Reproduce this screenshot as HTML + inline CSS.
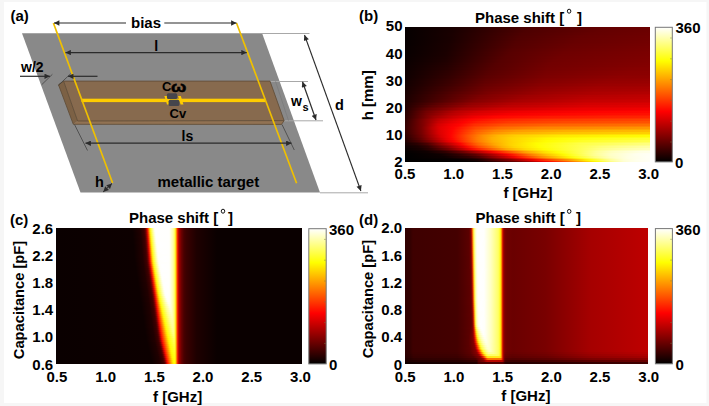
<!DOCTYPE html>
<html><head><meta charset="utf-8"><style>
html,body{margin:0;padding:0;background:#fff;}
body{width:709px;height:406px;overflow:hidden;}
svg{display:block;}
text{font-family:"Liberation Sans",sans-serif;font-weight:bold;fill:#000;}
</style></head><body>
<svg width="709" height="406" viewBox="0 0 709 406">
<defs>
<linearGradient id="gb0"><stop offset="0.0000" stop-color="#060000"/><stop offset="0.1990" stop-color="#1a0000"/><stop offset="0.5133" stop-color="#4d0000"/><stop offset="0.8582" stop-color="#650000"/><stop offset="1.0000" stop-color="#6a0000"/></linearGradient>
<linearGradient id="gb1"><stop offset="0.0000" stop-color="#060000"/><stop offset="0.1969" stop-color="#1a0000"/><stop offset="0.5010" stop-color="#4d0000"/><stop offset="0.8235" stop-color="#640000"/><stop offset="1.0000" stop-color="#6b0000"/></linearGradient>
<linearGradient id="gb2"><stop offset="0.0000" stop-color="#060000"/><stop offset="0.1949" stop-color="#190000"/><stop offset="0.4888" stop-color="#4d0000"/><stop offset="0.7888" stop-color="#640000"/><stop offset="1.0000" stop-color="#6c0000"/></linearGradient>
<linearGradient id="gb3"><stop offset="0.0000" stop-color="#060000"/><stop offset="0.1929" stop-color="#190000"/><stop offset="0.4806" stop-color="#4d0000"/><stop offset="0.7663" stop-color="#640000"/><stop offset="1.0000" stop-color="#6d0000"/></linearGradient>
<linearGradient id="gb4"><stop offset="0.0000" stop-color="#060000"/><stop offset="0.1929" stop-color="#1a0000"/><stop offset="0.4745" stop-color="#4e0000"/><stop offset="0.7480" stop-color="#640000"/><stop offset="1.0000" stop-color="#6e0000"/></linearGradient>
<linearGradient id="gb5"><stop offset="0.0000" stop-color="#060000"/><stop offset="0.1908" stop-color="#1a0000"/><stop offset="0.4684" stop-color="#4e0000"/><stop offset="0.7316" stop-color="#650000"/><stop offset="1.0000" stop-color="#6f0000"/></linearGradient>
<linearGradient id="gb6"><stop offset="0.0000" stop-color="#060000"/><stop offset="0.1867" stop-color="#190000"/><stop offset="0.4643" stop-color="#4f0000"/><stop offset="0.7214" stop-color="#650000"/><stop offset="1.0000" stop-color="#700000"/></linearGradient>
<linearGradient id="gb7"><stop offset="0.0000" stop-color="#060000"/><stop offset="0.1847" stop-color="#190000"/><stop offset="0.4602" stop-color="#500000"/><stop offset="0.7092" stop-color="#660000"/><stop offset="1.0000" stop-color="#710000"/></linearGradient>
<linearGradient id="gb8"><stop offset="0.0000" stop-color="#070000"/><stop offset="0.1827" stop-color="#190000"/><stop offset="0.4561" stop-color="#510000"/><stop offset="0.6990" stop-color="#670000"/><stop offset="1.0000" stop-color="#720000"/></linearGradient>
<linearGradient id="gb9"><stop offset="0.0000" stop-color="#070000"/><stop offset="0.1806" stop-color="#190000"/><stop offset="0.4520" stop-color="#520000"/><stop offset="0.6908" stop-color="#670000"/><stop offset="1.0000" stop-color="#730000"/></linearGradient>
<linearGradient id="gb10"><stop offset="0.0000" stop-color="#070000"/><stop offset="0.1786" stop-color="#1a0000"/><stop offset="0.4500" stop-color="#530000"/><stop offset="0.6867" stop-color="#680000"/><stop offset="1.0000" stop-color="#740000"/></linearGradient>
<linearGradient id="gb11"><stop offset="0.0000" stop-color="#070000"/><stop offset="0.1765" stop-color="#1a0000"/><stop offset="0.4459" stop-color="#530000"/><stop offset="0.6786" stop-color="#690000"/><stop offset="1.0000" stop-color="#750000"/></linearGradient>
<linearGradient id="gb12"><stop offset="0.0000" stop-color="#080000"/><stop offset="0.1745" stop-color="#1a0000"/><stop offset="0.4418" stop-color="#540000"/><stop offset="0.6724" stop-color="#6a0000"/><stop offset="1.0000" stop-color="#770000"/></linearGradient>
<linearGradient id="gb13"><stop offset="0.0000" stop-color="#080000"/><stop offset="0.1724" stop-color="#1a0000"/><stop offset="0.4378" stop-color="#550000"/><stop offset="0.6643" stop-color="#6b0000"/><stop offset="1.0000" stop-color="#780000"/></linearGradient>
<linearGradient id="gb14"><stop offset="0.0000" stop-color="#080000"/><stop offset="0.1704" stop-color="#1a0000"/><stop offset="0.4337" stop-color="#560000"/><stop offset="0.6602" stop-color="#6c0000"/><stop offset="1.0000" stop-color="#790000"/></linearGradient>
<linearGradient id="gb15"><stop offset="0.0000" stop-color="#080000"/><stop offset="0.1684" stop-color="#1a0000"/><stop offset="0.4296" stop-color="#560000"/><stop offset="0.6541" stop-color="#6d0000"/><stop offset="1.0000" stop-color="#7a0000"/></linearGradient>
<linearGradient id="gb16"><stop offset="0.0000" stop-color="#080000"/><stop offset="0.1684" stop-color="#1b0000"/><stop offset="0.4255" stop-color="#570000"/><stop offset="0.6500" stop-color="#6e0000"/><stop offset="1.0000" stop-color="#7b0000"/></linearGradient>
<linearGradient id="gb17"><stop offset="0.0000" stop-color="#090000"/><stop offset="0.1663" stop-color="#1b0000"/><stop offset="0.4194" stop-color="#570000"/><stop offset="0.6418" stop-color="#6f0000"/><stop offset="1.0000" stop-color="#7c0000"/></linearGradient>
<linearGradient id="gb18"><stop offset="0.0000" stop-color="#090000"/><stop offset="0.1663" stop-color="#1c0000"/><stop offset="0.4112" stop-color="#570000"/><stop offset="0.6337" stop-color="#700000"/><stop offset="1.0000" stop-color="#7d0000"/></linearGradient>
<linearGradient id="gb19"><stop offset="0.0000" stop-color="#0a0000"/><stop offset="0.1663" stop-color="#1d0000"/><stop offset="0.4031" stop-color="#560000"/><stop offset="0.6235" stop-color="#700000"/><stop offset="1.0000" stop-color="#7e0000"/></linearGradient>
<linearGradient id="gb20"><stop offset="0.0000" stop-color="#0a0000"/><stop offset="0.1663" stop-color="#1e0000"/><stop offset="0.3969" stop-color="#560000"/><stop offset="0.6173" stop-color="#710000"/><stop offset="1.0000" stop-color="#7f0000"/></linearGradient>
<linearGradient id="gb21"><stop offset="0.0000" stop-color="#0a0000"/><stop offset="0.1663" stop-color="#1f0000"/><stop offset="0.3888" stop-color="#560000"/><stop offset="0.6092" stop-color="#710000"/><stop offset="1.0000" stop-color="#800000"/></linearGradient>
<linearGradient id="gb22"><stop offset="0.0000" stop-color="#0b0000"/><stop offset="0.1684" stop-color="#210000"/><stop offset="0.3806" stop-color="#550000"/><stop offset="0.6010" stop-color="#720000"/><stop offset="1.0000" stop-color="#810000"/></linearGradient>
<linearGradient id="gb23"><stop offset="0.0000" stop-color="#0b0000"/><stop offset="0.1704" stop-color="#230000"/><stop offset="0.3704" stop-color="#550000"/><stop offset="0.5908" stop-color="#720000"/><stop offset="0.9949" stop-color="#820000"/><stop offset="1.0000" stop-color="#820000"/></linearGradient>
<linearGradient id="gb24"><stop offset="0.0000" stop-color="#0c0000"/><stop offset="0.1704" stop-color="#250000"/><stop offset="0.3643" stop-color="#550000"/><stop offset="0.5867" stop-color="#730000"/><stop offset="0.9847" stop-color="#830000"/><stop offset="1.0000" stop-color="#840000"/></linearGradient>
<linearGradient id="gb25"><stop offset="0.0000" stop-color="#0c0000"/><stop offset="0.1724" stop-color="#270000"/><stop offset="0.3582" stop-color="#550000"/><stop offset="0.5827" stop-color="#740000"/><stop offset="0.9704" stop-color="#850000"/><stop offset="1.0000" stop-color="#850000"/></linearGradient>
<linearGradient id="gb26"><stop offset="0.0000" stop-color="#0d0000"/><stop offset="0.1724" stop-color="#280000"/><stop offset="0.3520" stop-color="#550000"/><stop offset="0.5806" stop-color="#750000"/><stop offset="0.9582" stop-color="#860000"/><stop offset="1.0000" stop-color="#860000"/></linearGradient>
<linearGradient id="gb27"><stop offset="0.0000" stop-color="#0d0000"/><stop offset="0.1745" stop-color="#2b0000"/><stop offset="0.3459" stop-color="#560000"/><stop offset="0.5765" stop-color="#760000"/><stop offset="0.9316" stop-color="#870000"/><stop offset="1.0000" stop-color="#880000"/></linearGradient>
<linearGradient id="gb28"><stop offset="0.0000" stop-color="#0e0000"/><stop offset="0.1765" stop-color="#2d0000"/><stop offset="0.3418" stop-color="#570000"/><stop offset="0.5765" stop-color="#780000"/><stop offset="0.9194" stop-color="#890000"/><stop offset="1.0000" stop-color="#8a0000"/></linearGradient>
<linearGradient id="gb29"><stop offset="0.0000" stop-color="#0e0000"/><stop offset="0.1765" stop-color="#2f0000"/><stop offset="0.3378" stop-color="#580000"/><stop offset="0.5765" stop-color="#7a0000"/><stop offset="0.9071" stop-color="#8a0000"/><stop offset="1.0000" stop-color="#8b0000"/></linearGradient>
<linearGradient id="gb30"><stop offset="0.0000" stop-color="#0f0000"/><stop offset="0.1786" stop-color="#310000"/><stop offset="0.3357" stop-color="#5a0000"/><stop offset="0.5765" stop-color="#7c0000"/><stop offset="0.8969" stop-color="#8c0000"/><stop offset="1.0000" stop-color="#8d0000"/></linearGradient>
<linearGradient id="gb31"><stop offset="0.0000" stop-color="#0f0000"/><stop offset="0.1786" stop-color="#330000"/><stop offset="0.3316" stop-color="#5b0000"/><stop offset="0.5724" stop-color="#7d0000"/><stop offset="0.8745" stop-color="#8e0000"/><stop offset="1.0000" stop-color="#8f0000"/></linearGradient>
<linearGradient id="gb32"><stop offset="0.0000" stop-color="#100000"/><stop offset="0.1786" stop-color="#350000"/><stop offset="0.3296" stop-color="#5d0000"/><stop offset="0.5724" stop-color="#800000"/><stop offset="0.8622" stop-color="#900000"/><stop offset="1.0000" stop-color="#920000"/></linearGradient>
<linearGradient id="gb33"><stop offset="0.0000" stop-color="#110000"/><stop offset="0.1806" stop-color="#380000"/><stop offset="0.3276" stop-color="#5f0000"/><stop offset="0.5684" stop-color="#820000"/><stop offset="0.8418" stop-color="#920000"/><stop offset="1.0000" stop-color="#950000"/></linearGradient>
<linearGradient id="gb34"><stop offset="0.0000" stop-color="#120000"/><stop offset="0.1806" stop-color="#3a0000"/><stop offset="0.3276" stop-color="#620000"/><stop offset="0.5663" stop-color="#840000"/><stop offset="0.8296" stop-color="#950000"/><stop offset="1.0000" stop-color="#980000"/></linearGradient>
<linearGradient id="gb35"><stop offset="0.0000" stop-color="#120000"/><stop offset="0.1827" stop-color="#3c0000"/><stop offset="0.3255" stop-color="#640000"/><stop offset="0.5602" stop-color="#870000"/><stop offset="0.8112" stop-color="#970000"/><stop offset="1.0000" stop-color="#9b0000"/></linearGradient>
<linearGradient id="gb36"><stop offset="0.0000" stop-color="#130000"/><stop offset="0.1847" stop-color="#3f0000"/><stop offset="0.3255" stop-color="#670000"/><stop offset="0.5582" stop-color="#890000"/><stop offset="0.8010" stop-color="#9a0000"/><stop offset="1.0000" stop-color="#9e0000"/></linearGradient>
<linearGradient id="gb37"><stop offset="0.0000" stop-color="#140000"/><stop offset="0.1867" stop-color="#430000"/><stop offset="0.3255" stop-color="#6a0000"/><stop offset="0.5541" stop-color="#8c0000"/><stop offset="0.7908" stop-color="#9e0000"/><stop offset="1.0000" stop-color="#a20000"/></linearGradient>
<linearGradient id="gb38"><stop offset="0.0000" stop-color="#150000"/><stop offset="0.1908" stop-color="#470000"/><stop offset="0.3255" stop-color="#6d0000"/><stop offset="0.5480" stop-color="#8f0000"/><stop offset="0.7786" stop-color="#a10000"/><stop offset="1.0000" stop-color="#a60000"/></linearGradient>
<linearGradient id="gb39"><stop offset="0.0000" stop-color="#160000"/><stop offset="0.1949" stop-color="#4b0000"/><stop offset="0.3276" stop-color="#710000"/><stop offset="0.5459" stop-color="#930000"/><stop offset="0.7745" stop-color="#a50000"/><stop offset="1.0000" stop-color="#aa0000"/></linearGradient>
<linearGradient id="gb40"><stop offset="0.0000" stop-color="#170000"/><stop offset="0.1990" stop-color="#500000"/><stop offset="0.3296" stop-color="#750000"/><stop offset="0.5439" stop-color="#960000"/><stop offset="0.7704" stop-color="#a80000"/><stop offset="1.0000" stop-color="#ae0000"/></linearGradient>
<linearGradient id="gb41"><stop offset="0.0000" stop-color="#170000"/><stop offset="0.2071" stop-color="#560000"/><stop offset="0.3378" stop-color="#7a0000"/><stop offset="0.5541" stop-color="#9b0000"/><stop offset="0.7765" stop-color="#ad0000"/><stop offset="1.0000" stop-color="#b20000"/></linearGradient>
<linearGradient id="gb42"><stop offset="0.0000" stop-color="#190000"/><stop offset="0.2214" stop-color="#5f0000"/><stop offset="0.3602" stop-color="#840000"/><stop offset="0.6194" stop-color="#a70000"/><stop offset="0.9520" stop-color="#b70000"/><stop offset="1.0000" stop-color="#b80000"/></linearGradient>
<linearGradient id="gb43"><stop offset="0.0000" stop-color="#1a0000"/><stop offset="0.3092" stop-color="#7d0000"/><stop offset="0.4969" stop-color="#9e0000"/><stop offset="0.7439" stop-color="#b50000"/><stop offset="1.0000" stop-color="#bd0000"/></linearGradient>
<linearGradient id="gb44"><stop offset="0.0000" stop-color="#1b0000"/><stop offset="0.3031" stop-color="#800000"/><stop offset="0.4867" stop-color="#a10000"/><stop offset="0.7398" stop-color="#ba0000"/><stop offset="1.0000" stop-color="#c10000"/></linearGradient>
<linearGradient id="gb45"><stop offset="0.0000" stop-color="#1b0000"/><stop offset="0.2949" stop-color="#830000"/><stop offset="0.4745" stop-color="#a50000"/><stop offset="0.7378" stop-color="#bf0000"/><stop offset="1.0000" stop-color="#c60000"/></linearGradient>
<linearGradient id="gb46"><stop offset="0.0000" stop-color="#1c0000"/><stop offset="0.2867" stop-color="#860000"/><stop offset="0.4622" stop-color="#a80000"/><stop offset="0.7357" stop-color="#c40000"/><stop offset="1.0000" stop-color="#cb0000"/></linearGradient>
<linearGradient id="gb47"><stop offset="0.0000" stop-color="#1e0000"/><stop offset="0.2684" stop-color="#890000"/><stop offset="0.4378" stop-color="#ad0000"/><stop offset="0.7316" stop-color="#ca0000"/><stop offset="1.0000" stop-color="#d20000"/></linearGradient>
<linearGradient id="gb48"><stop offset="0.0000" stop-color="#1f0000"/><stop offset="0.1398" stop-color="#600000"/><stop offset="0.2724" stop-color="#940000"/><stop offset="0.4418" stop-color="#b60000"/><stop offset="0.7418" stop-color="#d20000"/><stop offset="1.0000" stop-color="#da0000"/></linearGradient>
<linearGradient id="gb49"><stop offset="0.0000" stop-color="#200000"/><stop offset="0.1092" stop-color="#5c0000"/><stop offset="0.2582" stop-color="#9a0000"/><stop offset="0.4214" stop-color="#bd0000"/><stop offset="0.7398" stop-color="#da0000"/><stop offset="1.0000" stop-color="#e10000"/></linearGradient>
<linearGradient id="gb50"><stop offset="0.0000" stop-color="#210000"/><stop offset="0.0969" stop-color="#5e0000"/><stop offset="0.2459" stop-color="#a10000"/><stop offset="0.4031" stop-color="#c40000"/><stop offset="0.7378" stop-color="#e20000"/><stop offset="1.0000" stop-color="#e80000"/></linearGradient>
<linearGradient id="gb51"><stop offset="0.0000" stop-color="#220000"/><stop offset="0.0888" stop-color="#630000"/><stop offset="0.2357" stop-color="#a90000"/><stop offset="0.3867" stop-color="#cc0000"/><stop offset="0.6908" stop-color="#e80000"/><stop offset="1.0000" stop-color="#f10000"/></linearGradient>
<linearGradient id="gb52"><stop offset="0.0000" stop-color="#240000"/><stop offset="0.0867" stop-color="#6a0000"/><stop offset="0.2255" stop-color="#b20000"/><stop offset="0.3602" stop-color="#d50000"/><stop offset="0.5724" stop-color="#eb0000"/><stop offset="0.9541" stop-color="#fa0000"/><stop offset="1.0000" stop-color="#fa0100"/></linearGradient>
<linearGradient id="gb53"><stop offset="0.0000" stop-color="#250000"/><stop offset="0.0847" stop-color="#710000"/><stop offset="0.2051" stop-color="#b70000"/><stop offset="0.3051" stop-color="#d70000"/><stop offset="0.4622" stop-color="#ef0000"/><stop offset="0.7827" stop-color="#fe0300"/><stop offset="1.0000" stop-color="#ff0700"/></linearGradient>
<linearGradient id="gb54"><stop offset="0.0000" stop-color="#270000"/><stop offset="0.0888" stop-color="#7a0000"/><stop offset="0.1847" stop-color="#b60000"/><stop offset="0.2745" stop-color="#da0000"/><stop offset="0.4214" stop-color="#f60000"/><stop offset="0.6582" stop-color="#ff0700"/><stop offset="1.0000" stop-color="#ff1000"/></linearGradient>
<linearGradient id="gb55"><stop offset="0.0000" stop-color="#280000"/><stop offset="0.0969" stop-color="#860000"/><stop offset="0.1724" stop-color="#b80000"/><stop offset="0.2704" stop-color="#e30000"/><stop offset="0.3908" stop-color="#fc0200"/><stop offset="0.8520" stop-color="#ff1800"/><stop offset="1.0000" stop-color="#ff1a00"/></linearGradient>
<linearGradient id="gb56"><stop offset="0.0000" stop-color="#2a0000"/><stop offset="0.1194" stop-color="#9e0000"/><stop offset="0.1969" stop-color="#cd0000"/><stop offset="0.2888" stop-color="#f30000"/><stop offset="0.3704" stop-color="#ff0700"/><stop offset="0.5786" stop-color="#ff1900"/><stop offset="1.0000" stop-color="#ff2500"/></linearGradient>
<linearGradient id="gb57"><stop offset="0.0000" stop-color="#2c0000"/><stop offset="0.1337" stop-color="#b40000"/><stop offset="0.2112" stop-color="#de0000"/><stop offset="0.2786" stop-color="#fc0200"/><stop offset="0.4500" stop-color="#ff1f00"/><stop offset="0.8827" stop-color="#ff3200"/><stop offset="1.0000" stop-color="#ff3400"/></linearGradient>
<linearGradient id="gb58"><stop offset="0.0000" stop-color="#2e0000"/><stop offset="0.1031" stop-color="#9e0000"/><stop offset="0.1439" stop-color="#c60000"/><stop offset="0.2582" stop-color="#fe0400"/><stop offset="0.3806" stop-color="#ff2500"/><stop offset="0.5724" stop-color="#ff3700"/><stop offset="1.0000" stop-color="#ff4300"/></linearGradient>
<linearGradient id="gb59"><stop offset="0.0000" stop-color="#300000"/><stop offset="0.0888" stop-color="#900000"/><stop offset="0.1357" stop-color="#c80000"/><stop offset="0.1867" stop-color="#e50000"/><stop offset="0.2418" stop-color="#fe0400"/><stop offset="0.2990" stop-color="#ff1d00"/><stop offset="0.4296" stop-color="#ff3900"/><stop offset="0.6582" stop-color="#ff4800"/><stop offset="1.0000" stop-color="#ff5100"/></linearGradient>
<linearGradient id="gb60"><stop offset="0.0000" stop-color="#320000"/><stop offset="0.0806" stop-color="#880000"/><stop offset="0.1337" stop-color="#ce0000"/><stop offset="0.1806" stop-color="#ea0000"/><stop offset="0.2296" stop-color="#fe0400"/><stop offset="0.2847" stop-color="#ff2400"/><stop offset="0.4133" stop-color="#ff4400"/><stop offset="0.6133" stop-color="#ff5500"/><stop offset="1.0000" stop-color="#ff6000"/></linearGradient>
<linearGradient id="gb61"><stop offset="0.0000" stop-color="#330000"/><stop offset="0.0745" stop-color="#810000"/><stop offset="0.1337" stop-color="#d40000"/><stop offset="0.1786" stop-color="#f00000"/><stop offset="0.2194" stop-color="#ff0400"/><stop offset="0.2827" stop-color="#ff2d00"/><stop offset="0.4051" stop-color="#ff5000"/><stop offset="0.5908" stop-color="#ff6300"/><stop offset="1.0000" stop-color="#ff7000"/></linearGradient>
<linearGradient id="gb62"><stop offset="0.0000" stop-color="#340000"/><stop offset="0.0684" stop-color="#7b0000"/><stop offset="0.1337" stop-color="#d90000"/><stop offset="0.1765" stop-color="#f40000"/><stop offset="0.2112" stop-color="#ff0500"/><stop offset="0.2827" stop-color="#ff3900"/><stop offset="0.3949" stop-color="#ff5d00"/><stop offset="0.5663" stop-color="#ff7300"/><stop offset="1.0000" stop-color="#ff8200"/></linearGradient>
<linearGradient id="gb63"><stop offset="0.0000" stop-color="#350000"/><stop offset="0.0663" stop-color="#790000"/><stop offset="0.1112" stop-color="#bc0000"/><stop offset="0.1398" stop-color="#e00000"/><stop offset="0.1969" stop-color="#ff0200"/><stop offset="0.2459" stop-color="#ff2800"/><stop offset="0.2888" stop-color="#ff4700"/><stop offset="0.3888" stop-color="#ff6c00"/><stop offset="0.5459" stop-color="#ff8300"/><stop offset="1.0000" stop-color="#ff9600"/></linearGradient>
<linearGradient id="gb64"><stop offset="0.0000" stop-color="#340000"/><stop offset="0.0663" stop-color="#780000"/><stop offset="0.1133" stop-color="#be0000"/><stop offset="0.1418" stop-color="#e10000"/><stop offset="0.1949" stop-color="#ff0400"/><stop offset="0.2459" stop-color="#ff2f00"/><stop offset="0.2888" stop-color="#ff5000"/><stop offset="0.3786" stop-color="#ff7800"/><stop offset="0.5031" stop-color="#ff9000"/><stop offset="0.8296" stop-color="#ffa200"/><stop offset="1.0000" stop-color="#ffa700"/></linearGradient>
<linearGradient id="gb65"><stop offset="0.0000" stop-color="#330000"/><stop offset="0.0663" stop-color="#770000"/><stop offset="0.1357" stop-color="#da0000"/><stop offset="0.1908" stop-color="#ff0300"/><stop offset="0.2439" stop-color="#ff3300"/><stop offset="0.2888" stop-color="#ff5b00"/><stop offset="0.3684" stop-color="#ff8400"/><stop offset="0.4582" stop-color="#ff9c00"/><stop offset="0.6541" stop-color="#ffae00"/><stop offset="1.0000" stop-color="#ffbb00"/></linearGradient>
<linearGradient id="gb66"><stop offset="0.0000" stop-color="#310000"/><stop offset="0.0663" stop-color="#750000"/><stop offset="0.1357" stop-color="#d80000"/><stop offset="0.1888" stop-color="#ff0300"/><stop offset="0.2459" stop-color="#ff3c00"/><stop offset="0.2929" stop-color="#ff6800"/><stop offset="0.3643" stop-color="#ff9300"/><stop offset="0.4418" stop-color="#ffab00"/><stop offset="0.6276" stop-color="#ffc000"/><stop offset="1.0000" stop-color="#ffcf00"/></linearGradient>
<linearGradient id="gb67"><stop offset="0.0000" stop-color="#2e0000"/><stop offset="0.0663" stop-color="#720000"/><stop offset="0.1398" stop-color="#d90000"/><stop offset="0.1867" stop-color="#ff0300"/><stop offset="0.2480" stop-color="#ff4500"/><stop offset="0.2990" stop-color="#ff7700"/><stop offset="0.3622" stop-color="#ffa200"/><stop offset="0.4357" stop-color="#ffbe00"/><stop offset="0.6173" stop-color="#ffd500"/><stop offset="1.0000" stop-color="#ffe700"/></linearGradient>
<linearGradient id="gb68"><stop offset="0.0000" stop-color="#2a0000"/><stop offset="0.0663" stop-color="#6e0000"/><stop offset="0.1439" stop-color="#d90000"/><stop offset="0.1867" stop-color="#ff0300"/><stop offset="0.2561" stop-color="#ff5300"/><stop offset="0.3194" stop-color="#ff9100"/><stop offset="0.3827" stop-color="#ffb900"/><stop offset="0.4541" stop-color="#ffd000"/><stop offset="0.6418" stop-color="#ffea00"/><stop offset="0.9888" stop-color="#fffb05"/><stop offset="1.0000" stop-color="#fffb05"/></linearGradient>
<linearGradient id="gb69"><stop offset="0.0000" stop-color="#280000"/><stop offset="0.0643" stop-color="#680000"/><stop offset="0.1500" stop-color="#dc0000"/><stop offset="0.1867" stop-color="#ff0300"/><stop offset="0.2929" stop-color="#ff7c00"/><stop offset="0.3541" stop-color="#ffae00"/><stop offset="0.4296" stop-color="#ffd000"/><stop offset="0.5867" stop-color="#fff000"/><stop offset="0.7500" stop-color="#fffd06"/><stop offset="1.0000" stop-color="#ffff1a"/></linearGradient>
<linearGradient id="gb70"><stop offset="0.0000" stop-color="#240000"/><stop offset="0.0622" stop-color="#5f0000"/><stop offset="0.1112" stop-color="#a00000"/><stop offset="0.1663" stop-color="#e80000"/><stop offset="0.1908" stop-color="#fe0400"/><stop offset="0.2929" stop-color="#ff7b00"/><stop offset="0.3541" stop-color="#ffae00"/><stop offset="0.4316" stop-color="#ffd200"/><stop offset="0.5745" stop-color="#fff600"/><stop offset="0.6724" stop-color="#ffff0b"/><stop offset="0.9418" stop-color="#ffff2f"/><stop offset="1.0000" stop-color="#ffff33"/></linearGradient>
<linearGradient id="gb71"><stop offset="0.0000" stop-color="#200000"/><stop offset="0.0561" stop-color="#4d0000"/><stop offset="0.0990" stop-color="#7f0000"/><stop offset="0.1704" stop-color="#e10000"/><stop offset="0.1990" stop-color="#fd0400"/><stop offset="0.2480" stop-color="#ff4100"/><stop offset="0.2990" stop-color="#ff7d00"/><stop offset="0.3602" stop-color="#ffaf00"/><stop offset="0.4398" stop-color="#ffd600"/><stop offset="0.5765" stop-color="#fffd01"/><stop offset="0.7357" stop-color="#ffff28"/><stop offset="0.9806" stop-color="#ffff4a"/><stop offset="1.0000" stop-color="#ffff4b"/></linearGradient>
<linearGradient id="gb72"><stop offset="0.0000" stop-color="#1a0000"/><stop offset="0.0520" stop-color="#3a0000"/><stop offset="0.0949" stop-color="#650000"/><stop offset="0.1990" stop-color="#ee0000"/><stop offset="0.2173" stop-color="#fe0800"/><stop offset="0.2847" stop-color="#ff6400"/><stop offset="0.3500" stop-color="#ffa300"/><stop offset="0.4194" stop-color="#ffcd00"/><stop offset="0.5296" stop-color="#fff700"/><stop offset="0.5724" stop-color="#ffff06"/><stop offset="0.7153" stop-color="#ffff39"/><stop offset="0.9847" stop-color="#ffff64"/><stop offset="1.0000" stop-color="#ffff66"/></linearGradient>
<linearGradient id="gb73"><stop offset="0.0000" stop-color="#150000"/><stop offset="0.0500" stop-color="#2a0000"/><stop offset="0.0908" stop-color="#4a0000"/><stop offset="0.2255" stop-color="#fa0300"/><stop offset="0.2541" stop-color="#ff2d00"/><stop offset="0.2969" stop-color="#ff6600"/><stop offset="0.3643" stop-color="#ffa700"/><stop offset="0.4276" stop-color="#ffd100"/><stop offset="0.5378" stop-color="#fffd00"/><stop offset="0.7173" stop-color="#ffff49"/><stop offset="0.9541" stop-color="#ffff79"/><stop offset="1.0000" stop-color="#ffff7f"/></linearGradient>
<linearGradient id="gb74"><stop offset="0.0000" stop-color="#110000"/><stop offset="0.0500" stop-color="#200000"/><stop offset="0.0908" stop-color="#3b0000"/><stop offset="0.1929" stop-color="#ba0000"/><stop offset="0.2357" stop-color="#f90300"/><stop offset="0.2582" stop-color="#ff2300"/><stop offset="0.3010" stop-color="#ff5e00"/><stop offset="0.3827" stop-color="#ffb000"/><stop offset="0.4378" stop-color="#ffd600"/><stop offset="0.5439" stop-color="#ffff01"/><stop offset="0.7071" stop-color="#ffff4c"/><stop offset="0.8663" stop-color="#ffff7c"/><stop offset="1.0000" stop-color="#ffff93"/></linearGradient>
<linearGradient id="gb75"><stop offset="0.0000" stop-color="#0d0000"/><stop offset="0.0541" stop-color="#1b0000"/><stop offset="0.0949" stop-color="#330000"/><stop offset="0.1786" stop-color="#910000"/><stop offset="0.2337" stop-color="#e10000"/><stop offset="0.2520" stop-color="#fa0700"/><stop offset="0.2990" stop-color="#ff4800"/><stop offset="0.3969" stop-color="#ffb200"/><stop offset="0.4459" stop-color="#ffd400"/><stop offset="0.5480" stop-color="#fffe02"/><stop offset="0.8071" stop-color="#ffff7c"/><stop offset="0.9582" stop-color="#ffffa2"/><stop offset="1.0000" stop-color="#ffffa7"/></linearGradient>
<linearGradient id="gb76"><stop offset="0.0000" stop-color="#090000"/><stop offset="0.0622" stop-color="#170000"/><stop offset="0.1051" stop-color="#2f0000"/><stop offset="0.1745" stop-color="#720000"/><stop offset="0.2337" stop-color="#c10000"/><stop offset="0.2663" stop-color="#f10400"/><stop offset="0.2929" stop-color="#fe1d00"/><stop offset="0.4133" stop-color="#ffa700"/><stop offset="0.4888" stop-color="#ffdb00"/><stop offset="0.5684" stop-color="#fffd03"/><stop offset="0.7235" stop-color="#ffff59"/><stop offset="0.7990" stop-color="#ffff88"/><stop offset="0.8949" stop-color="#ffffa9"/><stop offset="1.0000" stop-color="#ffffbd"/></linearGradient>
<linearGradient id="gb77"><stop offset="0.0000" stop-color="#050000"/><stop offset="0.0765" stop-color="#130000"/><stop offset="0.1459" stop-color="#3a0000"/><stop offset="0.2071" stop-color="#750000"/><stop offset="0.2969" stop-color="#e50300"/><stop offset="0.3316" stop-color="#fb1900"/><stop offset="0.4337" stop-color="#ff8f00"/><stop offset="0.5051" stop-color="#ffcb00"/><stop offset="0.5888" stop-color="#fffb02"/><stop offset="0.6398" stop-color="#ffff21"/><stop offset="0.7214" stop-color="#ffff5a"/><stop offset="0.7847" stop-color="#ffff8e"/><stop offset="0.8520" stop-color="#ffffb2"/><stop offset="0.9684" stop-color="#ffffd2"/><stop offset="1.0000" stop-color="#ffffd5"/></linearGradient>
<linearGradient id="gb78"><stop offset="0.0000" stop-color="#020000"/><stop offset="0.0908" stop-color="#0f0000"/><stop offset="0.1643" stop-color="#2f0000"/><stop offset="0.2398" stop-color="#6f0000"/><stop offset="0.3480" stop-color="#eb0400"/><stop offset="0.3765" stop-color="#fd1800"/><stop offset="0.4867" stop-color="#ff9c00"/><stop offset="0.5663" stop-color="#ffde00"/><stop offset="0.6214" stop-color="#fffd05"/><stop offset="0.7214" stop-color="#ffff5b"/><stop offset="0.7806" stop-color="#ffff96"/><stop offset="0.8439" stop-color="#ffffc0"/><stop offset="0.9582" stop-color="#ffffe4"/><stop offset="1.0000" stop-color="#ffffe8"/></linearGradient>
<linearGradient id="gb79"><stop offset="0.0000" stop-color="#000000"/><stop offset="0.1112" stop-color="#0e0000"/><stop offset="0.1724" stop-color="#220000"/><stop offset="0.2541" stop-color="#5b0000"/><stop offset="0.3133" stop-color="#970000"/><stop offset="0.3867" stop-color="#f10400"/><stop offset="0.4133" stop-color="#fe1b00"/><stop offset="0.5010" stop-color="#ff8c00"/><stop offset="0.5724" stop-color="#ffd100"/><stop offset="0.6378" stop-color="#fffd04"/><stop offset="0.7337" stop-color="#ffff6b"/><stop offset="0.7867" stop-color="#ffffa1"/><stop offset="0.8439" stop-color="#ffffc8"/><stop offset="0.9541" stop-color="#ffffed"/><stop offset="1.0000" stop-color="#fffff2"/></linearGradient>
<linearGradient id="gb80"><stop offset="0.0000" stop-color="#000000"/><stop offset="0.1418" stop-color="#0e0000"/><stop offset="0.2173" stop-color="#2d0000"/><stop offset="0.2867" stop-color="#5b0000"/><stop offset="0.3643" stop-color="#b20000"/><stop offset="0.4173" stop-color="#f30400"/><stop offset="0.4418" stop-color="#fe1b00"/><stop offset="0.5153" stop-color="#ff7e00"/><stop offset="0.5806" stop-color="#ffc300"/><stop offset="0.6500" stop-color="#fffa03"/><stop offset="0.6806" stop-color="#ffff24"/><stop offset="0.7704" stop-color="#ffff90"/><stop offset="0.8357" stop-color="#ffffc5"/><stop offset="0.9378" stop-color="#ffffec"/><stop offset="1.0000" stop-color="#fffff5"/></linearGradient>
<linearGradient id="gb81"><stop offset="0.0000" stop-color="#000000"/><stop offset="0.1602" stop-color="#0d0000"/><stop offset="0.2561" stop-color="#300000"/><stop offset="0.3031" stop-color="#500000"/><stop offset="0.4051" stop-color="#c20000"/><stop offset="0.4459" stop-color="#f40500"/><stop offset="0.4724" stop-color="#fe2100"/><stop offset="0.5582" stop-color="#ff8e00"/><stop offset="0.6684" stop-color="#fff503"/><stop offset="0.6929" stop-color="#fffe1a"/><stop offset="0.7724" stop-color="#ffff82"/><stop offset="0.8378" stop-color="#ffffc0"/><stop offset="0.9112" stop-color="#ffffe4"/><stop offset="0.9908" stop-color="#fffff5"/><stop offset="1.0000" stop-color="#fffff5"/></linearGradient>
<linearGradient id="gb82"><stop offset="0.0000" stop-color="#000000"/><stop offset="0.1827" stop-color="#0a0000"/><stop offset="0.2724" stop-color="#220000"/><stop offset="0.3133" stop-color="#3d0000"/><stop offset="0.4214" stop-color="#aa0000"/><stop offset="0.4765" stop-color="#ec0500"/><stop offset="0.5071" stop-color="#fd1d00"/><stop offset="0.5786" stop-color="#ff7300"/><stop offset="0.6724" stop-color="#ffd200"/><stop offset="0.7051" stop-color="#fff307"/><stop offset="0.7337" stop-color="#fffe24"/><stop offset="0.8214" stop-color="#ffff9e"/><stop offset="0.8684" stop-color="#ffffca"/><stop offset="0.9112" stop-color="#ffffe3"/><stop offset="0.9888" stop-color="#fffff4"/><stop offset="1.0000" stop-color="#fffff5"/></linearGradient>
<linearGradient id="gb83"><stop offset="0.0000" stop-color="#000000"/><stop offset="0.2276" stop-color="#070000"/><stop offset="0.2949" stop-color="#180000"/><stop offset="0.4276" stop-color="#820000"/><stop offset="0.5194" stop-color="#e90400"/><stop offset="0.5480" stop-color="#fc1800"/><stop offset="0.6561" stop-color="#ff8900"/><stop offset="0.7378" stop-color="#ffee04"/><stop offset="0.7602" stop-color="#fffd17"/><stop offset="0.8398" stop-color="#ffff9d"/><stop offset="0.8929" stop-color="#ffffd6"/><stop offset="0.9439" stop-color="#ffffec"/><stop offset="1.0000" stop-color="#fffff5"/></linearGradient>
<linearGradient id="gb84"><stop offset="0.0000" stop-color="#000000"/><stop offset="0.2786" stop-color="#050000"/><stop offset="0.3173" stop-color="#160000"/><stop offset="0.4418" stop-color="#650000"/><stop offset="0.5071" stop-color="#a70000"/><stop offset="0.5602" stop-color="#ea0400"/><stop offset="0.5969" stop-color="#fe1600"/><stop offset="0.6541" stop-color="#ff5500"/><stop offset="0.7663" stop-color="#fff003"/><stop offset="0.7847" stop-color="#fffe14"/><stop offset="0.8378" stop-color="#ffff82"/><stop offset="0.8908" stop-color="#ffffcd"/><stop offset="0.9235" stop-color="#ffffe4"/><stop offset="0.9929" stop-color="#fffff5"/><stop offset="1.0000" stop-color="#fffff5"/></linearGradient>
<linearGradient id="gc0"><stop offset="0.0000" stop-color="#0a0000"/><stop offset="0.3100" stop-color="#0d0000"/><stop offset="0.3425" stop-color="#1f0000"/><stop offset="0.3567" stop-color="#390000"/><stop offset="0.3608" stop-color="#4b0000"/><stop offset="0.3648" stop-color="#730000"/><stop offset="0.3689" stop-color="#b00300"/><stop offset="0.3709" stop-color="#d10b00"/><stop offset="0.3730" stop-color="#ea1f00"/><stop offset="0.3750" stop-color="#f84200"/><stop offset="0.3791" stop-color="#ff9f02"/><stop offset="0.3811" stop-color="#ffc908"/><stop offset="0.3831" stop-color="#ffe715"/><stop offset="0.3852" stop-color="#fff72a"/><stop offset="0.3892" stop-color="#ffff62"/><stop offset="0.3953" stop-color="#ffffb4"/><stop offset="0.3994" stop-color="#ffffe1"/><stop offset="0.4014" stop-color="#fffff1"/><stop offset="0.4055" stop-color="#fffffe"/><stop offset="0.4604" stop-color="#fffffd"/><stop offset="0.4644" stop-color="#fffff2"/><stop offset="0.4746" stop-color="#ffffb7"/><stop offset="0.4787" stop-color="#ffff95"/><stop offset="0.4807" stop-color="#ffff80"/><stop offset="0.4827" stop-color="#fffd63"/><stop offset="0.4848" stop-color="#fff542"/><stop offset="0.4868" stop-color="#ffe022"/><stop offset="0.4888" stop-color="#ffb90d"/><stop offset="0.4909" stop-color="#fe8504"/><stop offset="0.4929" stop-color="#f95101"/><stop offset="0.4949" stop-color="#ee2800"/><stop offset="0.4970" stop-color="#d90f00"/><stop offset="0.4990" stop-color="#c00400"/><stop offset="0.5030" stop-color="#970000"/><stop offset="0.5112" stop-color="#6b0000"/><stop offset="0.5213" stop-color="#480000"/><stop offset="0.5315" stop-color="#3a0000"/><stop offset="0.5722" stop-color="#1e0000"/><stop offset="0.6555" stop-color="#0a0000"/><stop offset="1.0000" stop-color="#0a0000"/></linearGradient>
<linearGradient id="gc1"><stop offset="0.0000" stop-color="#0a0000"/><stop offset="0.3100" stop-color="#0d0000"/><stop offset="0.3445" stop-color="#210000"/><stop offset="0.3587" stop-color="#3e0000"/><stop offset="0.3628" stop-color="#560000"/><stop offset="0.3648" stop-color="#6b0000"/><stop offset="0.3689" stop-color="#a60200"/><stop offset="0.3709" stop-color="#c70800"/><stop offset="0.3730" stop-color="#e31800"/><stop offset="0.3750" stop-color="#f43600"/><stop offset="0.3791" stop-color="#fe8f01"/><stop offset="0.3811" stop-color="#ffbc05"/><stop offset="0.3831" stop-color="#ffdf0f"/><stop offset="0.3852" stop-color="#fff321"/><stop offset="0.3872" stop-color="#fffc3a"/><stop offset="0.3953" stop-color="#ffffa9"/><stop offset="0.3994" stop-color="#ffffd8"/><stop offset="0.4014" stop-color="#ffffea"/><stop offset="0.4035" stop-color="#fffff6"/><stop offset="0.4075" stop-color="#fffffe"/><stop offset="0.4604" stop-color="#fffffd"/><stop offset="0.4644" stop-color="#fffff2"/><stop offset="0.4746" stop-color="#ffffb7"/><stop offset="0.4787" stop-color="#ffff95"/><stop offset="0.4807" stop-color="#ffff80"/><stop offset="0.4827" stop-color="#fffd63"/><stop offset="0.4848" stop-color="#fff542"/><stop offset="0.4868" stop-color="#ffe022"/><stop offset="0.4888" stop-color="#ffb90d"/><stop offset="0.4909" stop-color="#fe8504"/><stop offset="0.4929" stop-color="#f95101"/><stop offset="0.4949" stop-color="#ee2800"/><stop offset="0.4970" stop-color="#d90f00"/><stop offset="0.4990" stop-color="#c00400"/><stop offset="0.5030" stop-color="#970000"/><stop offset="0.5112" stop-color="#6b0000"/><stop offset="0.5213" stop-color="#480000"/><stop offset="0.5315" stop-color="#3a0000"/><stop offset="0.5722" stop-color="#1e0000"/><stop offset="0.6555" stop-color="#0a0000"/><stop offset="1.0000" stop-color="#0a0000"/></linearGradient>
<linearGradient id="gc2"><stop offset="0.0000" stop-color="#0a0000"/><stop offset="0.3120" stop-color="#0d0000"/><stop offset="0.3445" stop-color="#200000"/><stop offset="0.3587" stop-color="#3c0000"/><stop offset="0.3628" stop-color="#510000"/><stop offset="0.3669" stop-color="#7d0000"/><stop offset="0.3709" stop-color="#bd0500"/><stop offset="0.3730" stop-color="#db1200"/><stop offset="0.3750" stop-color="#f02b00"/><stop offset="0.3770" stop-color="#fa5100"/><stop offset="0.3811" stop-color="#ffad03"/><stop offset="0.3831" stop-color="#ffd30b"/><stop offset="0.3852" stop-color="#ffed19"/><stop offset="0.3872" stop-color="#fff92f"/><stop offset="0.3933" stop-color="#ffff83"/><stop offset="0.3994" stop-color="#ffffce"/><stop offset="0.4035" stop-color="#fffff1"/><stop offset="0.4075" stop-color="#fffffe"/><stop offset="0.4604" stop-color="#fffffd"/><stop offset="0.4644" stop-color="#fffff2"/><stop offset="0.4746" stop-color="#ffffb7"/><stop offset="0.4787" stop-color="#ffff95"/><stop offset="0.4807" stop-color="#ffff80"/><stop offset="0.4827" stop-color="#fffd63"/><stop offset="0.4848" stop-color="#fff542"/><stop offset="0.4868" stop-color="#ffe022"/><stop offset="0.4888" stop-color="#ffb90d"/><stop offset="0.4909" stop-color="#fe8504"/><stop offset="0.4929" stop-color="#f95101"/><stop offset="0.4949" stop-color="#ee2800"/><stop offset="0.4970" stop-color="#d90f00"/><stop offset="0.4990" stop-color="#c00400"/><stop offset="0.5030" stop-color="#970000"/><stop offset="0.5112" stop-color="#6b0000"/><stop offset="0.5213" stop-color="#480000"/><stop offset="0.5315" stop-color="#3a0000"/><stop offset="0.5722" stop-color="#1e0000"/><stop offset="0.6555" stop-color="#0a0000"/><stop offset="1.0000" stop-color="#0a0000"/></linearGradient>
<linearGradient id="gc3"><stop offset="0.0000" stop-color="#0a0000"/><stop offset="0.3120" stop-color="#0d0000"/><stop offset="0.3445" stop-color="#1f0000"/><stop offset="0.3587" stop-color="#3a0000"/><stop offset="0.3628" stop-color="#4c0000"/><stop offset="0.3669" stop-color="#740000"/><stop offset="0.3709" stop-color="#b20300"/><stop offset="0.3730" stop-color="#d20c00"/><stop offset="0.3750" stop-color="#eb2000"/><stop offset="0.3770" stop-color="#f84200"/><stop offset="0.3831" stop-color="#ffc707"/><stop offset="0.3852" stop-color="#ffe612"/><stop offset="0.3872" stop-color="#fff726"/><stop offset="0.3913" stop-color="#ffff5b"/><stop offset="0.3974" stop-color="#ffffac"/><stop offset="0.4014" stop-color="#ffffd9"/><stop offset="0.4055" stop-color="#fffff7"/><stop offset="0.4096" stop-color="#fffffe"/><stop offset="0.4604" stop-color="#fffffd"/><stop offset="0.4644" stop-color="#fffff2"/><stop offset="0.4746" stop-color="#ffffb7"/><stop offset="0.4787" stop-color="#ffff95"/><stop offset="0.4807" stop-color="#ffff80"/><stop offset="0.4827" stop-color="#fffd63"/><stop offset="0.4848" stop-color="#fff542"/><stop offset="0.4868" stop-color="#ffe022"/><stop offset="0.4888" stop-color="#ffb90d"/><stop offset="0.4909" stop-color="#fe8504"/><stop offset="0.4929" stop-color="#f95101"/><stop offset="0.4949" stop-color="#ee2800"/><stop offset="0.4970" stop-color="#d90f00"/><stop offset="0.4990" stop-color="#c00400"/><stop offset="0.5030" stop-color="#970000"/><stop offset="0.5112" stop-color="#6b0000"/><stop offset="0.5213" stop-color="#480000"/><stop offset="0.5315" stop-color="#3a0000"/><stop offset="0.5722" stop-color="#1e0000"/><stop offset="0.6555" stop-color="#0a0000"/><stop offset="1.0000" stop-color="#0a0000"/></linearGradient>
<linearGradient id="gc4"><stop offset="0.0000" stop-color="#0a0000"/><stop offset="0.3120" stop-color="#0d0000"/><stop offset="0.3465" stop-color="#210000"/><stop offset="0.3608" stop-color="#3e0000"/><stop offset="0.3648" stop-color="#570000"/><stop offset="0.3669" stop-color="#6c0000"/><stop offset="0.3709" stop-color="#a80200"/><stop offset="0.3730" stop-color="#c90800"/><stop offset="0.3750" stop-color="#e41800"/><stop offset="0.3770" stop-color="#f53600"/><stop offset="0.3811" stop-color="#fe8d01"/><stop offset="0.3831" stop-color="#ffb904"/><stop offset="0.3852" stop-color="#ffdc0d"/><stop offset="0.3872" stop-color="#fff11d"/><stop offset="0.3892" stop-color="#fffb34"/><stop offset="0.3994" stop-color="#ffffb9"/><stop offset="0.4035" stop-color="#ffffe3"/><stop offset="0.4055" stop-color="#fffff2"/><stop offset="0.4096" stop-color="#fffffe"/><stop offset="0.4604" stop-color="#fffffd"/><stop offset="0.4644" stop-color="#fffff2"/><stop offset="0.4746" stop-color="#ffffb7"/><stop offset="0.4787" stop-color="#ffff95"/><stop offset="0.4807" stop-color="#ffff80"/><stop offset="0.4827" stop-color="#fffd63"/><stop offset="0.4848" stop-color="#fff542"/><stop offset="0.4868" stop-color="#ffe022"/><stop offset="0.4888" stop-color="#ffb90d"/><stop offset="0.4909" stop-color="#fe8504"/><stop offset="0.4929" stop-color="#f95101"/><stop offset="0.4949" stop-color="#ee2800"/><stop offset="0.4970" stop-color="#d90f00"/><stop offset="0.4990" stop-color="#c00400"/><stop offset="0.5030" stop-color="#970000"/><stop offset="0.5112" stop-color="#6b0000"/><stop offset="0.5213" stop-color="#480000"/><stop offset="0.5315" stop-color="#3a0000"/><stop offset="0.5722" stop-color="#1e0000"/><stop offset="0.6555" stop-color="#0a0000"/><stop offset="1.0000" stop-color="#0a0000"/></linearGradient>
<linearGradient id="gc5"><stop offset="0.0000" stop-color="#0a0000"/><stop offset="0.3140" stop-color="#0d0000"/><stop offset="0.3465" stop-color="#200000"/><stop offset="0.3608" stop-color="#3c0000"/><stop offset="0.3648" stop-color="#520000"/><stop offset="0.3669" stop-color="#650000"/><stop offset="0.3709" stop-color="#9d0100"/><stop offset="0.3730" stop-color="#be0500"/><stop offset="0.3750" stop-color="#dc1200"/><stop offset="0.3770" stop-color="#f02b00"/><stop offset="0.3791" stop-color="#fb5000"/><stop offset="0.3831" stop-color="#ffaa03"/><stop offset="0.3852" stop-color="#ffd009"/><stop offset="0.3872" stop-color="#ffeb16"/><stop offset="0.3892" stop-color="#fff92b"/><stop offset="0.3953" stop-color="#ffff7b"/><stop offset="0.4014" stop-color="#ffffc5"/><stop offset="0.4055" stop-color="#ffffeb"/><stop offset="0.4096" stop-color="#fffffd"/><stop offset="0.4604" stop-color="#fffffd"/><stop offset="0.4644" stop-color="#fffff2"/><stop offset="0.4746" stop-color="#ffffb7"/><stop offset="0.4787" stop-color="#ffff95"/><stop offset="0.4807" stop-color="#ffff80"/><stop offset="0.4827" stop-color="#fffd63"/><stop offset="0.4848" stop-color="#fff542"/><stop offset="0.4868" stop-color="#ffe022"/><stop offset="0.4888" stop-color="#ffb90d"/><stop offset="0.4909" stop-color="#fe8504"/><stop offset="0.4929" stop-color="#f95101"/><stop offset="0.4949" stop-color="#ee2800"/><stop offset="0.4970" stop-color="#d90f00"/><stop offset="0.4990" stop-color="#c00400"/><stop offset="0.5030" stop-color="#970000"/><stop offset="0.5112" stop-color="#6b0000"/><stop offset="0.5213" stop-color="#480000"/><stop offset="0.5315" stop-color="#3a0000"/><stop offset="0.5722" stop-color="#1e0000"/><stop offset="0.6555" stop-color="#0a0000"/><stop offset="1.0000" stop-color="#0a0000"/></linearGradient>
<linearGradient id="gc6"><stop offset="0.0000" stop-color="#0a0000"/><stop offset="0.3140" stop-color="#0d0000"/><stop offset="0.3465" stop-color="#1f0000"/><stop offset="0.3608" stop-color="#3a0000"/><stop offset="0.3648" stop-color="#4d0000"/><stop offset="0.3689" stop-color="#750000"/><stop offset="0.3730" stop-color="#b40300"/><stop offset="0.3750" stop-color="#d40c00"/><stop offset="0.3770" stop-color="#ec2000"/><stop offset="0.3791" stop-color="#f94200"/><stop offset="0.3852" stop-color="#ffc405"/><stop offset="0.3872" stop-color="#ffe30f"/><stop offset="0.3892" stop-color="#fff521"/><stop offset="0.3933" stop-color="#ffff54"/><stop offset="0.4014" stop-color="#ffffbb"/><stop offset="0.4055" stop-color="#ffffe4"/><stop offset="0.4075" stop-color="#fffff2"/><stop offset="0.4116" stop-color="#fffffe"/><stop offset="0.4604" stop-color="#fffffd"/><stop offset="0.4644" stop-color="#fffff2"/><stop offset="0.4746" stop-color="#ffffb7"/><stop offset="0.4787" stop-color="#ffff95"/><stop offset="0.4807" stop-color="#ffff80"/><stop offset="0.4827" stop-color="#fffd63"/><stop offset="0.4848" stop-color="#fff542"/><stop offset="0.4868" stop-color="#ffe022"/><stop offset="0.4888" stop-color="#ffb90d"/><stop offset="0.4909" stop-color="#fe8504"/><stop offset="0.4929" stop-color="#f95101"/><stop offset="0.4949" stop-color="#ee2800"/><stop offset="0.4970" stop-color="#d90f00"/><stop offset="0.4990" stop-color="#c00400"/><stop offset="0.5030" stop-color="#970000"/><stop offset="0.5112" stop-color="#6b0000"/><stop offset="0.5213" stop-color="#480000"/><stop offset="0.5315" stop-color="#3a0000"/><stop offset="0.5722" stop-color="#1e0000"/><stop offset="0.6555" stop-color="#0a0000"/><stop offset="1.0000" stop-color="#0a0000"/></linearGradient>
<linearGradient id="gc7"><stop offset="0.0000" stop-color="#0a0000"/><stop offset="0.3140" stop-color="#0d0000"/><stop offset="0.3486" stop-color="#210000"/><stop offset="0.3628" stop-color="#3e0000"/><stop offset="0.3669" stop-color="#580000"/><stop offset="0.3689" stop-color="#6d0000"/><stop offset="0.3730" stop-color="#a90200"/><stop offset="0.3750" stop-color="#ca0800"/><stop offset="0.3770" stop-color="#e51800"/><stop offset="0.3791" stop-color="#f63500"/><stop offset="0.3831" stop-color="#ff8a01"/><stop offset="0.3852" stop-color="#ffb603"/><stop offset="0.3872" stop-color="#ffd90b"/><stop offset="0.3892" stop-color="#fff01a"/><stop offset="0.3913" stop-color="#fffa2f"/><stop offset="0.4014" stop-color="#ffffb1"/><stop offset="0.4055" stop-color="#ffffdb"/><stop offset="0.4096" stop-color="#fffff7"/><stop offset="0.4157" stop-color="#ffffff"/><stop offset="0.4604" stop-color="#fffffd"/><stop offset="0.4644" stop-color="#fffff2"/><stop offset="0.4746" stop-color="#ffffb7"/><stop offset="0.4787" stop-color="#ffff95"/><stop offset="0.4807" stop-color="#ffff80"/><stop offset="0.4827" stop-color="#fffd63"/><stop offset="0.4848" stop-color="#fff542"/><stop offset="0.4868" stop-color="#ffe022"/><stop offset="0.4888" stop-color="#ffb90d"/><stop offset="0.4909" stop-color="#fe8504"/><stop offset="0.4929" stop-color="#f95101"/><stop offset="0.4949" stop-color="#ee2800"/><stop offset="0.4970" stop-color="#d90f00"/><stop offset="0.4990" stop-color="#c00400"/><stop offset="0.5030" stop-color="#970000"/><stop offset="0.5112" stop-color="#6b0000"/><stop offset="0.5213" stop-color="#480000"/><stop offset="0.5315" stop-color="#3a0000"/><stop offset="0.5722" stop-color="#1e0000"/><stop offset="0.6555" stop-color="#0a0000"/><stop offset="1.0000" stop-color="#0a0000"/></linearGradient>
<linearGradient id="gc8"><stop offset="0.0000" stop-color="#0a0000"/><stop offset="0.3161" stop-color="#0d0000"/><stop offset="0.3486" stop-color="#200000"/><stop offset="0.3628" stop-color="#3c0000"/><stop offset="0.3669" stop-color="#530000"/><stop offset="0.3689" stop-color="#660000"/><stop offset="0.3730" stop-color="#9f0100"/><stop offset="0.3750" stop-color="#c00600"/><stop offset="0.3770" stop-color="#dd1200"/><stop offset="0.3791" stop-color="#f12b00"/><stop offset="0.3811" stop-color="#fb4f00"/><stop offset="0.3852" stop-color="#ffa702"/><stop offset="0.3872" stop-color="#ffce07"/><stop offset="0.3892" stop-color="#ffe913"/><stop offset="0.3913" stop-color="#fff826"/><stop offset="0.3953" stop-color="#ffff59"/><stop offset="0.4035" stop-color="#ffffbd"/><stop offset="0.4075" stop-color="#ffffe5"/><stop offset="0.4116" stop-color="#fffffb"/><stop offset="0.4258" stop-color="#ffffff"/><stop offset="0.4604" stop-color="#fffffd"/><stop offset="0.4644" stop-color="#fffff2"/><stop offset="0.4746" stop-color="#ffffb7"/><stop offset="0.4787" stop-color="#ffff95"/><stop offset="0.4807" stop-color="#ffff80"/><stop offset="0.4827" stop-color="#fffd63"/><stop offset="0.4848" stop-color="#fff542"/><stop offset="0.4868" stop-color="#ffe022"/><stop offset="0.4888" stop-color="#ffb90d"/><stop offset="0.4909" stop-color="#fe8504"/><stop offset="0.4929" stop-color="#f95101"/><stop offset="0.4949" stop-color="#ee2800"/><stop offset="0.4970" stop-color="#d90f00"/><stop offset="0.4990" stop-color="#c00400"/><stop offset="0.5030" stop-color="#970000"/><stop offset="0.5112" stop-color="#6b0000"/><stop offset="0.5213" stop-color="#480000"/><stop offset="0.5315" stop-color="#3a0000"/><stop offset="0.5722" stop-color="#1e0000"/><stop offset="0.6555" stop-color="#0a0000"/><stop offset="1.0000" stop-color="#0a0000"/></linearGradient>
<linearGradient id="gc9"><stop offset="0.0000" stop-color="#0a0000"/><stop offset="0.3161" stop-color="#0d0000"/><stop offset="0.3486" stop-color="#200000"/><stop offset="0.3628" stop-color="#3a0000"/><stop offset="0.3669" stop-color="#4e0000"/><stop offset="0.3709" stop-color="#770000"/><stop offset="0.3750" stop-color="#b50300"/><stop offset="0.3770" stop-color="#d50d00"/><stop offset="0.3791" stop-color="#ec2100"/><stop offset="0.3811" stop-color="#f94200"/><stop offset="0.3872" stop-color="#ffc104"/><stop offset="0.3892" stop-color="#ffe10d"/><stop offset="0.3913" stop-color="#fff41e"/><stop offset="0.3953" stop-color="#fffe4e"/><stop offset="0.4035" stop-color="#ffffb3"/><stop offset="0.4075" stop-color="#ffffdd"/><stop offset="0.4116" stop-color="#fffff7"/><stop offset="0.4177" stop-color="#ffffff"/><stop offset="0.4604" stop-color="#fffffd"/><stop offset="0.4644" stop-color="#fffff2"/><stop offset="0.4746" stop-color="#ffffb7"/><stop offset="0.4787" stop-color="#ffff95"/><stop offset="0.4807" stop-color="#ffff80"/><stop offset="0.4827" stop-color="#fffd63"/><stop offset="0.4848" stop-color="#fff542"/><stop offset="0.4868" stop-color="#ffe022"/><stop offset="0.4888" stop-color="#ffb90d"/><stop offset="0.4909" stop-color="#fe8504"/><stop offset="0.4929" stop-color="#f95101"/><stop offset="0.4949" stop-color="#ee2800"/><stop offset="0.4970" stop-color="#d90f00"/><stop offset="0.4990" stop-color="#c00400"/><stop offset="0.5030" stop-color="#970000"/><stop offset="0.5112" stop-color="#6b0000"/><stop offset="0.5213" stop-color="#480000"/><stop offset="0.5315" stop-color="#3a0000"/><stop offset="0.5722" stop-color="#1e0000"/><stop offset="0.6555" stop-color="#0a0000"/><stop offset="1.0000" stop-color="#0a0000"/></linearGradient>
<linearGradient id="gc10"><stop offset="0.0000" stop-color="#0a0000"/><stop offset="0.3161" stop-color="#0d0000"/><stop offset="0.3506" stop-color="#210000"/><stop offset="0.3648" stop-color="#3f0000"/><stop offset="0.3689" stop-color="#590000"/><stop offset="0.3709" stop-color="#6e0000"/><stop offset="0.3750" stop-color="#ab0200"/><stop offset="0.3770" stop-color="#cc0800"/><stop offset="0.3791" stop-color="#e61800"/><stop offset="0.3811" stop-color="#f63500"/><stop offset="0.3852" stop-color="#ff8801"/><stop offset="0.3872" stop-color="#ffb303"/><stop offset="0.3892" stop-color="#ffd609"/><stop offset="0.3913" stop-color="#ffee17"/><stop offset="0.3933" stop-color="#fffa2b"/><stop offset="0.4014" stop-color="#ffff91"/><stop offset="0.4075" stop-color="#ffffd4"/><stop offset="0.4116" stop-color="#fffff3"/><stop offset="0.4157" stop-color="#fffffe"/><stop offset="0.4604" stop-color="#fffffd"/><stop offset="0.4644" stop-color="#fffff2"/><stop offset="0.4746" stop-color="#ffffb7"/><stop offset="0.4787" stop-color="#ffff95"/><stop offset="0.4807" stop-color="#ffff80"/><stop offset="0.4827" stop-color="#fffd63"/><stop offset="0.4848" stop-color="#fff542"/><stop offset="0.4868" stop-color="#ffe022"/><stop offset="0.4888" stop-color="#ffb90d"/><stop offset="0.4909" stop-color="#fe8504"/><stop offset="0.4929" stop-color="#f95101"/><stop offset="0.4949" stop-color="#ee2800"/><stop offset="0.4970" stop-color="#d90f00"/><stop offset="0.4990" stop-color="#c00400"/><stop offset="0.5030" stop-color="#970000"/><stop offset="0.5112" stop-color="#6b0000"/><stop offset="0.5213" stop-color="#480000"/><stop offset="0.5315" stop-color="#3a0000"/><stop offset="0.5722" stop-color="#1e0000"/><stop offset="0.6555" stop-color="#0a0000"/><stop offset="1.0000" stop-color="#0a0000"/></linearGradient>
<linearGradient id="gc11"><stop offset="0.0000" stop-color="#0a0000"/><stop offset="0.3181" stop-color="#0d0000"/><stop offset="0.3506" stop-color="#200000"/><stop offset="0.3648" stop-color="#3d0000"/><stop offset="0.3689" stop-color="#530000"/><stop offset="0.3709" stop-color="#670000"/><stop offset="0.3750" stop-color="#a00100"/><stop offset="0.3770" stop-color="#c10600"/><stop offset="0.3791" stop-color="#de1200"/><stop offset="0.3811" stop-color="#f22b00"/><stop offset="0.3831" stop-color="#fb4f00"/><stop offset="0.3892" stop-color="#ffcb06"/><stop offset="0.3913" stop-color="#ffe710"/><stop offset="0.3933" stop-color="#fff722"/><stop offset="0.3974" stop-color="#ffff53"/><stop offset="0.4055" stop-color="#ffffb5"/><stop offset="0.4096" stop-color="#ffffde"/><stop offset="0.4136" stop-color="#fffff8"/><stop offset="0.4197" stop-color="#ffffff"/><stop offset="0.4604" stop-color="#fffffd"/><stop offset="0.4644" stop-color="#fffff2"/><stop offset="0.4746" stop-color="#ffffb7"/><stop offset="0.4787" stop-color="#ffff95"/><stop offset="0.4807" stop-color="#ffff80"/><stop offset="0.4827" stop-color="#fffd63"/><stop offset="0.4848" stop-color="#fff542"/><stop offset="0.4868" stop-color="#ffe022"/><stop offset="0.4888" stop-color="#ffb90d"/><stop offset="0.4909" stop-color="#fe8504"/><stop offset="0.4929" stop-color="#f95101"/><stop offset="0.4949" stop-color="#ee2800"/><stop offset="0.4970" stop-color="#d90f00"/><stop offset="0.4990" stop-color="#c00400"/><stop offset="0.5030" stop-color="#970000"/><stop offset="0.5112" stop-color="#6b0000"/><stop offset="0.5213" stop-color="#480000"/><stop offset="0.5315" stop-color="#3a0000"/><stop offset="0.5722" stop-color="#1e0000"/><stop offset="0.6555" stop-color="#0a0000"/><stop offset="1.0000" stop-color="#0a0000"/></linearGradient>
<linearGradient id="gc12"><stop offset="0.0000" stop-color="#0a0000"/><stop offset="0.3181" stop-color="#0d0000"/><stop offset="0.3506" stop-color="#200000"/><stop offset="0.3648" stop-color="#3b0000"/><stop offset="0.3689" stop-color="#4e0000"/><stop offset="0.3730" stop-color="#780000"/><stop offset="0.3770" stop-color="#b70400"/><stop offset="0.3791" stop-color="#d60d00"/><stop offset="0.3811" stop-color="#ed2100"/><stop offset="0.3831" stop-color="#f94100"/><stop offset="0.3892" stop-color="#ffbe04"/><stop offset="0.3913" stop-color="#ffde0b"/><stop offset="0.3933" stop-color="#fff21a"/><stop offset="0.3953" stop-color="#fffb2f"/><stop offset="0.4055" stop-color="#ffffab"/><stop offset="0.4116" stop-color="#ffffe7"/><stop offset="0.4157" stop-color="#fffffb"/><stop offset="0.4360" stop-color="#ffffff"/><stop offset="0.4604" stop-color="#fffffd"/><stop offset="0.4644" stop-color="#fffff2"/><stop offset="0.4746" stop-color="#ffffb7"/><stop offset="0.4787" stop-color="#ffff95"/><stop offset="0.4807" stop-color="#ffff80"/><stop offset="0.4827" stop-color="#fffd63"/><stop offset="0.4848" stop-color="#fff542"/><stop offset="0.4868" stop-color="#ffe022"/><stop offset="0.4888" stop-color="#ffb90d"/><stop offset="0.4909" stop-color="#fe8504"/><stop offset="0.4929" stop-color="#f95101"/><stop offset="0.4949" stop-color="#ee2800"/><stop offset="0.4970" stop-color="#d90f00"/><stop offset="0.4990" stop-color="#c00400"/><stop offset="0.5030" stop-color="#970000"/><stop offset="0.5112" stop-color="#6b0000"/><stop offset="0.5213" stop-color="#480000"/><stop offset="0.5315" stop-color="#3a0000"/><stop offset="0.5722" stop-color="#1e0000"/><stop offset="0.6555" stop-color="#0a0000"/><stop offset="1.0000" stop-color="#0a0000"/></linearGradient>
<linearGradient id="gc13"><stop offset="0.0000" stop-color="#0a0000"/><stop offset="0.3181" stop-color="#0d0000"/><stop offset="0.3526" stop-color="#210000"/><stop offset="0.3669" stop-color="#3f0000"/><stop offset="0.3709" stop-color="#5a0000"/><stop offset="0.3730" stop-color="#6f0000"/><stop offset="0.3770" stop-color="#ac0200"/><stop offset="0.3791" stop-color="#cd0800"/><stop offset="0.3811" stop-color="#e71800"/><stop offset="0.3831" stop-color="#f73500"/><stop offset="0.3872" stop-color="#ff8600"/><stop offset="0.3892" stop-color="#ffb002"/><stop offset="0.3913" stop-color="#ffd408"/><stop offset="0.3933" stop-color="#ffec14"/><stop offset="0.3953" stop-color="#fff926"/><stop offset="0.4014" stop-color="#ffff71"/><stop offset="0.4096" stop-color="#ffffcc"/><stop offset="0.4136" stop-color="#ffffee"/><stop offset="0.4177" stop-color="#fffffd"/><stop offset="0.4604" stop-color="#fffffd"/><stop offset="0.4644" stop-color="#fffff2"/><stop offset="0.4746" stop-color="#ffffb7"/><stop offset="0.4787" stop-color="#ffff95"/><stop offset="0.4807" stop-color="#ffff80"/><stop offset="0.4827" stop-color="#fffd63"/><stop offset="0.4848" stop-color="#fff542"/><stop offset="0.4868" stop-color="#ffe022"/><stop offset="0.4888" stop-color="#ffb90d"/><stop offset="0.4909" stop-color="#fe8504"/><stop offset="0.4929" stop-color="#f95101"/><stop offset="0.4949" stop-color="#ee2800"/><stop offset="0.4970" stop-color="#d90f00"/><stop offset="0.4990" stop-color="#c00400"/><stop offset="0.5030" stop-color="#970000"/><stop offset="0.5112" stop-color="#6b0000"/><stop offset="0.5213" stop-color="#480000"/><stop offset="0.5315" stop-color="#3a0000"/><stop offset="0.5722" stop-color="#1e0000"/><stop offset="0.6555" stop-color="#0a0000"/><stop offset="1.0000" stop-color="#0a0000"/></linearGradient>
<linearGradient id="gc14"><stop offset="0.0000" stop-color="#0a0000"/><stop offset="0.3181" stop-color="#0d0000"/><stop offset="0.3526" stop-color="#210000"/><stop offset="0.3669" stop-color="#3d0000"/><stop offset="0.3709" stop-color="#540000"/><stop offset="0.3730" stop-color="#680000"/><stop offset="0.3770" stop-color="#a20100"/><stop offset="0.3791" stop-color="#c30600"/><stop offset="0.3811" stop-color="#e01200"/><stop offset="0.3831" stop-color="#f22b00"/><stop offset="0.3852" stop-color="#fb4e00"/><stop offset="0.3913" stop-color="#ffc805"/><stop offset="0.3933" stop-color="#ffe50e"/><stop offset="0.3953" stop-color="#fff61e"/><stop offset="0.3994" stop-color="#ffff4d"/><stop offset="0.4075" stop-color="#ffffad"/><stop offset="0.4136" stop-color="#ffffe7"/><stop offset="0.4177" stop-color="#fffffb"/><stop offset="0.4421" stop-color="#ffffff"/><stop offset="0.4604" stop-color="#fffffd"/><stop offset="0.4644" stop-color="#fffff2"/><stop offset="0.4746" stop-color="#ffffb7"/><stop offset="0.4787" stop-color="#ffff95"/><stop offset="0.4807" stop-color="#ffff80"/><stop offset="0.4827" stop-color="#fffd63"/><stop offset="0.4848" stop-color="#fff542"/><stop offset="0.4868" stop-color="#ffe022"/><stop offset="0.4888" stop-color="#ffb90d"/><stop offset="0.4909" stop-color="#fe8504"/><stop offset="0.4929" stop-color="#f95101"/><stop offset="0.4949" stop-color="#ee2800"/><stop offset="0.4970" stop-color="#d90f00"/><stop offset="0.4990" stop-color="#c00400"/><stop offset="0.5030" stop-color="#970000"/><stop offset="0.5112" stop-color="#6b0000"/><stop offset="0.5213" stop-color="#480000"/><stop offset="0.5315" stop-color="#3a0000"/><stop offset="0.5722" stop-color="#1e0000"/><stop offset="0.6555" stop-color="#0a0000"/><stop offset="1.0000" stop-color="#0a0000"/></linearGradient>
<linearGradient id="gc15"><stop offset="0.0000" stop-color="#0a0000"/><stop offset="0.3201" stop-color="#0d0000"/><stop offset="0.3526" stop-color="#200000"/><stop offset="0.3669" stop-color="#3b0000"/><stop offset="0.3709" stop-color="#4f0000"/><stop offset="0.3750" stop-color="#790000"/><stop offset="0.3791" stop-color="#b80400"/><stop offset="0.3811" stop-color="#d70d00"/><stop offset="0.3831" stop-color="#ee2100"/><stop offset="0.3852" stop-color="#f94100"/><stop offset="0.3913" stop-color="#ffbb03"/><stop offset="0.3933" stop-color="#ffdb0a"/><stop offset="0.3953" stop-color="#fff017"/><stop offset="0.3974" stop-color="#fffb2b"/><stop offset="0.4075" stop-color="#ffffa3"/><stop offset="0.4136" stop-color="#ffffdf"/><stop offset="0.4177" stop-color="#fffff8"/><stop offset="0.4238" stop-color="#ffffff"/><stop offset="0.4604" stop-color="#fffffd"/><stop offset="0.4644" stop-color="#fffff2"/><stop offset="0.4746" stop-color="#ffffb7"/><stop offset="0.4787" stop-color="#ffff95"/><stop offset="0.4807" stop-color="#ffff80"/><stop offset="0.4827" stop-color="#fffd63"/><stop offset="0.4848" stop-color="#fff542"/><stop offset="0.4868" stop-color="#ffe022"/><stop offset="0.4888" stop-color="#ffb90d"/><stop offset="0.4909" stop-color="#fe8504"/><stop offset="0.4929" stop-color="#f95101"/><stop offset="0.4949" stop-color="#ee2800"/><stop offset="0.4970" stop-color="#d90f00"/><stop offset="0.4990" stop-color="#c00400"/><stop offset="0.5030" stop-color="#970000"/><stop offset="0.5112" stop-color="#6b0000"/><stop offset="0.5213" stop-color="#480000"/><stop offset="0.5315" stop-color="#3a0000"/><stop offset="0.5722" stop-color="#1e0000"/><stop offset="0.6555" stop-color="#0a0000"/><stop offset="1.0000" stop-color="#0a0000"/></linearGradient>
<linearGradient id="gc16"><stop offset="0.0000" stop-color="#0a0000"/><stop offset="0.3201" stop-color="#0d0000"/><stop offset="0.3547" stop-color="#210000"/><stop offset="0.3689" stop-color="#3f0000"/><stop offset="0.3730" stop-color="#5a0000"/><stop offset="0.3770" stop-color="#8c0000"/><stop offset="0.3811" stop-color="#ce0800"/><stop offset="0.3831" stop-color="#e81800"/><stop offset="0.3852" stop-color="#f73400"/><stop offset="0.3892" stop-color="#ff8300"/><stop offset="0.3933" stop-color="#ffd006"/><stop offset="0.3953" stop-color="#ffea11"/><stop offset="0.3974" stop-color="#fff822"/><stop offset="0.4014" stop-color="#ffff51"/><stop offset="0.4096" stop-color="#ffffaf"/><stop offset="0.4157" stop-color="#ffffe8"/><stop offset="0.4197" stop-color="#fffffb"/><stop offset="0.4441" stop-color="#ffffff"/><stop offset="0.4604" stop-color="#fffffd"/><stop offset="0.4644" stop-color="#fffff2"/><stop offset="0.4746" stop-color="#ffffb7"/><stop offset="0.4787" stop-color="#ffff95"/><stop offset="0.4807" stop-color="#ffff80"/><stop offset="0.4827" stop-color="#fffd63"/><stop offset="0.4848" stop-color="#fff542"/><stop offset="0.4868" stop-color="#ffe022"/><stop offset="0.4888" stop-color="#ffb90d"/><stop offset="0.4909" stop-color="#fe8504"/><stop offset="0.4929" stop-color="#f95101"/><stop offset="0.4949" stop-color="#ee2800"/><stop offset="0.4970" stop-color="#d90f00"/><stop offset="0.4990" stop-color="#c00400"/><stop offset="0.5030" stop-color="#970000"/><stop offset="0.5112" stop-color="#6b0000"/><stop offset="0.5213" stop-color="#480000"/><stop offset="0.5315" stop-color="#3a0000"/><stop offset="0.5722" stop-color="#1e0000"/><stop offset="0.6555" stop-color="#0a0000"/><stop offset="1.0000" stop-color="#0a0000"/></linearGradient>
<linearGradient id="gc17"><stop offset="0.0000" stop-color="#0a0000"/><stop offset="0.3222" stop-color="#0d0000"/><stop offset="0.3547" stop-color="#200000"/><stop offset="0.3689" stop-color="#3c0000"/><stop offset="0.3730" stop-color="#520000"/><stop offset="0.3770" stop-color="#7e0000"/><stop offset="0.3811" stop-color="#bd0500"/><stop offset="0.3831" stop-color="#db0f00"/><stop offset="0.3852" stop-color="#f02500"/><stop offset="0.3872" stop-color="#fa4600"/><stop offset="0.3933" stop-color="#ffbe03"/><stop offset="0.3953" stop-color="#ffdd0a"/><stop offset="0.3974" stop-color="#fff117"/><stop offset="0.3994" stop-color="#fffb2b"/><stop offset="0.4116" stop-color="#ffffb6"/><stop offset="0.4177" stop-color="#ffffec"/><stop offset="0.4217" stop-color="#fffffc"/><stop offset="0.4604" stop-color="#fffffd"/><stop offset="0.4644" stop-color="#fffff2"/><stop offset="0.4746" stop-color="#ffffb7"/><stop offset="0.4787" stop-color="#ffff95"/><stop offset="0.4807" stop-color="#ffff80"/><stop offset="0.4827" stop-color="#fffd63"/><stop offset="0.4848" stop-color="#fff542"/><stop offset="0.4868" stop-color="#ffe022"/><stop offset="0.4888" stop-color="#ffb90d"/><stop offset="0.4909" stop-color="#fe8504"/><stop offset="0.4929" stop-color="#f95101"/><stop offset="0.4949" stop-color="#ee2800"/><stop offset="0.4970" stop-color="#d90f00"/><stop offset="0.4990" stop-color="#c00400"/><stop offset="0.5030" stop-color="#970000"/><stop offset="0.5112" stop-color="#6b0000"/><stop offset="0.5213" stop-color="#480000"/><stop offset="0.5315" stop-color="#3a0000"/><stop offset="0.5722" stop-color="#1e0000"/><stop offset="0.6555" stop-color="#0a0000"/><stop offset="1.0000" stop-color="#0a0000"/></linearGradient>
<linearGradient id="gc18"><stop offset="0.0000" stop-color="#0a0000"/><stop offset="0.3222" stop-color="#0d0000"/><stop offset="0.3567" stop-color="#210000"/><stop offset="0.3709" stop-color="#3f0000"/><stop offset="0.3750" stop-color="#580000"/><stop offset="0.3791" stop-color="#890000"/><stop offset="0.3831" stop-color="#ca0800"/><stop offset="0.3852" stop-color="#e51600"/><stop offset="0.3872" stop-color="#f53000"/><stop offset="0.3913" stop-color="#ff7c00"/><stop offset="0.3953" stop-color="#ffca05"/><stop offset="0.3974" stop-color="#ffe60e"/><stop offset="0.3994" stop-color="#fff61d"/><stop offset="0.4035" stop-color="#ffff49"/><stop offset="0.4116" stop-color="#ffffa7"/><stop offset="0.4177" stop-color="#ffffe1"/><stop offset="0.4217" stop-color="#fffff9"/><stop offset="0.4299" stop-color="#ffffff"/><stop offset="0.4604" stop-color="#fffffd"/><stop offset="0.4644" stop-color="#fffff2"/><stop offset="0.4746" stop-color="#ffffb7"/><stop offset="0.4787" stop-color="#ffff95"/><stop offset="0.4807" stop-color="#ffff80"/><stop offset="0.4827" stop-color="#fffd63"/><stop offset="0.4848" stop-color="#fff542"/><stop offset="0.4868" stop-color="#ffe022"/><stop offset="0.4888" stop-color="#ffb90d"/><stop offset="0.4909" stop-color="#fe8504"/><stop offset="0.4929" stop-color="#f95101"/><stop offset="0.4949" stop-color="#ee2800"/><stop offset="0.4970" stop-color="#d90f00"/><stop offset="0.4990" stop-color="#c00400"/><stop offset="0.5030" stop-color="#970000"/><stop offset="0.5112" stop-color="#6b0000"/><stop offset="0.5213" stop-color="#480000"/><stop offset="0.5315" stop-color="#3a0000"/><stop offset="0.5722" stop-color="#1e0000"/><stop offset="0.6555" stop-color="#0a0000"/><stop offset="1.0000" stop-color="#0a0000"/></linearGradient>
<linearGradient id="gc19"><stop offset="0.0000" stop-color="#0a0000"/><stop offset="0.3242" stop-color="#0d0000"/><stop offset="0.3567" stop-color="#200000"/><stop offset="0.3709" stop-color="#3b0000"/><stop offset="0.3750" stop-color="#4e0000"/><stop offset="0.3791" stop-color="#780000"/><stop offset="0.3831" stop-color="#b60300"/><stop offset="0.3852" stop-color="#d60c00"/><stop offset="0.3872" stop-color="#ed1f00"/><stop offset="0.3892" stop-color="#f93c00"/><stop offset="0.3953" stop-color="#ffb302"/><stop offset="0.3974" stop-color="#ffd407"/><stop offset="0.3994" stop-color="#ffec12"/><stop offset="0.4014" stop-color="#fff923"/><stop offset="0.4075" stop-color="#ffff69"/><stop offset="0.4157" stop-color="#ffffc1"/><stop offset="0.4197" stop-color="#ffffe5"/><stop offset="0.4238" stop-color="#fffffa"/><stop offset="0.4339" stop-color="#ffffff"/><stop offset="0.4604" stop-color="#fffffd"/><stop offset="0.4644" stop-color="#fffff2"/><stop offset="0.4746" stop-color="#ffffb7"/><stop offset="0.4787" stop-color="#ffff95"/><stop offset="0.4807" stop-color="#ffff80"/><stop offset="0.4827" stop-color="#fffd63"/><stop offset="0.4848" stop-color="#fff542"/><stop offset="0.4868" stop-color="#ffe022"/><stop offset="0.4888" stop-color="#ffb90d"/><stop offset="0.4909" stop-color="#fe8504"/><stop offset="0.4929" stop-color="#f95101"/><stop offset="0.4949" stop-color="#ee2800"/><stop offset="0.4970" stop-color="#d90f00"/><stop offset="0.4990" stop-color="#c00400"/><stop offset="0.5030" stop-color="#970000"/><stop offset="0.5112" stop-color="#6b0000"/><stop offset="0.5213" stop-color="#480000"/><stop offset="0.5315" stop-color="#3a0000"/><stop offset="0.5722" stop-color="#1e0000"/><stop offset="0.6555" stop-color="#0a0000"/><stop offset="1.0000" stop-color="#0a0000"/></linearGradient>
<linearGradient id="gc20"><stop offset="0.0000" stop-color="#0a0000"/><stop offset="0.3242" stop-color="#0d0000"/><stop offset="0.3587" stop-color="#210000"/><stop offset="0.3730" stop-color="#3d0000"/><stop offset="0.3770" stop-color="#550000"/><stop offset="0.3791" stop-color="#690000"/><stop offset="0.3831" stop-color="#a20100"/><stop offset="0.3852" stop-color="#c30600"/><stop offset="0.3872" stop-color="#e01200"/><stop offset="0.3892" stop-color="#f22900"/><stop offset="0.3933" stop-color="#fe7100"/><stop offset="0.3974" stop-color="#ffbf03"/><stop offset="0.3994" stop-color="#ffde0a"/><stop offset="0.4014" stop-color="#fff217"/><stop offset="0.4035" stop-color="#fffb2a"/><stop offset="0.4157" stop-color="#ffffb2"/><stop offset="0.4217" stop-color="#ffffe8"/><stop offset="0.4258" stop-color="#fffffb"/><stop offset="0.4461" stop-color="#ffffff"/><stop offset="0.4604" stop-color="#fffffd"/><stop offset="0.4644" stop-color="#fffff2"/><stop offset="0.4746" stop-color="#ffffb7"/><stop offset="0.4787" stop-color="#ffff95"/><stop offset="0.4807" stop-color="#ffff80"/><stop offset="0.4827" stop-color="#fffd63"/><stop offset="0.4848" stop-color="#fff542"/><stop offset="0.4868" stop-color="#ffe022"/><stop offset="0.4888" stop-color="#ffb90d"/><stop offset="0.4909" stop-color="#fe8504"/><stop offset="0.4929" stop-color="#f95101"/><stop offset="0.4949" stop-color="#ee2800"/><stop offset="0.4970" stop-color="#d90f00"/><stop offset="0.4990" stop-color="#c00400"/><stop offset="0.5030" stop-color="#970000"/><stop offset="0.5112" stop-color="#6b0000"/><stop offset="0.5213" stop-color="#480000"/><stop offset="0.5315" stop-color="#3a0000"/><stop offset="0.5722" stop-color="#1e0000"/><stop offset="0.6555" stop-color="#0a0000"/><stop offset="1.0000" stop-color="#0a0000"/></linearGradient>
<linearGradient id="gc21"><stop offset="0.0000" stop-color="#0a0000"/><stop offset="0.3262" stop-color="#0d0000"/><stop offset="0.3587" stop-color="#1f0000"/><stop offset="0.3730" stop-color="#390000"/><stop offset="0.3770" stop-color="#4b0000"/><stop offset="0.3811" stop-color="#720000"/><stop offset="0.3852" stop-color="#af0200"/><stop offset="0.3872" stop-color="#cf0900"/><stop offset="0.3892" stop-color="#e91900"/><stop offset="0.3913" stop-color="#f73400"/><stop offset="0.3953" stop-color="#ff8000"/><stop offset="0.3994" stop-color="#ffcb05"/><stop offset="0.4014" stop-color="#ffe60d"/><stop offset="0.4035" stop-color="#fff61c"/><stop offset="0.4075" stop-color="#ffff47"/><stop offset="0.4157" stop-color="#ffffa3"/><stop offset="0.4217" stop-color="#ffffdc"/><stop offset="0.4258" stop-color="#fffff6"/><stop offset="0.4319" stop-color="#ffffff"/><stop offset="0.4604" stop-color="#fffffd"/><stop offset="0.4644" stop-color="#fffff2"/><stop offset="0.4746" stop-color="#ffffb7"/><stop offset="0.4787" stop-color="#ffff95"/><stop offset="0.4807" stop-color="#ffff80"/><stop offset="0.4827" stop-color="#fffd63"/><stop offset="0.4848" stop-color="#fff542"/><stop offset="0.4868" stop-color="#ffe022"/><stop offset="0.4888" stop-color="#ffb90d"/><stop offset="0.4909" stop-color="#fe8504"/><stop offset="0.4929" stop-color="#f95101"/><stop offset="0.4949" stop-color="#ee2800"/><stop offset="0.4970" stop-color="#d90f00"/><stop offset="0.4990" stop-color="#c00400"/><stop offset="0.5030" stop-color="#970000"/><stop offset="0.5112" stop-color="#6b0000"/><stop offset="0.5213" stop-color="#480000"/><stop offset="0.5315" stop-color="#3a0000"/><stop offset="0.5722" stop-color="#1e0000"/><stop offset="0.6555" stop-color="#0a0000"/><stop offset="1.0000" stop-color="#0a0000"/></linearGradient>
<linearGradient id="gc22"><stop offset="0.0000" stop-color="#0a0000"/><stop offset="0.3283" stop-color="#0d0000"/><stop offset="0.3608" stop-color="#200000"/><stop offset="0.3750" stop-color="#3c0000"/><stop offset="0.3791" stop-color="#510000"/><stop offset="0.3831" stop-color="#7d0000"/><stop offset="0.3872" stop-color="#bc0400"/><stop offset="0.3892" stop-color="#da0e00"/><stop offset="0.3913" stop-color="#ef2200"/><stop offset="0.3933" stop-color="#fa4100"/><stop offset="0.3994" stop-color="#ffb502"/><stop offset="0.4014" stop-color="#ffd607"/><stop offset="0.4035" stop-color="#ffed11"/><stop offset="0.4055" stop-color="#fff922"/><stop offset="0.4116" stop-color="#ffff66"/><stop offset="0.4197" stop-color="#ffffbc"/><stop offset="0.4258" stop-color="#ffffee"/><stop offset="0.4299" stop-color="#fffffd"/><stop offset="0.4604" stop-color="#fffffd"/><stop offset="0.4644" stop-color="#fffff2"/><stop offset="0.4746" stop-color="#ffffb7"/><stop offset="0.4787" stop-color="#ffff95"/><stop offset="0.4807" stop-color="#ffff80"/><stop offset="0.4827" stop-color="#fffd63"/><stop offset="0.4848" stop-color="#fff542"/><stop offset="0.4868" stop-color="#ffe022"/><stop offset="0.4888" stop-color="#ffb90d"/><stop offset="0.4909" stop-color="#fe8504"/><stop offset="0.4929" stop-color="#f95101"/><stop offset="0.4949" stop-color="#ee2800"/><stop offset="0.4970" stop-color="#d90f00"/><stop offset="0.4990" stop-color="#c00400"/><stop offset="0.5030" stop-color="#970000"/><stop offset="0.5112" stop-color="#6b0000"/><stop offset="0.5213" stop-color="#480000"/><stop offset="0.5315" stop-color="#3a0000"/><stop offset="0.5722" stop-color="#1e0000"/><stop offset="0.6555" stop-color="#0a0000"/><stop offset="1.0000" stop-color="#0a0000"/></linearGradient>
<linearGradient id="gc23"><stop offset="0.0000" stop-color="#0a0000"/><stop offset="0.3283" stop-color="#0d0000"/><stop offset="0.3628" stop-color="#210000"/><stop offset="0.3770" stop-color="#3e0000"/><stop offset="0.3811" stop-color="#580000"/><stop offset="0.3852" stop-color="#880000"/><stop offset="0.3892" stop-color="#c90700"/><stop offset="0.3913" stop-color="#e41400"/><stop offset="0.3933" stop-color="#f52c00"/><stop offset="0.3974" stop-color="#fe7500"/><stop offset="0.4014" stop-color="#ffc103"/><stop offset="0.4035" stop-color="#ffdf09"/><stop offset="0.4055" stop-color="#fff216"/><stop offset="0.4075" stop-color="#fffb28"/><stop offset="0.4197" stop-color="#ffffad"/><stop offset="0.4258" stop-color="#ffffe4"/><stop offset="0.4299" stop-color="#fffff9"/><stop offset="0.4380" stop-color="#ffffff"/><stop offset="0.4604" stop-color="#fffffd"/><stop offset="0.4644" stop-color="#fffff2"/><stop offset="0.4746" stop-color="#ffffb7"/><stop offset="0.4787" stop-color="#ffff95"/><stop offset="0.4807" stop-color="#ffff80"/><stop offset="0.4827" stop-color="#fffd63"/><stop offset="0.4848" stop-color="#fff542"/><stop offset="0.4868" stop-color="#ffe022"/><stop offset="0.4888" stop-color="#ffb90d"/><stop offset="0.4909" stop-color="#fe8504"/><stop offset="0.4929" stop-color="#f95101"/><stop offset="0.4949" stop-color="#ee2800"/><stop offset="0.4970" stop-color="#d90f00"/><stop offset="0.4990" stop-color="#c00400"/><stop offset="0.5030" stop-color="#970000"/><stop offset="0.5112" stop-color="#6b0000"/><stop offset="0.5213" stop-color="#480000"/><stop offset="0.5315" stop-color="#3a0000"/><stop offset="0.5722" stop-color="#1e0000"/><stop offset="0.6555" stop-color="#0a0000"/><stop offset="1.0000" stop-color="#0a0000"/></linearGradient>
<linearGradient id="gc24"><stop offset="0.0000" stop-color="#0a0000"/><stop offset="0.3303" stop-color="#0d0000"/><stop offset="0.3628" stop-color="#200000"/><stop offset="0.3770" stop-color="#3a0000"/><stop offset="0.3811" stop-color="#4e0000"/><stop offset="0.3852" stop-color="#770000"/><stop offset="0.3892" stop-color="#b50300"/><stop offset="0.3913" stop-color="#d40b00"/><stop offset="0.3933" stop-color="#ec1c00"/><stop offset="0.3953" stop-color="#f93800"/><stop offset="0.4014" stop-color="#ffaa01"/><stop offset="0.4035" stop-color="#ffcd04"/><stop offset="0.4055" stop-color="#ffe70d"/><stop offset="0.4075" stop-color="#fff61b"/><stop offset="0.4116" stop-color="#ffff45"/><stop offset="0.4217" stop-color="#ffffb2"/><stop offset="0.4278" stop-color="#ffffe7"/><stop offset="0.4319" stop-color="#fffffb"/><stop offset="0.4461" stop-color="#ffffff"/><stop offset="0.4604" stop-color="#fffffd"/><stop offset="0.4644" stop-color="#fffff2"/><stop offset="0.4746" stop-color="#ffffb7"/><stop offset="0.4787" stop-color="#ffff95"/><stop offset="0.4807" stop-color="#ffff80"/><stop offset="0.4827" stop-color="#fffd63"/><stop offset="0.4848" stop-color="#fff542"/><stop offset="0.4868" stop-color="#ffe022"/><stop offset="0.4888" stop-color="#ffb90d"/><stop offset="0.4909" stop-color="#fe8504"/><stop offset="0.4929" stop-color="#f95101"/><stop offset="0.4949" stop-color="#ee2800"/><stop offset="0.4970" stop-color="#d90f00"/><stop offset="0.4990" stop-color="#c00400"/><stop offset="0.5030" stop-color="#970000"/><stop offset="0.5112" stop-color="#6b0000"/><stop offset="0.5213" stop-color="#480000"/><stop offset="0.5315" stop-color="#3a0000"/><stop offset="0.5722" stop-color="#1e0000"/><stop offset="0.6555" stop-color="#0a0000"/><stop offset="1.0000" stop-color="#0a0000"/></linearGradient>
<linearGradient id="gc25"><stop offset="0.0000" stop-color="#0a0000"/><stop offset="0.3323" stop-color="#0d0000"/><stop offset="0.3648" stop-color="#210000"/><stop offset="0.3791" stop-color="#3d0000"/><stop offset="0.3831" stop-color="#540000"/><stop offset="0.3852" stop-color="#680000"/><stop offset="0.3892" stop-color="#a10100"/><stop offset="0.3913" stop-color="#c20500"/><stop offset="0.3933" stop-color="#df1000"/><stop offset="0.3953" stop-color="#f22600"/><stop offset="0.3974" stop-color="#fb4500"/><stop offset="0.4035" stop-color="#ffb702"/><stop offset="0.4055" stop-color="#ffd707"/><stop offset="0.4075" stop-color="#ffed11"/><stop offset="0.4096" stop-color="#fff921"/><stop offset="0.4157" stop-color="#ffff63"/><stop offset="0.4238" stop-color="#ffffb7"/><stop offset="0.4299" stop-color="#ffffea"/><stop offset="0.4339" stop-color="#fffffc"/><stop offset="0.4604" stop-color="#fffffd"/><stop offset="0.4644" stop-color="#fffff2"/><stop offset="0.4746" stop-color="#ffffb7"/><stop offset="0.4787" stop-color="#ffff95"/><stop offset="0.4807" stop-color="#ffff80"/><stop offset="0.4827" stop-color="#fffd63"/><stop offset="0.4848" stop-color="#fff542"/><stop offset="0.4868" stop-color="#ffe022"/><stop offset="0.4888" stop-color="#ffb90d"/><stop offset="0.4909" stop-color="#fe8504"/><stop offset="0.4929" stop-color="#f95101"/><stop offset="0.4949" stop-color="#ee2800"/><stop offset="0.4970" stop-color="#d90f00"/><stop offset="0.4990" stop-color="#c00400"/><stop offset="0.5030" stop-color="#970000"/><stop offset="0.5112" stop-color="#6b0000"/><stop offset="0.5213" stop-color="#480000"/><stop offset="0.5315" stop-color="#3a0000"/><stop offset="0.5722" stop-color="#1e0000"/><stop offset="0.6555" stop-color="#0a0000"/><stop offset="1.0000" stop-color="#0a0000"/></linearGradient>
<linearGradient id="gc26"><stop offset="0.0000" stop-color="#0a0000"/><stop offset="0.3323" stop-color="#0d0000"/><stop offset="0.3669" stop-color="#220000"/><stop offset="0.3811" stop-color="#400000"/><stop offset="0.3852" stop-color="#5b0000"/><stop offset="0.3892" stop-color="#8d0000"/><stop offset="0.3933" stop-color="#ce0800"/><stop offset="0.3953" stop-color="#e81700"/><stop offset="0.3974" stop-color="#f73000"/><stop offset="0.4014" stop-color="#ff7800"/><stop offset="0.4055" stop-color="#ffc303"/><stop offset="0.4075" stop-color="#ffe009"/><stop offset="0.4096" stop-color="#fff215"/><stop offset="0.4136" stop-color="#fffe3c"/><stop offset="0.4238" stop-color="#ffffa9"/><stop offset="0.4319" stop-color="#ffffed"/><stop offset="0.4360" stop-color="#fffffc"/><stop offset="0.4604" stop-color="#fffffd"/><stop offset="0.4644" stop-color="#fffff2"/><stop offset="0.4746" stop-color="#ffffb7"/><stop offset="0.4787" stop-color="#ffff95"/><stop offset="0.4807" stop-color="#ffff80"/><stop offset="0.4827" stop-color="#fffd63"/><stop offset="0.4848" stop-color="#fff542"/><stop offset="0.4868" stop-color="#ffe022"/><stop offset="0.4888" stop-color="#ffb90d"/><stop offset="0.4909" stop-color="#fe8504"/><stop offset="0.4929" stop-color="#f95101"/><stop offset="0.4949" stop-color="#ee2800"/><stop offset="0.4970" stop-color="#d90f00"/><stop offset="0.4990" stop-color="#c00400"/><stop offset="0.5030" stop-color="#970000"/><stop offset="0.5112" stop-color="#6b0000"/><stop offset="0.5213" stop-color="#480000"/><stop offset="0.5315" stop-color="#3a0000"/><stop offset="0.5722" stop-color="#1e0000"/><stop offset="0.6555" stop-color="#0a0000"/><stop offset="1.0000" stop-color="#0a0000"/></linearGradient>
<linearGradient id="gc27"><stop offset="0.0000" stop-color="#0a0000"/><stop offset="0.3343" stop-color="#0d0000"/><stop offset="0.3669" stop-color="#200000"/><stop offset="0.3811" stop-color="#3b0000"/><stop offset="0.3852" stop-color="#500000"/><stop offset="0.3892" stop-color="#7b0000"/><stop offset="0.3933" stop-color="#bb0400"/><stop offset="0.3953" stop-color="#d90d00"/><stop offset="0.3974" stop-color="#ef2000"/><stop offset="0.3994" stop-color="#fa3c00"/><stop offset="0.4075" stop-color="#ffce04"/><stop offset="0.4096" stop-color="#ffe70c"/><stop offset="0.4116" stop-color="#fff61a"/><stop offset="0.4157" stop-color="#ffff43"/><stop offset="0.4258" stop-color="#ffffae"/><stop offset="0.4319" stop-color="#ffffe3"/><stop offset="0.4360" stop-color="#fffff9"/><stop offset="0.4441" stop-color="#ffffff"/><stop offset="0.4604" stop-color="#fffffd"/><stop offset="0.4644" stop-color="#fffff2"/><stop offset="0.4746" stop-color="#ffffb7"/><stop offset="0.4787" stop-color="#ffff95"/><stop offset="0.4807" stop-color="#ffff80"/><stop offset="0.4827" stop-color="#fffd63"/><stop offset="0.4848" stop-color="#fff542"/><stop offset="0.4868" stop-color="#ffe022"/><stop offset="0.4888" stop-color="#ffb90d"/><stop offset="0.4909" stop-color="#fe8504"/><stop offset="0.4929" stop-color="#f95101"/><stop offset="0.4949" stop-color="#ee2800"/><stop offset="0.4970" stop-color="#d90f00"/><stop offset="0.4990" stop-color="#c00400"/><stop offset="0.5030" stop-color="#970000"/><stop offset="0.5112" stop-color="#6b0000"/><stop offset="0.5213" stop-color="#480000"/><stop offset="0.5315" stop-color="#3a0000"/><stop offset="0.5722" stop-color="#1e0000"/><stop offset="0.6555" stop-color="#0a0000"/><stop offset="1.0000" stop-color="#0a0000"/></linearGradient>
<linearGradient id="gc28"><stop offset="0.0000" stop-color="#0a0000"/><stop offset="0.3343" stop-color="#0d0000"/><stop offset="0.3689" stop-color="#210000"/><stop offset="0.3831" stop-color="#3e0000"/><stop offset="0.3872" stop-color="#570000"/><stop offset="0.3913" stop-color="#870000"/><stop offset="0.3953" stop-color="#c80600"/><stop offset="0.3974" stop-color="#e31300"/><stop offset="0.3994" stop-color="#f42900"/><stop offset="0.4035" stop-color="#fe6e00"/><stop offset="0.4075" stop-color="#ffb802"/><stop offset="0.4096" stop-color="#ffd806"/><stop offset="0.4116" stop-color="#ffee10"/><stop offset="0.4136" stop-color="#fff920"/><stop offset="0.4217" stop-color="#ffff76"/><stop offset="0.4299" stop-color="#ffffc5"/><stop offset="0.4360" stop-color="#fffff2"/><stop offset="0.4400" stop-color="#fffffe"/><stop offset="0.4604" stop-color="#fffffd"/><stop offset="0.4644" stop-color="#fffff2"/><stop offset="0.4746" stop-color="#ffffb7"/><stop offset="0.4787" stop-color="#ffff95"/><stop offset="0.4807" stop-color="#ffff80"/><stop offset="0.4827" stop-color="#fffd63"/><stop offset="0.4848" stop-color="#fff542"/><stop offset="0.4868" stop-color="#ffe022"/><stop offset="0.4888" stop-color="#ffb90d"/><stop offset="0.4909" stop-color="#fe8504"/><stop offset="0.4929" stop-color="#f95101"/><stop offset="0.4949" stop-color="#ee2800"/><stop offset="0.4970" stop-color="#d90f00"/><stop offset="0.4990" stop-color="#c00400"/><stop offset="0.5030" stop-color="#970000"/><stop offset="0.5112" stop-color="#6b0000"/><stop offset="0.5213" stop-color="#480000"/><stop offset="0.5315" stop-color="#3a0000"/><stop offset="0.5722" stop-color="#1e0000"/><stop offset="0.6555" stop-color="#0a0000"/><stop offset="1.0000" stop-color="#0a0000"/></linearGradient>
<linearGradient id="gc29"><stop offset="0.0000" stop-color="#0a0000"/><stop offset="0.3364" stop-color="#0d0000"/><stop offset="0.3689" stop-color="#200000"/><stop offset="0.3831" stop-color="#3a0000"/><stop offset="0.3872" stop-color="#4d0000"/><stop offset="0.3913" stop-color="#750000"/><stop offset="0.3953" stop-color="#b40300"/><stop offset="0.3974" stop-color="#d30a00"/><stop offset="0.3994" stop-color="#eb1a00"/><stop offset="0.4014" stop-color="#f83400"/><stop offset="0.4075" stop-color="#ffa101"/><stop offset="0.4096" stop-color="#ffc403"/><stop offset="0.4116" stop-color="#ffe009"/><stop offset="0.4136" stop-color="#fff315"/><stop offset="0.4177" stop-color="#fffe3b"/><stop offset="0.4278" stop-color="#ffffa5"/><stop offset="0.4360" stop-color="#ffffe9"/><stop offset="0.4400" stop-color="#fffffb"/><stop offset="0.4583" stop-color="#ffffff"/><stop offset="0.4644" stop-color="#fffff2"/><stop offset="0.4746" stop-color="#ffffb7"/><stop offset="0.4787" stop-color="#ffff95"/><stop offset="0.4807" stop-color="#ffff80"/><stop offset="0.4827" stop-color="#fffd63"/><stop offset="0.4848" stop-color="#fff542"/><stop offset="0.4868" stop-color="#ffe022"/><stop offset="0.4888" stop-color="#ffb90d"/><stop offset="0.4909" stop-color="#fe8504"/><stop offset="0.4929" stop-color="#f95101"/><stop offset="0.4949" stop-color="#ee2800"/><stop offset="0.4970" stop-color="#d90f00"/><stop offset="0.4990" stop-color="#c00400"/><stop offset="0.5030" stop-color="#970000"/><stop offset="0.5112" stop-color="#6b0000"/><stop offset="0.5213" stop-color="#480000"/><stop offset="0.5315" stop-color="#3a0000"/><stop offset="0.5722" stop-color="#1e0000"/><stop offset="0.6555" stop-color="#0a0000"/><stop offset="1.0000" stop-color="#0a0000"/></linearGradient>
<linearGradient id="gc30"><stop offset="0.0000" stop-color="#0a0000"/><stop offset="0.3384" stop-color="#0d0000"/><stop offset="0.3709" stop-color="#200000"/><stop offset="0.3852" stop-color="#3d0000"/><stop offset="0.3892" stop-color="#530000"/><stop offset="0.3913" stop-color="#670000"/><stop offset="0.3953" stop-color="#9f0100"/><stop offset="0.3974" stop-color="#c10500"/><stop offset="0.3994" stop-color="#de0f00"/><stop offset="0.4014" stop-color="#f12300"/><stop offset="0.4035" stop-color="#fb4100"/><stop offset="0.4116" stop-color="#ffcf04"/><stop offset="0.4136" stop-color="#ffe80c"/><stop offset="0.4157" stop-color="#fff71a"/><stop offset="0.4197" stop-color="#ffff41"/><stop offset="0.4299" stop-color="#ffffaa"/><stop offset="0.4380" stop-color="#ffffec"/><stop offset="0.4421" stop-color="#fffffc"/><stop offset="0.4604" stop-color="#fffffd"/><stop offset="0.4644" stop-color="#fffff2"/><stop offset="0.4746" stop-color="#ffffb7"/><stop offset="0.4787" stop-color="#ffff95"/><stop offset="0.4807" stop-color="#ffff80"/><stop offset="0.4827" stop-color="#fffd63"/><stop offset="0.4848" stop-color="#fff542"/><stop offset="0.4868" stop-color="#ffe022"/><stop offset="0.4888" stop-color="#ffb90d"/><stop offset="0.4909" stop-color="#fe8504"/><stop offset="0.4929" stop-color="#f95101"/><stop offset="0.4949" stop-color="#ee2800"/><stop offset="0.4970" stop-color="#d90f00"/><stop offset="0.4990" stop-color="#c00400"/><stop offset="0.5030" stop-color="#970000"/><stop offset="0.5112" stop-color="#6b0000"/><stop offset="0.5213" stop-color="#480000"/><stop offset="0.5315" stop-color="#3a0000"/><stop offset="0.5722" stop-color="#1e0000"/><stop offset="0.6555" stop-color="#0a0000"/><stop offset="1.0000" stop-color="#0a0000"/></linearGradient>
<linearGradient id="gc31"><stop offset="0.0000" stop-color="#0a0000"/><stop offset="0.3384" stop-color="#0d0000"/><stop offset="0.3730" stop-color="#210000"/><stop offset="0.3872" stop-color="#3f0000"/><stop offset="0.3913" stop-color="#5a0000"/><stop offset="0.3953" stop-color="#8c0000"/><stop offset="0.3994" stop-color="#cd0700"/><stop offset="0.4014" stop-color="#e71500"/><stop offset="0.4035" stop-color="#f62d00"/><stop offset="0.4075" stop-color="#ff7100"/><stop offset="0.4116" stop-color="#ffba02"/><stop offset="0.4136" stop-color="#ffd906"/><stop offset="0.4157" stop-color="#ffee10"/><stop offset="0.4177" stop-color="#fff91f"/><stop offset="0.4258" stop-color="#ffff73"/><stop offset="0.4339" stop-color="#ffffc0"/><stop offset="0.4400" stop-color="#ffffef"/><stop offset="0.4441" stop-color="#fffffd"/><stop offset="0.4604" stop-color="#fffffd"/><stop offset="0.4644" stop-color="#fffff2"/><stop offset="0.4746" stop-color="#ffffb7"/><stop offset="0.4787" stop-color="#ffff95"/><stop offset="0.4807" stop-color="#ffff80"/><stop offset="0.4827" stop-color="#fffd63"/><stop offset="0.4848" stop-color="#fff542"/><stop offset="0.4868" stop-color="#ffe022"/><stop offset="0.4888" stop-color="#ffb90d"/><stop offset="0.4909" stop-color="#fe8504"/><stop offset="0.4929" stop-color="#f95101"/><stop offset="0.4949" stop-color="#ee2800"/><stop offset="0.4970" stop-color="#d90f00"/><stop offset="0.4990" stop-color="#c00400"/><stop offset="0.5030" stop-color="#970000"/><stop offset="0.5112" stop-color="#6b0000"/><stop offset="0.5213" stop-color="#480000"/><stop offset="0.5315" stop-color="#3a0000"/><stop offset="0.5722" stop-color="#1e0000"/><stop offset="0.6555" stop-color="#0a0000"/><stop offset="1.0000" stop-color="#0a0000"/></linearGradient>
<linearGradient id="gc32"><stop offset="0.0000" stop-color="#0a0000"/><stop offset="0.3404" stop-color="#0d0000"/><stop offset="0.3730" stop-color="#200000"/><stop offset="0.3872" stop-color="#3b0000"/><stop offset="0.3913" stop-color="#500000"/><stop offset="0.3953" stop-color="#7a0000"/><stop offset="0.3994" stop-color="#b90300"/><stop offset="0.4014" stop-color="#d80c00"/><stop offset="0.4035" stop-color="#ee1d00"/><stop offset="0.4055" stop-color="#fa3800"/><stop offset="0.4136" stop-color="#ffc503"/><stop offset="0.4157" stop-color="#ffe109"/><stop offset="0.4177" stop-color="#fff314"/><stop offset="0.4217" stop-color="#fffe39"/><stop offset="0.4319" stop-color="#ffffa1"/><stop offset="0.4400" stop-color="#ffffe5"/><stop offset="0.4441" stop-color="#fffffa"/><stop offset="0.4543" stop-color="#ffffff"/><stop offset="0.4624" stop-color="#fffff9"/><stop offset="0.4685" stop-color="#ffffdd"/><stop offset="0.4766" stop-color="#ffffa7"/><stop offset="0.4807" stop-color="#ffff80"/><stop offset="0.4827" stop-color="#fffd63"/><stop offset="0.4848" stop-color="#fff542"/><stop offset="0.4868" stop-color="#ffe022"/><stop offset="0.4888" stop-color="#ffb90d"/><stop offset="0.4909" stop-color="#fe8504"/><stop offset="0.4929" stop-color="#f95101"/><stop offset="0.4949" stop-color="#ee2800"/><stop offset="0.4970" stop-color="#d90f00"/><stop offset="0.4990" stop-color="#c00400"/><stop offset="0.5030" stop-color="#970000"/><stop offset="0.5112" stop-color="#6b0000"/><stop offset="0.5213" stop-color="#480000"/><stop offset="0.5315" stop-color="#3a0000"/><stop offset="0.5722" stop-color="#1e0000"/><stop offset="0.6555" stop-color="#0a0000"/><stop offset="1.0000" stop-color="#0a0000"/></linearGradient>
<linearGradient id="gc33"><stop offset="0.0000" stop-color="#0a0000"/><stop offset="0.3404" stop-color="#0d0000"/><stop offset="0.3750" stop-color="#210000"/><stop offset="0.3892" stop-color="#3e0000"/><stop offset="0.3933" stop-color="#560000"/><stop offset="0.3974" stop-color="#850000"/><stop offset="0.4014" stop-color="#c60600"/><stop offset="0.4035" stop-color="#e21100"/><stop offset="0.4055" stop-color="#f42600"/><stop offset="0.4096" stop-color="#fe6700"/><stop offset="0.4157" stop-color="#ffcf04"/><stop offset="0.4177" stop-color="#ffe70b"/><stop offset="0.4197" stop-color="#fff618"/><stop offset="0.4238" stop-color="#ffff3d"/><stop offset="0.4339" stop-color="#ffffa3"/><stop offset="0.4421" stop-color="#ffffe6"/><stop offset="0.4461" stop-color="#fffff9"/><stop offset="0.4543" stop-color="#ffffff"/><stop offset="0.4624" stop-color="#fffff9"/><stop offset="0.4685" stop-color="#ffffdd"/><stop offset="0.4766" stop-color="#ffffa7"/><stop offset="0.4807" stop-color="#ffff80"/><stop offset="0.4827" stop-color="#fffd63"/><stop offset="0.4848" stop-color="#fff542"/><stop offset="0.4868" stop-color="#ffe022"/><stop offset="0.4888" stop-color="#ffb90d"/><stop offset="0.4909" stop-color="#fe8504"/><stop offset="0.4929" stop-color="#f95101"/><stop offset="0.4949" stop-color="#ee2800"/><stop offset="0.4970" stop-color="#d90f00"/><stop offset="0.4990" stop-color="#c00400"/><stop offset="0.5030" stop-color="#970000"/><stop offset="0.5112" stop-color="#6b0000"/><stop offset="0.5213" stop-color="#480000"/><stop offset="0.5315" stop-color="#3a0000"/><stop offset="0.5722" stop-color="#1e0000"/><stop offset="0.6555" stop-color="#0a0000"/><stop offset="1.0000" stop-color="#0a0000"/></linearGradient>
<linearGradient id="gc34"><stop offset="0.0000" stop-color="#0a0000"/><stop offset="0.3425" stop-color="#0d0000"/><stop offset="0.3750" stop-color="#1f0000"/><stop offset="0.3892" stop-color="#3a0000"/><stop offset="0.3933" stop-color="#4d0000"/><stop offset="0.3974" stop-color="#750000"/><stop offset="0.4014" stop-color="#b30200"/><stop offset="0.4035" stop-color="#d30900"/><stop offset="0.4055" stop-color="#eb1800"/><stop offset="0.4075" stop-color="#f83000"/><stop offset="0.4136" stop-color="#ff9400"/><stop offset="0.4177" stop-color="#ffd404"/><stop offset="0.4197" stop-color="#ffea0c"/><stop offset="0.4217" stop-color="#fff719"/><stop offset="0.4258" stop-color="#ffff3e"/><stop offset="0.4380" stop-color="#ffffb1"/><stop offset="0.4461" stop-color="#ffffee"/><stop offset="0.4502" stop-color="#fffffc"/><stop offset="0.4604" stop-color="#fffffd"/><stop offset="0.4644" stop-color="#fffff2"/><stop offset="0.4746" stop-color="#ffffb7"/><stop offset="0.4787" stop-color="#ffff95"/><stop offset="0.4807" stop-color="#ffff80"/><stop offset="0.4827" stop-color="#fffd63"/><stop offset="0.4848" stop-color="#fff542"/><stop offset="0.4868" stop-color="#ffe022"/><stop offset="0.4888" stop-color="#ffb90d"/><stop offset="0.4909" stop-color="#fe8504"/><stop offset="0.4929" stop-color="#f95101"/><stop offset="0.4949" stop-color="#ee2800"/><stop offset="0.4970" stop-color="#d90f00"/><stop offset="0.4990" stop-color="#c00400"/><stop offset="0.5030" stop-color="#970000"/><stop offset="0.5112" stop-color="#6b0000"/><stop offset="0.5213" stop-color="#480000"/><stop offset="0.5315" stop-color="#3a0000"/><stop offset="0.5722" stop-color="#1e0000"/><stop offset="0.6555" stop-color="#0a0000"/><stop offset="1.0000" stop-color="#0a0000"/></linearGradient>
<linearGradient id="gc35"><stop offset="0.0000" stop-color="#0a0000"/><stop offset="0.3445" stop-color="#0d0000"/><stop offset="0.3770" stop-color="#200000"/><stop offset="0.3913" stop-color="#3d0000"/><stop offset="0.3953" stop-color="#540000"/><stop offset="0.3974" stop-color="#670000"/><stop offset="0.4014" stop-color="#a00100"/><stop offset="0.4055" stop-color="#df0e00"/><stop offset="0.4075" stop-color="#f22000"/><stop offset="0.4096" stop-color="#fb3a00"/><stop offset="0.4177" stop-color="#ffbd01"/><stop offset="0.4197" stop-color="#ffd905"/><stop offset="0.4217" stop-color="#ffed0d"/><stop offset="0.4238" stop-color="#fff91a"/><stop offset="0.4299" stop-color="#ffff51"/><stop offset="0.4400" stop-color="#ffffad"/><stop offset="0.4482" stop-color="#ffffe8"/><stop offset="0.4522" stop-color="#fffffa"/><stop offset="0.4604" stop-color="#fffffd"/><stop offset="0.4644" stop-color="#fffff2"/><stop offset="0.4746" stop-color="#ffffb7"/><stop offset="0.4787" stop-color="#ffff95"/><stop offset="0.4807" stop-color="#ffff80"/><stop offset="0.4827" stop-color="#fffd63"/><stop offset="0.4848" stop-color="#fff542"/><stop offset="0.4868" stop-color="#ffe022"/><stop offset="0.4888" stop-color="#ffb90d"/><stop offset="0.4909" stop-color="#fe8504"/><stop offset="0.4929" stop-color="#f95101"/><stop offset="0.4949" stop-color="#ee2800"/><stop offset="0.4970" stop-color="#d90f00"/><stop offset="0.4990" stop-color="#c00400"/><stop offset="0.5030" stop-color="#970000"/><stop offset="0.5112" stop-color="#6b0000"/><stop offset="0.5213" stop-color="#480000"/><stop offset="0.5315" stop-color="#3a0000"/><stop offset="0.5722" stop-color="#1e0000"/><stop offset="0.6555" stop-color="#0a0000"/><stop offset="1.0000" stop-color="#0a0000"/></linearGradient>
<linearGradient id="gc36"><stop offset="0.0000" stop-color="#0a0000"/><stop offset="0.3445" stop-color="#0d0000"/><stop offset="0.3791" stop-color="#220000"/><stop offset="0.3933" stop-color="#400000"/><stop offset="0.3974" stop-color="#5b0000"/><stop offset="0.4014" stop-color="#8e0000"/><stop offset="0.4055" stop-color="#cf0700"/><stop offset="0.4075" stop-color="#e81300"/><stop offset="0.4096" stop-color="#f72800"/><stop offset="0.4136" stop-color="#ff6400"/><stop offset="0.4197" stop-color="#ffc302"/><stop offset="0.4217" stop-color="#ffdd05"/><stop offset="0.4238" stop-color="#fff00d"/><stop offset="0.4258" stop-color="#fffa1a"/><stop offset="0.4360" stop-color="#ffff75"/><stop offset="0.4461" stop-color="#ffffc6"/><stop offset="0.4522" stop-color="#ffffec"/><stop offset="0.4563" stop-color="#fffff9"/><stop offset="0.4624" stop-color="#fffff7"/><stop offset="0.4685" stop-color="#ffffdd"/><stop offset="0.4766" stop-color="#ffffa7"/><stop offset="0.4807" stop-color="#ffff80"/><stop offset="0.4827" stop-color="#fffd63"/><stop offset="0.4848" stop-color="#fff542"/><stop offset="0.4868" stop-color="#ffe022"/><stop offset="0.4888" stop-color="#ffb90d"/><stop offset="0.4909" stop-color="#fe8504"/><stop offset="0.4929" stop-color="#f95101"/><stop offset="0.4949" stop-color="#ee2800"/><stop offset="0.4970" stop-color="#d90f00"/><stop offset="0.4990" stop-color="#c00400"/><stop offset="0.5030" stop-color="#970000"/><stop offset="0.5112" stop-color="#6b0000"/><stop offset="0.5213" stop-color="#480000"/><stop offset="0.5315" stop-color="#3a0000"/><stop offset="0.5722" stop-color="#1e0000"/><stop offset="0.6555" stop-color="#0a0000"/><stop offset="1.0000" stop-color="#0a0000"/></linearGradient>
<linearGradient id="gc37"><stop offset="0.0000" stop-color="#0a0000"/><stop offset="0.3465" stop-color="#0d0000"/><stop offset="0.3791" stop-color="#200000"/><stop offset="0.3933" stop-color="#3c0000"/><stop offset="0.3974" stop-color="#510000"/><stop offset="0.4014" stop-color="#7d0000"/><stop offset="0.4055" stop-color="#bd0300"/><stop offset="0.4075" stop-color="#db0b00"/><stop offset="0.4096" stop-color="#f01b00"/><stop offset="0.4116" stop-color="#fa3200"/><stop offset="0.4217" stop-color="#ffc802"/><stop offset="0.4238" stop-color="#ffe106"/><stop offset="0.4258" stop-color="#fff20e"/><stop offset="0.4299" stop-color="#fffe2b"/><stop offset="0.4441" stop-color="#ffffa4"/><stop offset="0.4543" stop-color="#ffffe4"/><stop offset="0.4583" stop-color="#fffff2"/><stop offset="0.4624" stop-color="#fffff3"/><stop offset="0.4665" stop-color="#ffffe7"/><stop offset="0.4746" stop-color="#ffffb7"/><stop offset="0.4787" stop-color="#ffff95"/><stop offset="0.4807" stop-color="#ffff80"/><stop offset="0.4827" stop-color="#fffd63"/><stop offset="0.4848" stop-color="#fff542"/><stop offset="0.4868" stop-color="#ffe022"/><stop offset="0.4888" stop-color="#ffb90d"/><stop offset="0.4909" stop-color="#fe8504"/><stop offset="0.4929" stop-color="#f95101"/><stop offset="0.4949" stop-color="#ee2800"/><stop offset="0.4970" stop-color="#d90f00"/><stop offset="0.4990" stop-color="#c00400"/><stop offset="0.5030" stop-color="#970000"/><stop offset="0.5112" stop-color="#6b0000"/><stop offset="0.5213" stop-color="#480000"/><stop offset="0.5315" stop-color="#3a0000"/><stop offset="0.5722" stop-color="#1e0000"/><stop offset="0.6555" stop-color="#0a0000"/><stop offset="1.0000" stop-color="#0a0000"/></linearGradient>
<linearGradient id="gc38"><stop offset="0.0000" stop-color="#0a0000"/><stop offset="0.3465" stop-color="#0d0000"/><stop offset="0.3811" stop-color="#210000"/><stop offset="0.3953" stop-color="#3f0000"/><stop offset="0.3994" stop-color="#590000"/><stop offset="0.4035" stop-color="#8a0000"/><stop offset="0.4075" stop-color="#cb0500"/><stop offset="0.4096" stop-color="#e61000"/><stop offset="0.4116" stop-color="#f62200"/><stop offset="0.4157" stop-color="#ff5800"/><stop offset="0.4238" stop-color="#ffce02"/><stop offset="0.4258" stop-color="#ffe406"/><stop offset="0.4278" stop-color="#fff40f"/><stop offset="0.4319" stop-color="#fffe2c"/><stop offset="0.4461" stop-color="#ffffa0"/><stop offset="0.4563" stop-color="#ffffdb"/><stop offset="0.4604" stop-color="#ffffea"/><stop offset="0.4644" stop-color="#ffffeb"/><stop offset="0.4705" stop-color="#ffffd1"/><stop offset="0.4766" stop-color="#ffffa7"/><stop offset="0.4807" stop-color="#ffff80"/><stop offset="0.4827" stop-color="#fffd63"/><stop offset="0.4848" stop-color="#fff542"/><stop offset="0.4868" stop-color="#ffe022"/><stop offset="0.4888" stop-color="#ffb90d"/><stop offset="0.4909" stop-color="#fe8504"/><stop offset="0.4929" stop-color="#f95101"/><stop offset="0.4949" stop-color="#ee2800"/><stop offset="0.4970" stop-color="#d90f00"/><stop offset="0.4990" stop-color="#c00400"/><stop offset="0.5030" stop-color="#970000"/><stop offset="0.5112" stop-color="#6b0000"/><stop offset="0.5213" stop-color="#480000"/><stop offset="0.5315" stop-color="#3a0000"/><stop offset="0.5722" stop-color="#1e0000"/><stop offset="0.6555" stop-color="#0a0000"/><stop offset="1.0000" stop-color="#0a0000"/></linearGradient>
<linearGradient id="gc39"><stop offset="0.0000" stop-color="#0a0000"/><stop offset="0.3486" stop-color="#0d0000"/><stop offset="0.3811" stop-color="#200000"/><stop offset="0.3953" stop-color="#3b0000"/><stop offset="0.3994" stop-color="#4f0000"/><stop offset="0.4035" stop-color="#790000"/><stop offset="0.4075" stop-color="#b80300"/><stop offset="0.4096" stop-color="#d70900"/><stop offset="0.4116" stop-color="#ee1600"/><stop offset="0.4136" stop-color="#f92b00"/><stop offset="0.4217" stop-color="#ff9c00"/><stop offset="0.4258" stop-color="#ffd202"/><stop offset="0.4278" stop-color="#ffe807"/><stop offset="0.4299" stop-color="#fff510"/><stop offset="0.4339" stop-color="#fffe2c"/><stop offset="0.4482" stop-color="#ffff9c"/><stop offset="0.4604" stop-color="#ffffdc"/><stop offset="0.4644" stop-color="#ffffe5"/><stop offset="0.4685" stop-color="#ffffdb"/><stop offset="0.4746" stop-color="#ffffb7"/><stop offset="0.4787" stop-color="#ffff95"/><stop offset="0.4807" stop-color="#ffff80"/><stop offset="0.4827" stop-color="#fffd63"/><stop offset="0.4848" stop-color="#fff542"/><stop offset="0.4868" stop-color="#ffe022"/><stop offset="0.4888" stop-color="#ffb90d"/><stop offset="0.4909" stop-color="#fe8504"/><stop offset="0.4929" stop-color="#f95101"/><stop offset="0.4949" stop-color="#ee2800"/><stop offset="0.4970" stop-color="#d90f00"/><stop offset="0.4990" stop-color="#c00400"/><stop offset="0.5030" stop-color="#970000"/><stop offset="0.5112" stop-color="#6b0000"/><stop offset="0.5213" stop-color="#480000"/><stop offset="0.5315" stop-color="#3a0000"/><stop offset="0.5722" stop-color="#1e0000"/><stop offset="0.6555" stop-color="#0a0000"/><stop offset="1.0000" stop-color="#0a0000"/></linearGradient>
<linearGradient id="gc40"><stop offset="0.0000" stop-color="#0a0000"/><stop offset="0.3486" stop-color="#0d0000"/><stop offset="0.3831" stop-color="#210000"/><stop offset="0.3974" stop-color="#3e0000"/><stop offset="0.4014" stop-color="#560000"/><stop offset="0.4055" stop-color="#860000"/><stop offset="0.4096" stop-color="#c70400"/><stop offset="0.4116" stop-color="#e20d00"/><stop offset="0.4136" stop-color="#f41d00"/><stop offset="0.4177" stop-color="#fe4e00"/><stop offset="0.4278" stop-color="#ffd702"/><stop offset="0.4299" stop-color="#ffea07"/><stop offset="0.4319" stop-color="#fff710"/><stop offset="0.4360" stop-color="#fffe2c"/><stop offset="0.4502" stop-color="#ffff99"/><stop offset="0.4624" stop-color="#ffffd4"/><stop offset="0.4665" stop-color="#ffffdc"/><stop offset="0.4705" stop-color="#ffffd0"/><stop offset="0.4766" stop-color="#ffffa7"/><stop offset="0.4807" stop-color="#ffff80"/><stop offset="0.4827" stop-color="#fffd63"/><stop offset="0.4848" stop-color="#fff542"/><stop offset="0.4868" stop-color="#ffe022"/><stop offset="0.4888" stop-color="#ffb90d"/><stop offset="0.4909" stop-color="#fe8504"/><stop offset="0.4929" stop-color="#f95101"/><stop offset="0.4949" stop-color="#ee2800"/><stop offset="0.4970" stop-color="#d90f00"/><stop offset="0.4990" stop-color="#c00400"/><stop offset="0.5030" stop-color="#970000"/><stop offset="0.5112" stop-color="#6b0000"/><stop offset="0.5213" stop-color="#480000"/><stop offset="0.5315" stop-color="#3a0000"/><stop offset="0.5722" stop-color="#1e0000"/><stop offset="0.6555" stop-color="#0a0000"/><stop offset="1.0000" stop-color="#0a0000"/></linearGradient>
<linearGradient id="gc41"><stop offset="0.0000" stop-color="#0a0000"/><stop offset="0.3506" stop-color="#0d0000"/><stop offset="0.3831" stop-color="#200000"/><stop offset="0.3974" stop-color="#3a0000"/><stop offset="0.4014" stop-color="#4d0000"/><stop offset="0.4055" stop-color="#760000"/><stop offset="0.4116" stop-color="#d40700"/><stop offset="0.4136" stop-color="#eb1200"/><stop offset="0.4157" stop-color="#f82500"/><stop offset="0.4217" stop-color="#ff7200"/><stop offset="0.4299" stop-color="#ffdb03"/><stop offset="0.4319" stop-color="#ffed08"/><stop offset="0.4339" stop-color="#fff811"/><stop offset="0.4400" stop-color="#ffff3c"/><stop offset="0.4522" stop-color="#ffff96"/><stop offset="0.4644" stop-color="#ffffcc"/><stop offset="0.4685" stop-color="#ffffd2"/><stop offset="0.4726" stop-color="#ffffc4"/><stop offset="0.4787" stop-color="#ffff95"/><stop offset="0.4807" stop-color="#ffff80"/><stop offset="0.4827" stop-color="#fffd63"/><stop offset="0.4848" stop-color="#fff542"/><stop offset="0.4868" stop-color="#ffe022"/><stop offset="0.4888" stop-color="#ffb90d"/><stop offset="0.4909" stop-color="#fe8504"/><stop offset="0.4929" stop-color="#f95101"/><stop offset="0.4949" stop-color="#ee2800"/><stop offset="0.4970" stop-color="#d90f00"/><stop offset="0.4990" stop-color="#c00400"/><stop offset="0.5030" stop-color="#970000"/><stop offset="0.5112" stop-color="#6b0000"/><stop offset="0.5213" stop-color="#480000"/><stop offset="0.5315" stop-color="#3a0000"/><stop offset="0.5722" stop-color="#1e0000"/><stop offset="0.6555" stop-color="#0a0000"/><stop offset="1.0000" stop-color="#0a0000"/></linearGradient>
<linearGradient id="gc42"><stop offset="0.0000" stop-color="#0a0000"/><stop offset="0.3506" stop-color="#0d0000"/><stop offset="0.3852" stop-color="#210000"/><stop offset="0.3994" stop-color="#3d0000"/><stop offset="0.4035" stop-color="#540000"/><stop offset="0.4055" stop-color="#680000"/><stop offset="0.4096" stop-color="#a10100"/><stop offset="0.4136" stop-color="#df0b00"/><stop offset="0.4157" stop-color="#f21900"/><stop offset="0.4177" stop-color="#fb2d00"/><stop offset="0.4319" stop-color="#ffde03"/><stop offset="0.4339" stop-color="#ffef08"/><stop offset="0.4380" stop-color="#fffd1f"/><stop offset="0.4543" stop-color="#ffff93"/><stop offset="0.4644" stop-color="#ffffbf"/><stop offset="0.4685" stop-color="#ffffc9"/><stop offset="0.4726" stop-color="#ffffc2"/><stop offset="0.4766" stop-color="#ffffa7"/><stop offset="0.4807" stop-color="#ffff80"/><stop offset="0.4827" stop-color="#fffd63"/><stop offset="0.4848" stop-color="#fff542"/><stop offset="0.4868" stop-color="#ffe022"/><stop offset="0.4888" stop-color="#ffb90d"/><stop offset="0.4909" stop-color="#fe8504"/><stop offset="0.4929" stop-color="#f95101"/><stop offset="0.4949" stop-color="#ee2800"/><stop offset="0.4970" stop-color="#d90f00"/><stop offset="0.4990" stop-color="#c00400"/><stop offset="0.5030" stop-color="#970000"/><stop offset="0.5112" stop-color="#6b0000"/><stop offset="0.5213" stop-color="#480000"/><stop offset="0.5315" stop-color="#3a0000"/><stop offset="0.5722" stop-color="#1e0000"/><stop offset="0.6555" stop-color="#0a0000"/><stop offset="1.0000" stop-color="#0a0000"/></linearGradient>
<linearGradient id="gc43"><stop offset="0.0000" stop-color="#0a0000"/><stop offset="0.3526" stop-color="#0d0000"/><stop offset="0.3852" stop-color="#1f0000"/><stop offset="0.3994" stop-color="#390000"/><stop offset="0.4035" stop-color="#4b0000"/><stop offset="0.4075" stop-color="#720000"/><stop offset="0.4136" stop-color="#d00600"/><stop offset="0.4157" stop-color="#e90f00"/><stop offset="0.4177" stop-color="#f72000"/><stop offset="0.4217" stop-color="#ff4e00"/><stop offset="0.4319" stop-color="#ffcc01"/><stop offset="0.4360" stop-color="#fff109"/><stop offset="0.4400" stop-color="#fffe1f"/><stop offset="0.4563" stop-color="#ffff91"/><stop offset="0.4644" stop-color="#ffffb2"/><stop offset="0.4705" stop-color="#ffffc0"/><stop offset="0.4746" stop-color="#ffffb5"/><stop offset="0.4787" stop-color="#ffff95"/><stop offset="0.4807" stop-color="#ffff80"/><stop offset="0.4827" stop-color="#fffd63"/><stop offset="0.4848" stop-color="#fff542"/><stop offset="0.4868" stop-color="#ffe022"/><stop offset="0.4888" stop-color="#ffb90d"/><stop offset="0.4909" stop-color="#fe8504"/><stop offset="0.4929" stop-color="#f95101"/><stop offset="0.4949" stop-color="#ee2800"/><stop offset="0.4970" stop-color="#d90f00"/><stop offset="0.4990" stop-color="#c00400"/><stop offset="0.5030" stop-color="#970000"/><stop offset="0.5112" stop-color="#6b0000"/><stop offset="0.5213" stop-color="#480000"/><stop offset="0.5315" stop-color="#3a0000"/><stop offset="0.5722" stop-color="#1e0000"/><stop offset="0.6555" stop-color="#0a0000"/><stop offset="1.0000" stop-color="#0a0000"/></linearGradient>
<linearGradient id="gc44"><stop offset="0.0000" stop-color="#0a0000"/><stop offset="0.3547" stop-color="#0d0000"/><stop offset="0.3872" stop-color="#200000"/><stop offset="0.4014" stop-color="#3c0000"/><stop offset="0.4055" stop-color="#520000"/><stop offset="0.4096" stop-color="#7e0000"/><stop offset="0.4136" stop-color="#be0300"/><stop offset="0.4157" stop-color="#db0900"/><stop offset="0.4177" stop-color="#f01500"/><stop offset="0.4197" stop-color="#fa2800"/><stop offset="0.4319" stop-color="#ffb900"/><stop offset="0.4360" stop-color="#ffe404"/><stop offset="0.4380" stop-color="#fff30a"/><stop offset="0.4421" stop-color="#fffe20"/><stop offset="0.4583" stop-color="#ffff8e"/><stop offset="0.4665" stop-color="#ffffae"/><stop offset="0.4705" stop-color="#ffffb7"/><stop offset="0.4746" stop-color="#ffffb2"/><stop offset="0.4787" stop-color="#ffff95"/><stop offset="0.4807" stop-color="#ffff80"/><stop offset="0.4827" stop-color="#fffd63"/><stop offset="0.4848" stop-color="#fff542"/><stop offset="0.4868" stop-color="#ffe022"/><stop offset="0.4888" stop-color="#ffb90d"/><stop offset="0.4909" stop-color="#fe8504"/><stop offset="0.4929" stop-color="#f95101"/><stop offset="0.4949" stop-color="#ee2800"/><stop offset="0.4970" stop-color="#d90f00"/><stop offset="0.4990" stop-color="#c00400"/><stop offset="0.5030" stop-color="#970000"/><stop offset="0.5112" stop-color="#6b0000"/><stop offset="0.5213" stop-color="#480000"/><stop offset="0.5315" stop-color="#3a0000"/><stop offset="0.5722" stop-color="#1e0000"/><stop offset="0.6555" stop-color="#0a0000"/><stop offset="1.0000" stop-color="#0a0000"/></linearGradient>
<linearGradient id="gc45"><stop offset="0.0000" stop-color="#0a0000"/><stop offset="0.3547" stop-color="#0d0000"/><stop offset="0.3892" stop-color="#210000"/><stop offset="0.4035" stop-color="#3f0000"/><stop offset="0.4075" stop-color="#590000"/><stop offset="0.4116" stop-color="#8a0000"/><stop offset="0.4157" stop-color="#cb0400"/><stop offset="0.4177" stop-color="#e60d00"/><stop offset="0.4197" stop-color="#f61c00"/><stop offset="0.4238" stop-color="#ff4700"/><stop offset="0.4360" stop-color="#ffd401"/><stop offset="0.4400" stop-color="#fff40a"/><stop offset="0.4441" stop-color="#fffe20"/><stop offset="0.4604" stop-color="#ffff8c"/><stop offset="0.4665" stop-color="#ffffa5"/><stop offset="0.4726" stop-color="#ffffb0"/><stop offset="0.4746" stop-color="#ffffad"/><stop offset="0.4787" stop-color="#ffff95"/><stop offset="0.4807" stop-color="#ffff80"/><stop offset="0.4827" stop-color="#fffd63"/><stop offset="0.4848" stop-color="#fff542"/><stop offset="0.4868" stop-color="#ffe022"/><stop offset="0.4888" stop-color="#ffb90d"/><stop offset="0.4909" stop-color="#fe8504"/><stop offset="0.4929" stop-color="#f95101"/><stop offset="0.4949" stop-color="#ee2800"/><stop offset="0.4970" stop-color="#d90f00"/><stop offset="0.4990" stop-color="#c00400"/><stop offset="0.5030" stop-color="#970000"/><stop offset="0.5112" stop-color="#6b0000"/><stop offset="0.5213" stop-color="#480000"/><stop offset="0.5315" stop-color="#3a0000"/><stop offset="0.5722" stop-color="#1e0000"/><stop offset="0.6555" stop-color="#0a0000"/><stop offset="1.0000" stop-color="#0a0000"/></linearGradient>
<linearGradient id="gc46"><stop offset="0.0000" stop-color="#0a0000"/><stop offset="0.3567" stop-color="#0d0000"/><stop offset="0.3892" stop-color="#200000"/><stop offset="0.4035" stop-color="#3b0000"/><stop offset="0.4075" stop-color="#4f0000"/><stop offset="0.4116" stop-color="#7a0000"/><stop offset="0.4177" stop-color="#d80700"/><stop offset="0.4197" stop-color="#ee1200"/><stop offset="0.4217" stop-color="#fa2300"/><stop offset="0.4299" stop-color="#ff7d00"/><stop offset="0.4380" stop-color="#ffd801"/><stop offset="0.4421" stop-color="#fff60b"/><stop offset="0.4461" stop-color="#fffe21"/><stop offset="0.4624" stop-color="#ffff8a"/><stop offset="0.4685" stop-color="#ffffa2"/><stop offset="0.4726" stop-color="#ffffa9"/><stop offset="0.4766" stop-color="#ffffa1"/><stop offset="0.4787" stop-color="#ffff93"/><stop offset="0.4807" stop-color="#ffff7f"/><stop offset="0.4827" stop-color="#fffd63"/><stop offset="0.4848" stop-color="#fff542"/><stop offset="0.4868" stop-color="#ffe022"/><stop offset="0.4888" stop-color="#ffb90d"/><stop offset="0.4909" stop-color="#fe8504"/><stop offset="0.4929" stop-color="#f95101"/><stop offset="0.4949" stop-color="#ee2800"/><stop offset="0.4970" stop-color="#d90f00"/><stop offset="0.4990" stop-color="#c00400"/><stop offset="0.5030" stop-color="#970000"/><stop offset="0.5112" stop-color="#6b0000"/><stop offset="0.5213" stop-color="#480000"/><stop offset="0.5315" stop-color="#3a0000"/><stop offset="0.5722" stop-color="#1e0000"/><stop offset="0.6555" stop-color="#0a0000"/><stop offset="1.0000" stop-color="#0a0000"/></linearGradient>
<linearGradient id="gc47"><stop offset="0.0000" stop-color="#0a0000"/><stop offset="0.3567" stop-color="#0d0000"/><stop offset="0.3913" stop-color="#210000"/><stop offset="0.4055" stop-color="#3e0000"/><stop offset="0.4096" stop-color="#560000"/><stop offset="0.4136" stop-color="#860000"/><stop offset="0.4177" stop-color="#c70400"/><stop offset="0.4197" stop-color="#e30b00"/><stop offset="0.4217" stop-color="#f41800"/><stop offset="0.4258" stop-color="#fe4000"/><stop offset="0.4400" stop-color="#ffdb02"/><stop offset="0.4441" stop-color="#fff70c"/><stop offset="0.4502" stop-color="#ffff2e"/><stop offset="0.4644" stop-color="#ffff88"/><stop offset="0.4705" stop-color="#ffff9f"/><stop offset="0.4746" stop-color="#ffffa3"/><stop offset="0.4766" stop-color="#ffff9e"/><stop offset="0.4787" stop-color="#ffff92"/><stop offset="0.4807" stop-color="#ffff7f"/><stop offset="0.4827" stop-color="#fffd63"/><stop offset="0.4848" stop-color="#fff542"/><stop offset="0.4868" stop-color="#ffe022"/><stop offset="0.4888" stop-color="#ffb90d"/><stop offset="0.4909" stop-color="#fe8504"/><stop offset="0.4929" stop-color="#f95101"/><stop offset="0.4949" stop-color="#ee2800"/><stop offset="0.4970" stop-color="#d90f00"/><stop offset="0.4990" stop-color="#c00400"/><stop offset="0.5030" stop-color="#970000"/><stop offset="0.5112" stop-color="#6b0000"/><stop offset="0.5213" stop-color="#480000"/><stop offset="0.5315" stop-color="#3a0000"/><stop offset="0.5722" stop-color="#1e0000"/><stop offset="0.6555" stop-color="#0a0000"/><stop offset="1.0000" stop-color="#0a0000"/></linearGradient>
<linearGradient id="gc48"><stop offset="0.0000" stop-color="#0a0000"/><stop offset="0.3587" stop-color="#0d0000"/><stop offset="0.3913" stop-color="#200000"/><stop offset="0.4055" stop-color="#3a0000"/><stop offset="0.4096" stop-color="#4d0000"/><stop offset="0.4136" stop-color="#760000"/><stop offset="0.4197" stop-color="#d40600"/><stop offset="0.4217" stop-color="#ec0f00"/><stop offset="0.4238" stop-color="#f91e00"/><stop offset="0.4299" stop-color="#ff5d00"/><stop offset="0.4421" stop-color="#ffde02"/><stop offset="0.4461" stop-color="#fff80c"/><stop offset="0.4522" stop-color="#ffff2f"/><stop offset="0.4685" stop-color="#ffff90"/><stop offset="0.4726" stop-color="#ffff9d"/><stop offset="0.4766" stop-color="#ffff9b"/><stop offset="0.4787" stop-color="#ffff91"/><stop offset="0.4807" stop-color="#ffff7e"/><stop offset="0.4827" stop-color="#fffd63"/><stop offset="0.4848" stop-color="#fff542"/><stop offset="0.4868" stop-color="#ffe022"/><stop offset="0.4888" stop-color="#ffb90d"/><stop offset="0.4909" stop-color="#fe8504"/><stop offset="0.4929" stop-color="#f95101"/><stop offset="0.4949" stop-color="#ee2800"/><stop offset="0.4970" stop-color="#d90f00"/><stop offset="0.4990" stop-color="#c00400"/><stop offset="0.5030" stop-color="#970000"/><stop offset="0.5112" stop-color="#6b0000"/><stop offset="0.5213" stop-color="#480000"/><stop offset="0.5315" stop-color="#3a0000"/><stop offset="0.5722" stop-color="#1e0000"/><stop offset="0.6555" stop-color="#0a0000"/><stop offset="1.0000" stop-color="#0a0000"/></linearGradient>
<linearGradient id="gc49"><stop offset="0.0000" stop-color="#0a0000"/><stop offset="0.3587" stop-color="#0d0000"/><stop offset="0.3933" stop-color="#210000"/><stop offset="0.4075" stop-color="#3d0000"/><stop offset="0.4116" stop-color="#540000"/><stop offset="0.4136" stop-color="#680000"/><stop offset="0.4177" stop-color="#a10100"/><stop offset="0.4217" stop-color="#df0900"/><stop offset="0.4238" stop-color="#f21500"/><stop offset="0.4258" stop-color="#fb2500"/><stop offset="0.4441" stop-color="#ffe102"/><stop offset="0.4482" stop-color="#fff90d"/><stop offset="0.4563" stop-color="#ffff3b"/><stop offset="0.4705" stop-color="#ffff8e"/><stop offset="0.4746" stop-color="#ffff99"/><stop offset="0.4766" stop-color="#ffff97"/><stop offset="0.4787" stop-color="#ffff8f"/><stop offset="0.4807" stop-color="#ffff7e"/><stop offset="0.4827" stop-color="#fffd63"/><stop offset="0.4848" stop-color="#fff542"/><stop offset="0.4868" stop-color="#ffe022"/><stop offset="0.4888" stop-color="#ffb90d"/><stop offset="0.4909" stop-color="#fe8504"/><stop offset="0.4929" stop-color="#f95101"/><stop offset="0.4949" stop-color="#ee2800"/><stop offset="0.4970" stop-color="#d90f00"/><stop offset="0.4990" stop-color="#c00400"/><stop offset="0.5030" stop-color="#970000"/><stop offset="0.5112" stop-color="#6b0000"/><stop offset="0.5213" stop-color="#480000"/><stop offset="0.5315" stop-color="#3a0000"/><stop offset="0.5722" stop-color="#1e0000"/><stop offset="0.6555" stop-color="#0a0000"/><stop offset="1.0000" stop-color="#0a0000"/></linearGradient>
<linearGradient id="gc50"><stop offset="0.0000" stop-color="#0a0000"/><stop offset="0.3608" stop-color="#0d0000"/><stop offset="0.3933" stop-color="#1f0000"/><stop offset="0.4075" stop-color="#390000"/><stop offset="0.4116" stop-color="#4b0000"/><stop offset="0.4157" stop-color="#720000"/><stop offset="0.4217" stop-color="#d00500"/><stop offset="0.4238" stop-color="#e90d00"/><stop offset="0.4258" stop-color="#f71a00"/><stop offset="0.4299" stop-color="#ff4000"/><stop offset="0.4461" stop-color="#ffe402"/><stop offset="0.4502" stop-color="#fffa0e"/><stop offset="0.4604" stop-color="#ffff47"/><stop offset="0.4726" stop-color="#ffff8c"/><stop offset="0.4766" stop-color="#ffff94"/><stop offset="0.4787" stop-color="#ffff8d"/><stop offset="0.4807" stop-color="#ffff7d"/><stop offset="0.4827" stop-color="#fffd63"/><stop offset="0.4848" stop-color="#fff542"/><stop offset="0.4868" stop-color="#ffe022"/><stop offset="0.4888" stop-color="#ffb90d"/><stop offset="0.4909" stop-color="#fe8504"/><stop offset="0.4929" stop-color="#f95101"/><stop offset="0.4949" stop-color="#ee2800"/><stop offset="0.4970" stop-color="#d90f00"/><stop offset="0.4990" stop-color="#c00400"/><stop offset="0.5030" stop-color="#970000"/><stop offset="0.5112" stop-color="#6b0000"/><stop offset="0.5213" stop-color="#480000"/><stop offset="0.5315" stop-color="#3a0000"/><stop offset="0.5722" stop-color="#1e0000"/><stop offset="0.6555" stop-color="#0a0000"/><stop offset="1.0000" stop-color="#0a0000"/></linearGradient>
<linearGradient id="gc51"><stop offset="0.0000" stop-color="#0a0000"/><stop offset="0.3628" stop-color="#0d0000"/><stop offset="0.3953" stop-color="#200000"/><stop offset="0.4096" stop-color="#3c0000"/><stop offset="0.4136" stop-color="#510000"/><stop offset="0.4177" stop-color="#7c0000"/><stop offset="0.4238" stop-color="#da0700"/><stop offset="0.4258" stop-color="#ef1100"/><stop offset="0.4278" stop-color="#fa2000"/><stop offset="0.4380" stop-color="#ff8300"/><stop offset="0.4482" stop-color="#ffe502"/><stop offset="0.4522" stop-color="#fffa0e"/><stop offset="0.4644" stop-color="#ffff52"/><stop offset="0.4746" stop-color="#ffff89"/><stop offset="0.4766" stop-color="#ffff8e"/><stop offset="0.4787" stop-color="#ffff8a"/><stop offset="0.4807" stop-color="#ffff7c"/><stop offset="0.4827" stop-color="#fffd63"/><stop offset="0.4848" stop-color="#fff542"/><stop offset="0.4868" stop-color="#ffe022"/><stop offset="0.4888" stop-color="#ffb90d"/><stop offset="0.4909" stop-color="#fe8504"/><stop offset="0.4929" stop-color="#f95101"/><stop offset="0.4949" stop-color="#ee2800"/><stop offset="0.4970" stop-color="#d90f00"/><stop offset="0.4990" stop-color="#c00400"/><stop offset="0.5030" stop-color="#970000"/><stop offset="0.5112" stop-color="#6b0000"/><stop offset="0.5213" stop-color="#480000"/><stop offset="0.5315" stop-color="#3a0000"/><stop offset="0.5722" stop-color="#1e0000"/><stop offset="0.6555" stop-color="#0a0000"/><stop offset="1.0000" stop-color="#0a0000"/></linearGradient>
<linearGradient id="gc52"><stop offset="0.0000" stop-color="#0a0000"/><stop offset="0.3628" stop-color="#0d0000"/><stop offset="0.3974" stop-color="#210000"/><stop offset="0.4116" stop-color="#3e0000"/><stop offset="0.4157" stop-color="#570000"/><stop offset="0.4197" stop-color="#860000"/><stop offset="0.4238" stop-color="#c70300"/><stop offset="0.4258" stop-color="#e30900"/><stop offset="0.4278" stop-color="#f41500"/><stop offset="0.4319" stop-color="#fe3800"/><stop offset="0.4482" stop-color="#ffd601"/><stop offset="0.4522" stop-color="#fff307"/><stop offset="0.4563" stop-color="#fffe18"/><stop offset="0.4746" stop-color="#ffff7d"/><stop offset="0.4766" stop-color="#ffff84"/><stop offset="0.4787" stop-color="#ffff84"/><stop offset="0.4807" stop-color="#ffff79"/><stop offset="0.4827" stop-color="#fffd62"/><stop offset="0.4848" stop-color="#fff541"/><stop offset="0.4868" stop-color="#ffe022"/><stop offset="0.4888" stop-color="#ffb90d"/><stop offset="0.4909" stop-color="#fe8504"/><stop offset="0.4929" stop-color="#f95101"/><stop offset="0.4949" stop-color="#ee2800"/><stop offset="0.4970" stop-color="#d90f00"/><stop offset="0.4990" stop-color="#c00400"/><stop offset="0.5030" stop-color="#970000"/><stop offset="0.5112" stop-color="#6b0000"/><stop offset="0.5213" stop-color="#480000"/><stop offset="0.5315" stop-color="#3a0000"/><stop offset="0.5722" stop-color="#1e0000"/><stop offset="0.6555" stop-color="#0a0000"/><stop offset="1.0000" stop-color="#0a0000"/></linearGradient>
<linearGradient id="gc53"><stop offset="0.0000" stop-color="#0a0000"/><stop offset="0.3648" stop-color="#0d0000"/><stop offset="0.3974" stop-color="#1f0000"/><stop offset="0.4116" stop-color="#3a0000"/><stop offset="0.4157" stop-color="#4c0000"/><stop offset="0.4197" stop-color="#740000"/><stop offset="0.4258" stop-color="#d20500"/><stop offset="0.4278" stop-color="#ea0d00"/><stop offset="0.4299" stop-color="#f81a00"/><stop offset="0.4339" stop-color="#ff3d00"/><stop offset="0.4502" stop-color="#ffd801"/><stop offset="0.4543" stop-color="#fff407"/><stop offset="0.4583" stop-color="#fffe17"/><stop offset="0.4766" stop-color="#ffff77"/><stop offset="0.4787" stop-color="#ffff7b"/><stop offset="0.4807" stop-color="#ffff74"/><stop offset="0.4827" stop-color="#fffd60"/><stop offset="0.4848" stop-color="#fff541"/><stop offset="0.4868" stop-color="#ffe022"/><stop offset="0.4888" stop-color="#ffb90d"/><stop offset="0.4909" stop-color="#fe8504"/><stop offset="0.4929" stop-color="#f95101"/><stop offset="0.4949" stop-color="#ee2800"/><stop offset="0.4970" stop-color="#d90f00"/><stop offset="0.4990" stop-color="#c00400"/><stop offset="0.5030" stop-color="#970000"/><stop offset="0.5112" stop-color="#6b0000"/><stop offset="0.5213" stop-color="#480000"/><stop offset="0.5315" stop-color="#3a0000"/><stop offset="0.5722" stop-color="#1e0000"/><stop offset="0.6555" stop-color="#0a0000"/><stop offset="1.0000" stop-color="#0a0000"/></linearGradient>
<linearGradient id="gc54"><stop offset="0.0000" stop-color="#0a0000"/><stop offset="0.3669" stop-color="#0d0000"/><stop offset="0.3994" stop-color="#200000"/><stop offset="0.4136" stop-color="#3c0000"/><stop offset="0.4177" stop-color="#520000"/><stop offset="0.4217" stop-color="#7e0000"/><stop offset="0.4278" stop-color="#dc0700"/><stop offset="0.4299" stop-color="#f01000"/><stop offset="0.4319" stop-color="#fa1f00"/><stop offset="0.4441" stop-color="#ff8f00"/><stop offset="0.4543" stop-color="#ffe902"/><stop offset="0.4583" stop-color="#fffb0d"/><stop offset="0.4766" stop-color="#ffff66"/><stop offset="0.4787" stop-color="#ffff6d"/><stop offset="0.4807" stop-color="#ffff6b"/><stop offset="0.4827" stop-color="#fffd5b"/><stop offset="0.4848" stop-color="#fff53f"/><stop offset="0.4868" stop-color="#ffe022"/><stop offset="0.4888" stop-color="#ffb90d"/><stop offset="0.4909" stop-color="#fe8504"/><stop offset="0.4929" stop-color="#f95101"/><stop offset="0.4949" stop-color="#ee2800"/><stop offset="0.4970" stop-color="#d90f00"/><stop offset="0.4990" stop-color="#c00400"/><stop offset="0.5030" stop-color="#970000"/><stop offset="0.5112" stop-color="#6b0000"/><stop offset="0.5213" stop-color="#480000"/><stop offset="0.5315" stop-color="#3a0000"/><stop offset="0.5722" stop-color="#1e0000"/><stop offset="0.6555" stop-color="#0a0000"/><stop offset="1.0000" stop-color="#0a0000"/></linearGradient>
<linearGradient id="gc55"><stop offset="0.0000" stop-color="#0a0000"/><stop offset="0.3669" stop-color="#0d0000"/><stop offset="0.4014" stop-color="#210000"/><stop offset="0.4157" stop-color="#3e0000"/><stop offset="0.4197" stop-color="#580000"/><stop offset="0.4238" stop-color="#880000"/><stop offset="0.4278" stop-color="#c90300"/><stop offset="0.4299" stop-color="#e40900"/><stop offset="0.4319" stop-color="#f51400"/><stop offset="0.4360" stop-color="#fe3500"/><stop offset="0.4543" stop-color="#ffdb01"/><stop offset="0.4583" stop-color="#fff506"/><stop offset="0.4624" stop-color="#fffe15"/><stop offset="0.4787" stop-color="#ffff5d"/><stop offset="0.4807" stop-color="#ffff5f"/><stop offset="0.4827" stop-color="#fffd54"/><stop offset="0.4848" stop-color="#fff53c"/><stop offset="0.4868" stop-color="#ffe021"/><stop offset="0.4888" stop-color="#ffb90d"/><stop offset="0.4909" stop-color="#fe8504"/><stop offset="0.4929" stop-color="#f95101"/><stop offset="0.4949" stop-color="#ee2800"/><stop offset="0.4970" stop-color="#d90f00"/><stop offset="0.4990" stop-color="#c00400"/><stop offset="0.5030" stop-color="#970000"/><stop offset="0.5112" stop-color="#6b0000"/><stop offset="0.5213" stop-color="#480000"/><stop offset="0.5315" stop-color="#3a0000"/><stop offset="0.5722" stop-color="#1e0000"/><stop offset="0.6555" stop-color="#0a0000"/><stop offset="1.0000" stop-color="#0a0000"/></linearGradient>
<linearGradient id="gc56"><stop offset="0.0000" stop-color="#0a0000"/><stop offset="0.3689" stop-color="#0d0000"/><stop offset="0.4035" stop-color="#220000"/><stop offset="0.4157" stop-color="#390000"/><stop offset="0.4197" stop-color="#4b0000"/><stop offset="0.4238" stop-color="#710000"/><stop offset="0.4299" stop-color="#cd0400"/><stop offset="0.4319" stop-color="#e70b00"/><stop offset="0.4339" stop-color="#f61700"/><stop offset="0.4380" stop-color="#ff3800"/><stop offset="0.4563" stop-color="#ffdd01"/><stop offset="0.4604" stop-color="#fff707"/><stop offset="0.4665" stop-color="#ffff1d"/><stop offset="0.4787" stop-color="#ffff51"/><stop offset="0.4807" stop-color="#ffff53"/><stop offset="0.4827" stop-color="#fffd4b"/><stop offset="0.4848" stop-color="#fff537"/><stop offset="0.4868" stop-color="#ffe01f"/><stop offset="0.4888" stop-color="#ffb90d"/><stop offset="0.4909" stop-color="#fe8504"/><stop offset="0.4929" stop-color="#f95101"/><stop offset="0.4949" stop-color="#ee2800"/><stop offset="0.4970" stop-color="#d90f00"/><stop offset="0.4990" stop-color="#c00400"/><stop offset="0.5030" stop-color="#970000"/><stop offset="0.5112" stop-color="#6b0000"/><stop offset="0.5213" stop-color="#480000"/><stop offset="0.5315" stop-color="#3a0000"/><stop offset="0.5722" stop-color="#1e0000"/><stop offset="0.6555" stop-color="#0a0000"/><stop offset="1.0000" stop-color="#0a0000"/></linearGradient>
<linearGradient id="gc57"><stop offset="0.0000" stop-color="#0a0000"/><stop offset="0.3709" stop-color="#0d0000"/><stop offset="0.4035" stop-color="#1f0000"/><stop offset="0.4177" stop-color="#390000"/><stop offset="0.4217" stop-color="#4b0000"/><stop offset="0.4258" stop-color="#720000"/><stop offset="0.4319" stop-color="#cf0400"/><stop offset="0.4339" stop-color="#e80b00"/><stop offset="0.4360" stop-color="#f71800"/><stop offset="0.4400" stop-color="#ff3900"/><stop offset="0.4583" stop-color="#ffe001"/><stop offset="0.4624" stop-color="#fff807"/><stop offset="0.4685" stop-color="#ffff1d"/><stop offset="0.4787" stop-color="#ffff46"/><stop offset="0.4807" stop-color="#ffff49"/><stop offset="0.4827" stop-color="#fffd44"/><stop offset="0.4848" stop-color="#fff533"/><stop offset="0.4868" stop-color="#ffe01d"/><stop offset="0.4888" stop-color="#ffb90c"/><stop offset="0.4929" stop-color="#f95101"/><stop offset="0.4949" stop-color="#ee2800"/><stop offset="0.4970" stop-color="#d90f00"/><stop offset="0.4990" stop-color="#c00400"/><stop offset="0.5030" stop-color="#970000"/><stop offset="0.5112" stop-color="#6b0000"/><stop offset="0.5213" stop-color="#480000"/><stop offset="0.5315" stop-color="#3a0000"/><stop offset="0.5722" stop-color="#1e0000"/><stop offset="0.6555" stop-color="#0a0000"/><stop offset="1.0000" stop-color="#0a0000"/></linearGradient>
<linearGradient id="gc58"><stop offset="0.0000" stop-color="#0a0000"/><stop offset="0.3730" stop-color="#0d0000"/><stop offset="0.4055" stop-color="#1f0000"/><stop offset="0.4197" stop-color="#3a0000"/><stop offset="0.4238" stop-color="#4c0000"/><stop offset="0.4278" stop-color="#730000"/><stop offset="0.4339" stop-color="#d00500"/><stop offset="0.4360" stop-color="#e90c00"/><stop offset="0.4380" stop-color="#f71800"/><stop offset="0.4421" stop-color="#ff3b00"/><stop offset="0.4604" stop-color="#ffe301"/><stop offset="0.4644" stop-color="#fff908"/><stop offset="0.4726" stop-color="#ffff25"/><stop offset="0.4807" stop-color="#ffff40"/><stop offset="0.4827" stop-color="#fffd3d"/><stop offset="0.4848" stop-color="#fff52f"/><stop offset="0.4868" stop-color="#ffe01c"/><stop offset="0.4888" stop-color="#ffb90c"/><stop offset="0.4929" stop-color="#f95101"/><stop offset="0.4949" stop-color="#ee2800"/><stop offset="0.4970" stop-color="#d90f00"/><stop offset="0.4990" stop-color="#c00400"/><stop offset="0.5030" stop-color="#970000"/><stop offset="0.5112" stop-color="#6b0000"/><stop offset="0.5213" stop-color="#480000"/><stop offset="0.5315" stop-color="#3a0000"/><stop offset="0.5722" stop-color="#1e0000"/><stop offset="0.6555" stop-color="#0a0000"/><stop offset="1.0000" stop-color="#0a0000"/></linearGradient>
<linearGradient id="gc59"><stop offset="0.0000" stop-color="#0a0000"/><stop offset="0.3750" stop-color="#0d0000"/><stop offset="0.4075" stop-color="#1f0000"/><stop offset="0.4217" stop-color="#3a0000"/><stop offset="0.4258" stop-color="#4d0000"/><stop offset="0.4299" stop-color="#750000"/><stop offset="0.4360" stop-color="#d20500"/><stop offset="0.4380" stop-color="#ea0d00"/><stop offset="0.4400" stop-color="#f71900"/><stop offset="0.4441" stop-color="#ff3d00"/><stop offset="0.4624" stop-color="#ffe601"/><stop offset="0.4665" stop-color="#fffa08"/><stop offset="0.4787" stop-color="#ffff32"/><stop offset="0.4827" stop-color="#fffd36"/><stop offset="0.4848" stop-color="#fff52b"/><stop offset="0.4868" stop-color="#ffe01a"/><stop offset="0.4888" stop-color="#ffb90b"/><stop offset="0.4929" stop-color="#f95101"/><stop offset="0.4949" stop-color="#ee2800"/><stop offset="0.4970" stop-color="#d90f00"/><stop offset="0.4990" stop-color="#c00400"/><stop offset="0.5030" stop-color="#970000"/><stop offset="0.5112" stop-color="#6b0000"/><stop offset="0.5213" stop-color="#480000"/><stop offset="0.5315" stop-color="#3a0000"/><stop offset="0.5722" stop-color="#1e0000"/><stop offset="0.6555" stop-color="#0a0000"/><stop offset="1.0000" stop-color="#0a0000"/></linearGradient>
<linearGradient id="gc60"><stop offset="0.0000" stop-color="#0a0000"/><stop offset="0.3770" stop-color="#0d0000"/><stop offset="0.4096" stop-color="#200000"/><stop offset="0.4238" stop-color="#3a0000"/><stop offset="0.4278" stop-color="#4d0000"/><stop offset="0.4319" stop-color="#760000"/><stop offset="0.4380" stop-color="#d30500"/><stop offset="0.4400" stop-color="#eb0d00"/><stop offset="0.4421" stop-color="#f81b00"/><stop offset="0.4482" stop-color="#ff5100"/><stop offset="0.4624" stop-color="#ffd800"/><stop offset="0.4665" stop-color="#fff404"/><stop offset="0.4705" stop-color="#fffe0f"/><stop offset="0.4807" stop-color="#ffff2e"/><stop offset="0.4827" stop-color="#fffd2f"/><stop offset="0.4848" stop-color="#fff526"/><stop offset="0.4868" stop-color="#ffe018"/><stop offset="0.4888" stop-color="#ffb90b"/><stop offset="0.4929" stop-color="#f95101"/><stop offset="0.4949" stop-color="#ee2800"/><stop offset="0.4970" stop-color="#d90f00"/><stop offset="0.4990" stop-color="#c00400"/><stop offset="0.5030" stop-color="#970000"/><stop offset="0.5112" stop-color="#6b0000"/><stop offset="0.5213" stop-color="#480000"/><stop offset="0.5315" stop-color="#3a0000"/><stop offset="0.5722" stop-color="#1e0000"/><stop offset="0.6555" stop-color="#0a0000"/><stop offset="1.0000" stop-color="#0a0000"/></linearGradient>
<linearGradient id="gc61"><stop offset="0.0000" stop-color="#0a0000"/><stop offset="0.3791" stop-color="#0d0000"/><stop offset="0.4116" stop-color="#200000"/><stop offset="0.4258" stop-color="#3a0000"/><stop offset="0.4299" stop-color="#4e0000"/><stop offset="0.4339" stop-color="#770000"/><stop offset="0.4400" stop-color="#d40600"/><stop offset="0.4421" stop-color="#eb0e00"/><stop offset="0.4441" stop-color="#f81c00"/><stop offset="0.4502" stop-color="#ff5300"/><stop offset="0.4644" stop-color="#ffdb01"/><stop offset="0.4685" stop-color="#fff605"/><stop offset="0.4726" stop-color="#fffe0f"/><stop offset="0.4807" stop-color="#ffff26"/><stop offset="0.4827" stop-color="#fffd27"/><stop offset="0.4848" stop-color="#fff520"/><stop offset="0.4868" stop-color="#ffe015"/><stop offset="0.4888" stop-color="#ffb909"/><stop offset="0.4929" stop-color="#f95101"/><stop offset="0.4949" stop-color="#ee2800"/><stop offset="0.4970" stop-color="#d90f00"/><stop offset="0.4990" stop-color="#c00400"/><stop offset="0.5030" stop-color="#970000"/><stop offset="0.5112" stop-color="#6b0000"/><stop offset="0.5213" stop-color="#480000"/><stop offset="0.5315" stop-color="#3a0000"/><stop offset="0.5722" stop-color="#1e0000"/><stop offset="0.6555" stop-color="#0a0000"/><stop offset="1.0000" stop-color="#0a0000"/></linearGradient>
<linearGradient id="gc62"><stop offset="0.0000" stop-color="#0a0000"/><stop offset="0.3811" stop-color="#0d0000"/><stop offset="0.4136" stop-color="#200000"/><stop offset="0.4278" stop-color="#3b0000"/><stop offset="0.4319" stop-color="#4f0000"/><stop offset="0.4360" stop-color="#790000"/><stop offset="0.4421" stop-color="#d60600"/><stop offset="0.4441" stop-color="#ec0f00"/><stop offset="0.4461" stop-color="#f91d00"/><stop offset="0.4522" stop-color="#ff5500"/><stop offset="0.4665" stop-color="#ffde01"/><stop offset="0.4705" stop-color="#fff705"/><stop offset="0.4766" stop-color="#ffff14"/><stop offset="0.4827" stop-color="#fffd1f"/><stop offset="0.4848" stop-color="#fff51b"/><stop offset="0.4868" stop-color="#ffe011"/><stop offset="0.4888" stop-color="#ffb908"/><stop offset="0.4929" stop-color="#f95101"/><stop offset="0.4949" stop-color="#ee2800"/><stop offset="0.4970" stop-color="#d90f00"/><stop offset="0.4990" stop-color="#c00400"/><stop offset="0.5030" stop-color="#970000"/><stop offset="0.5112" stop-color="#6b0000"/><stop offset="0.5213" stop-color="#480000"/><stop offset="0.5315" stop-color="#3a0000"/><stop offset="0.5722" stop-color="#1e0000"/><stop offset="0.6555" stop-color="#0a0000"/><stop offset="1.0000" stop-color="#0a0000"/></linearGradient>
<linearGradient id="gc63"><stop offset="0.0000" stop-color="#0a0000"/><stop offset="0.3831" stop-color="#0d0000"/><stop offset="0.4157" stop-color="#200000"/><stop offset="0.4299" stop-color="#3b0000"/><stop offset="0.4339" stop-color="#500000"/><stop offset="0.4380" stop-color="#7a0000"/><stop offset="0.4441" stop-color="#d70600"/><stop offset="0.4461" stop-color="#ed0f00"/><stop offset="0.4482" stop-color="#f91e00"/><stop offset="0.4543" stop-color="#ff5700"/><stop offset="0.4685" stop-color="#ffe101"/><stop offset="0.4726" stop-color="#fff905"/><stop offset="0.4807" stop-color="#ffff17"/><stop offset="0.4827" stop-color="#fffd19"/><stop offset="0.4848" stop-color="#fff516"/><stop offset="0.4868" stop-color="#ffe00e"/><stop offset="0.4888" stop-color="#ffb907"/><stop offset="0.4929" stop-color="#f95100"/><stop offset="0.4949" stop-color="#ee2800"/><stop offset="0.4970" stop-color="#d90f00"/><stop offset="0.4990" stop-color="#c00400"/><stop offset="0.5030" stop-color="#970000"/><stop offset="0.5112" stop-color="#6b0000"/><stop offset="0.5213" stop-color="#480000"/><stop offset="0.5315" stop-color="#3a0000"/><stop offset="0.5722" stop-color="#1e0000"/><stop offset="0.6555" stop-color="#0a0000"/><stop offset="1.0000" stop-color="#0a0000"/></linearGradient>
<linearGradient id="gc64"><stop offset="0.0000" stop-color="#0a0000"/><stop offset="0.3852" stop-color="#0d0000"/><stop offset="0.4177" stop-color="#200000"/><stop offset="0.4319" stop-color="#3b0000"/><stop offset="0.4360" stop-color="#500000"/><stop offset="0.4400" stop-color="#7b0000"/><stop offset="0.4461" stop-color="#d80700"/><stop offset="0.4482" stop-color="#ee1000"/><stop offset="0.4502" stop-color="#f91f00"/><stop offset="0.4583" stop-color="#ff6d00"/><stop offset="0.4705" stop-color="#ffe401"/><stop offset="0.4746" stop-color="#fffa05"/><stop offset="0.4807" stop-color="#ffff11"/><stop offset="0.4827" stop-color="#fffd13"/><stop offset="0.4848" stop-color="#fff511"/><stop offset="0.4868" stop-color="#ffe00c"/><stop offset="0.4888" stop-color="#ffb906"/><stop offset="0.4929" stop-color="#f95100"/><stop offset="0.4949" stop-color="#ee2800"/><stop offset="0.4970" stop-color="#d90f00"/><stop offset="0.4990" stop-color="#c00400"/><stop offset="0.5030" stop-color="#970000"/><stop offset="0.5112" stop-color="#6b0000"/><stop offset="0.5213" stop-color="#480000"/><stop offset="0.5315" stop-color="#3a0000"/><stop offset="0.5722" stop-color="#1e0000"/><stop offset="0.6555" stop-color="#0a0000"/><stop offset="1.0000" stop-color="#0a0000"/></linearGradient>
<linearGradient id="gc65"><stop offset="0.0000" stop-color="#0a0000"/><stop offset="0.3872" stop-color="#0d0000"/><stop offset="0.4197" stop-color="#200000"/><stop offset="0.4339" stop-color="#3c0000"/><stop offset="0.4380" stop-color="#510000"/><stop offset="0.4421" stop-color="#7c0000"/><stop offset="0.4482" stop-color="#d90700"/><stop offset="0.4502" stop-color="#ef1100"/><stop offset="0.4522" stop-color="#fa2000"/><stop offset="0.4604" stop-color="#ff7000"/><stop offset="0.4726" stop-color="#ffe701"/><stop offset="0.4766" stop-color="#fffb05"/><stop offset="0.4827" stop-color="#fffd0e"/><stop offset="0.4848" stop-color="#fff50d"/><stop offset="0.4868" stop-color="#ffe00a"/><stop offset="0.4888" stop-color="#ffb905"/><stop offset="0.4929" stop-color="#f95100"/><stop offset="0.4949" stop-color="#ee2800"/><stop offset="0.4970" stop-color="#d90f00"/><stop offset="0.4990" stop-color="#c00400"/><stop offset="0.5030" stop-color="#970000"/><stop offset="0.5112" stop-color="#6b0000"/><stop offset="0.5213" stop-color="#480000"/><stop offset="0.5315" stop-color="#3a0000"/><stop offset="0.5722" stop-color="#1e0000"/><stop offset="0.6555" stop-color="#0a0000"/><stop offset="1.0000" stop-color="#0a0000"/></linearGradient>
<linearGradient id="gc66"><stop offset="0.0000" stop-color="#0a0000"/><stop offset="0.3892" stop-color="#0d0000"/><stop offset="0.4217" stop-color="#200000"/><stop offset="0.4360" stop-color="#3c0000"/><stop offset="0.4400" stop-color="#520000"/><stop offset="0.4441" stop-color="#7e0000"/><stop offset="0.4502" stop-color="#db0800"/><stop offset="0.4522" stop-color="#ef1200"/><stop offset="0.4543" stop-color="#fa2100"/><stop offset="0.4644" stop-color="#ff8700"/><stop offset="0.4726" stop-color="#ffd800"/><stop offset="0.4766" stop-color="#fff502"/><stop offset="0.4807" stop-color="#fffe07"/><stop offset="0.4827" stop-color="#fffd0a"/><stop offset="0.4848" stop-color="#fff50a"/><stop offset="0.4868" stop-color="#ffe008"/><stop offset="0.4888" stop-color="#ffb904"/><stop offset="0.4929" stop-color="#f95100"/><stop offset="0.4949" stop-color="#ee2800"/><stop offset="0.4970" stop-color="#d90f00"/><stop offset="0.4990" stop-color="#c00400"/><stop offset="0.5030" stop-color="#970000"/><stop offset="0.5112" stop-color="#6b0000"/><stop offset="0.5213" stop-color="#480000"/><stop offset="0.5315" stop-color="#3a0000"/><stop offset="0.5722" stop-color="#1e0000"/><stop offset="0.6555" stop-color="#0a0000"/><stop offset="1.0000" stop-color="#0a0000"/></linearGradient>
<linearGradient id="gc67"><stop offset="0.0000" stop-color="#0a0000"/><stop offset="0.3913" stop-color="#0d0000"/><stop offset="0.4238" stop-color="#200000"/><stop offset="0.4380" stop-color="#3d0000"/><stop offset="0.4421" stop-color="#530000"/><stop offset="0.4461" stop-color="#800000"/><stop offset="0.4522" stop-color="#dd0800"/><stop offset="0.4543" stop-color="#f11300"/><stop offset="0.4563" stop-color="#fb2300"/><stop offset="0.4705" stop-color="#ffb400"/><stop offset="0.4766" stop-color="#ffec01"/><stop offset="0.4807" stop-color="#fffc04"/><stop offset="0.4827" stop-color="#fffc06"/><stop offset="0.4848" stop-color="#fff507"/><stop offset="0.4868" stop-color="#ffe006"/><stop offset="0.4888" stop-color="#ffb904"/><stop offset="0.4929" stop-color="#f95100"/><stop offset="0.4949" stop-color="#ee2800"/><stop offset="0.4970" stop-color="#d90f00"/><stop offset="0.4990" stop-color="#c00400"/><stop offset="0.5030" stop-color="#970000"/><stop offset="0.5112" stop-color="#6b0000"/><stop offset="0.5213" stop-color="#480000"/><stop offset="0.5315" stop-color="#3a0000"/><stop offset="0.5722" stop-color="#1e0000"/><stop offset="0.6555" stop-color="#0a0000"/><stop offset="1.0000" stop-color="#0a0000"/></linearGradient>
<linearGradient id="gd0"><stop offset="0.0000" stop-color="#300000"/><stop offset="0.0195" stop-color="#320000"/><stop offset="0.0319" stop-color="#3e0000"/><stop offset="0.2130" stop-color="#440000"/><stop offset="0.2603" stop-color="#590000"/><stop offset="0.2644" stop-color="#630000"/><stop offset="0.2685" stop-color="#7c0100"/><stop offset="0.2706" stop-color="#940600"/><stop offset="0.2726" stop-color="#b71600"/><stop offset="0.2747" stop-color="#da3c02"/><stop offset="0.2767" stop-color="#f2770b"/><stop offset="0.2788" stop-color="#fcb41f"/><stop offset="0.2809" stop-color="#ffe040"/><stop offset="0.2829" stop-color="#fff669"/><stop offset="0.2850" stop-color="#fffd90"/><stop offset="0.2870" stop-color="#ffffb1"/><stop offset="0.2912" stop-color="#ffffde"/><stop offset="0.2953" stop-color="#fffff7"/><stop offset="0.3014" stop-color="#ffffff"/><stop offset="0.3241" stop-color="#fffffd"/><stop offset="0.3508" stop-color="#ffffc6"/><stop offset="0.3817" stop-color="#ffff69"/><stop offset="0.3858" stop-color="#ffff51"/><stop offset="0.3899" stop-color="#fffa26"/><stop offset="0.3920" stop-color="#ffed12"/><stop offset="0.3940" stop-color="#fed006"/><stop offset="0.3961" stop-color="#fb9d02"/><stop offset="0.3981" stop-color="#f15f00"/><stop offset="0.4002" stop-color="#de2b00"/><stop offset="0.4023" stop-color="#c30e00"/><stop offset="0.4043" stop-color="#a90300"/><stop offset="0.4064" stop-color="#940000"/><stop offset="0.4105" stop-color="#7b0000"/><stop offset="0.4187" stop-color="#700000"/><stop offset="0.4434" stop-color="#6a0000"/><stop offset="0.5772" stop-color="#790000"/><stop offset="0.7603" stop-color="#a50000"/><stop offset="1.0000" stop-color="#be0000"/></linearGradient>
<linearGradient id="gd1"><stop offset="0.0000" stop-color="#300000"/><stop offset="0.0195" stop-color="#320000"/><stop offset="0.0319" stop-color="#3e0000"/><stop offset="0.2130" stop-color="#440000"/><stop offset="0.2603" stop-color="#590000"/><stop offset="0.2644" stop-color="#630000"/><stop offset="0.2685" stop-color="#7b0100"/><stop offset="0.2706" stop-color="#920500"/><stop offset="0.2726" stop-color="#b41400"/><stop offset="0.2747" stop-color="#d83802"/><stop offset="0.2767" stop-color="#f1720a"/><stop offset="0.2788" stop-color="#fcb01e"/><stop offset="0.2809" stop-color="#fede3f"/><stop offset="0.2829" stop-color="#fff567"/><stop offset="0.2850" stop-color="#fffd8e"/><stop offset="0.2870" stop-color="#ffffb0"/><stop offset="0.2912" stop-color="#ffffdd"/><stop offset="0.2953" stop-color="#fffff7"/><stop offset="0.3014" stop-color="#ffffff"/><stop offset="0.3241" stop-color="#fffffd"/><stop offset="0.3508" stop-color="#ffffc6"/><stop offset="0.3817" stop-color="#ffff69"/><stop offset="0.3858" stop-color="#ffff51"/><stop offset="0.3899" stop-color="#fffa26"/><stop offset="0.3920" stop-color="#ffed12"/><stop offset="0.3940" stop-color="#fed006"/><stop offset="0.3961" stop-color="#fb9d02"/><stop offset="0.3981" stop-color="#f15f00"/><stop offset="0.4002" stop-color="#de2b00"/><stop offset="0.4023" stop-color="#c30e00"/><stop offset="0.4043" stop-color="#a90300"/><stop offset="0.4064" stop-color="#940000"/><stop offset="0.4105" stop-color="#7b0000"/><stop offset="0.4187" stop-color="#700000"/><stop offset="0.4434" stop-color="#6a0000"/><stop offset="0.5772" stop-color="#790000"/><stop offset="0.7603" stop-color="#a50000"/><stop offset="1.0000" stop-color="#be0000"/></linearGradient>
<linearGradient id="gd2"><stop offset="0.0000" stop-color="#300000"/><stop offset="0.0195" stop-color="#320000"/><stop offset="0.0319" stop-color="#3e0000"/><stop offset="0.2130" stop-color="#440000"/><stop offset="0.2603" stop-color="#590000"/><stop offset="0.2644" stop-color="#620000"/><stop offset="0.2685" stop-color="#790100"/><stop offset="0.2706" stop-color="#900400"/><stop offset="0.2726" stop-color="#b21200"/><stop offset="0.2747" stop-color="#d63502"/><stop offset="0.2767" stop-color="#f06d0a"/><stop offset="0.2788" stop-color="#fbac1d"/><stop offset="0.2809" stop-color="#fedb3d"/><stop offset="0.2829" stop-color="#fff465"/><stop offset="0.2850" stop-color="#fffd8c"/><stop offset="0.2870" stop-color="#ffffae"/><stop offset="0.2891" stop-color="#ffffc8"/><stop offset="0.2932" stop-color="#ffffec"/><stop offset="0.2973" stop-color="#fffffc"/><stop offset="0.3241" stop-color="#fffffd"/><stop offset="0.3508" stop-color="#ffffc6"/><stop offset="0.3817" stop-color="#ffff69"/><stop offset="0.3858" stop-color="#ffff51"/><stop offset="0.3899" stop-color="#fffa26"/><stop offset="0.3920" stop-color="#ffed12"/><stop offset="0.3940" stop-color="#fed006"/><stop offset="0.3961" stop-color="#fb9d02"/><stop offset="0.3981" stop-color="#f15f00"/><stop offset="0.4002" stop-color="#de2b00"/><stop offset="0.4023" stop-color="#c30e00"/><stop offset="0.4043" stop-color="#a90300"/><stop offset="0.4064" stop-color="#940000"/><stop offset="0.4105" stop-color="#7b0000"/><stop offset="0.4187" stop-color="#700000"/><stop offset="0.4434" stop-color="#6a0000"/><stop offset="0.5772" stop-color="#790000"/><stop offset="0.7603" stop-color="#a50000"/><stop offset="1.0000" stop-color="#be0000"/></linearGradient>
<linearGradient id="gd3"><stop offset="0.0000" stop-color="#300000"/><stop offset="0.0195" stop-color="#320000"/><stop offset="0.0319" stop-color="#3e0000"/><stop offset="0.2130" stop-color="#440000"/><stop offset="0.2603" stop-color="#590000"/><stop offset="0.2665" stop-color="#6a0000"/><stop offset="0.2685" stop-color="#780100"/><stop offset="0.2706" stop-color="#8e0400"/><stop offset="0.2726" stop-color="#af1100"/><stop offset="0.2747" stop-color="#d33202"/><stop offset="0.2767" stop-color="#ee6a09"/><stop offset="0.2788" stop-color="#faa81c"/><stop offset="0.2809" stop-color="#fed93b"/><stop offset="0.2829" stop-color="#fff362"/><stop offset="0.2850" stop-color="#fffc8a"/><stop offset="0.2870" stop-color="#ffffac"/><stop offset="0.2891" stop-color="#ffffc7"/><stop offset="0.2932" stop-color="#ffffeb"/><stop offset="0.2973" stop-color="#fffffc"/><stop offset="0.3241" stop-color="#fffffd"/><stop offset="0.3508" stop-color="#ffffc6"/><stop offset="0.3817" stop-color="#ffff69"/><stop offset="0.3858" stop-color="#ffff51"/><stop offset="0.3899" stop-color="#fffa26"/><stop offset="0.3920" stop-color="#ffed12"/><stop offset="0.3940" stop-color="#fed006"/><stop offset="0.3961" stop-color="#fb9d02"/><stop offset="0.3981" stop-color="#f15f00"/><stop offset="0.4002" stop-color="#de2b00"/><stop offset="0.4023" stop-color="#c30e00"/><stop offset="0.4043" stop-color="#a90300"/><stop offset="0.4064" stop-color="#940000"/><stop offset="0.4105" stop-color="#7b0000"/><stop offset="0.4187" stop-color="#700000"/><stop offset="0.4434" stop-color="#6a0000"/><stop offset="0.5772" stop-color="#790000"/><stop offset="0.7603" stop-color="#a50000"/><stop offset="1.0000" stop-color="#be0000"/></linearGradient>
<linearGradient id="gd4"><stop offset="0.0000" stop-color="#300000"/><stop offset="0.0195" stop-color="#320000"/><stop offset="0.0319" stop-color="#3e0000"/><stop offset="0.2130" stop-color="#440000"/><stop offset="0.2603" stop-color="#590000"/><stop offset="0.2665" stop-color="#690000"/><stop offset="0.2685" stop-color="#760100"/><stop offset="0.2706" stop-color="#8b0400"/><stop offset="0.2726" stop-color="#ab1000"/><stop offset="0.2747" stop-color="#d03002"/><stop offset="0.2767" stop-color="#ec6609"/><stop offset="0.2788" stop-color="#faa51a"/><stop offset="0.2809" stop-color="#fed739"/><stop offset="0.2829" stop-color="#fff260"/><stop offset="0.2850" stop-color="#fffc88"/><stop offset="0.2870" stop-color="#ffffaa"/><stop offset="0.2891" stop-color="#ffffc5"/><stop offset="0.2932" stop-color="#ffffea"/><stop offset="0.2973" stop-color="#fffffc"/><stop offset="0.3241" stop-color="#fffffd"/><stop offset="0.3508" stop-color="#ffffc6"/><stop offset="0.3817" stop-color="#ffff69"/><stop offset="0.3858" stop-color="#ffff51"/><stop offset="0.3899" stop-color="#fffa26"/><stop offset="0.3920" stop-color="#ffed12"/><stop offset="0.3940" stop-color="#fed006"/><stop offset="0.3961" stop-color="#fb9d02"/><stop offset="0.3981" stop-color="#f15f00"/><stop offset="0.4002" stop-color="#de2b00"/><stop offset="0.4023" stop-color="#c30e00"/><stop offset="0.4043" stop-color="#a90300"/><stop offset="0.4064" stop-color="#940000"/><stop offset="0.4105" stop-color="#7b0000"/><stop offset="0.4187" stop-color="#700000"/><stop offset="0.4434" stop-color="#6a0000"/><stop offset="0.5772" stop-color="#790000"/><stop offset="0.7603" stop-color="#a50000"/><stop offset="1.0000" stop-color="#be0000"/></linearGradient>
<linearGradient id="gd5"><stop offset="0.0000" stop-color="#300000"/><stop offset="0.0195" stop-color="#320000"/><stop offset="0.0319" stop-color="#3e0000"/><stop offset="0.2130" stop-color="#440000"/><stop offset="0.2603" stop-color="#590000"/><stop offset="0.2665" stop-color="#680000"/><stop offset="0.2685" stop-color="#750000"/><stop offset="0.2706" stop-color="#890300"/><stop offset="0.2726" stop-color="#a80f00"/><stop offset="0.2747" stop-color="#cd2e02"/><stop offset="0.2767" stop-color="#ea6308"/><stop offset="0.2788" stop-color="#f9a119"/><stop offset="0.2809" stop-color="#fed536"/><stop offset="0.2829" stop-color="#fff15d"/><stop offset="0.2850" stop-color="#fffc85"/><stop offset="0.2870" stop-color="#ffffa8"/><stop offset="0.2891" stop-color="#ffffc4"/><stop offset="0.2932" stop-color="#ffffe9"/><stop offset="0.2973" stop-color="#fffffc"/><stop offset="0.3220" stop-color="#fffffe"/><stop offset="0.3364" stop-color="#ffffe6"/><stop offset="0.3549" stop-color="#ffffbb"/><stop offset="0.3817" stop-color="#ffff69"/><stop offset="0.3858" stop-color="#ffff51"/><stop offset="0.3899" stop-color="#fffa26"/><stop offset="0.3920" stop-color="#ffed12"/><stop offset="0.3940" stop-color="#fed006"/><stop offset="0.3961" stop-color="#fb9d02"/><stop offset="0.3981" stop-color="#f15f00"/><stop offset="0.4002" stop-color="#de2b00"/><stop offset="0.4023" stop-color="#c30e00"/><stop offset="0.4043" stop-color="#a90300"/><stop offset="0.4064" stop-color="#940000"/><stop offset="0.4105" stop-color="#7b0000"/><stop offset="0.4187" stop-color="#700000"/><stop offset="0.4434" stop-color="#6a0000"/><stop offset="0.5772" stop-color="#790000"/><stop offset="0.7603" stop-color="#a50000"/><stop offset="1.0000" stop-color="#be0000"/></linearGradient>
<linearGradient id="gd6"><stop offset="0.0000" stop-color="#300000"/><stop offset="0.0195" stop-color="#320000"/><stop offset="0.0319" stop-color="#3e0000"/><stop offset="0.2130" stop-color="#440000"/><stop offset="0.2623" stop-color="#5b0000"/><stop offset="0.2665" stop-color="#680000"/><stop offset="0.2685" stop-color="#740000"/><stop offset="0.2706" stop-color="#880300"/><stop offset="0.2726" stop-color="#a60e00"/><stop offset="0.2747" stop-color="#ca2b02"/><stop offset="0.2767" stop-color="#e85f07"/><stop offset="0.2788" stop-color="#f89e16"/><stop offset="0.2809" stop-color="#fed232"/><stop offset="0.2829" stop-color="#fff059"/><stop offset="0.2850" stop-color="#fffc82"/><stop offset="0.2870" stop-color="#ffffa6"/><stop offset="0.2891" stop-color="#ffffc2"/><stop offset="0.2932" stop-color="#ffffe8"/><stop offset="0.2973" stop-color="#fffffb"/><stop offset="0.3179" stop-color="#ffffff"/><stop offset="0.3282" stop-color="#fffff7"/><stop offset="0.3529" stop-color="#ffffc1"/><stop offset="0.3817" stop-color="#ffff69"/><stop offset="0.3858" stop-color="#ffff51"/><stop offset="0.3899" stop-color="#fffa26"/><stop offset="0.3920" stop-color="#ffed12"/><stop offset="0.3940" stop-color="#fed006"/><stop offset="0.3961" stop-color="#fb9d02"/><stop offset="0.3981" stop-color="#f15f00"/><stop offset="0.4002" stop-color="#de2b00"/><stop offset="0.4023" stop-color="#c30e00"/><stop offset="0.4043" stop-color="#a90300"/><stop offset="0.4064" stop-color="#940000"/><stop offset="0.4105" stop-color="#7b0000"/><stop offset="0.4187" stop-color="#700000"/><stop offset="0.4434" stop-color="#6a0000"/><stop offset="0.5772" stop-color="#790000"/><stop offset="0.7603" stop-color="#a50000"/><stop offset="1.0000" stop-color="#be0000"/></linearGradient>
<linearGradient id="gd7"><stop offset="0.0000" stop-color="#300000"/><stop offset="0.0195" stop-color="#320000"/><stop offset="0.0319" stop-color="#3e0000"/><stop offset="0.2130" stop-color="#440000"/><stop offset="0.2623" stop-color="#5b0000"/><stop offset="0.2665" stop-color="#670000"/><stop offset="0.2685" stop-color="#730000"/><stop offset="0.2706" stop-color="#860300"/><stop offset="0.2726" stop-color="#a40d00"/><stop offset="0.2747" stop-color="#c82901"/><stop offset="0.2767" stop-color="#e75c06"/><stop offset="0.2788" stop-color="#f79b13"/><stop offset="0.2809" stop-color="#fdd02e"/><stop offset="0.2829" stop-color="#ffef55"/><stop offset="0.2850" stop-color="#fffc7e"/><stop offset="0.2870" stop-color="#fffea3"/><stop offset="0.2891" stop-color="#ffffc0"/><stop offset="0.2932" stop-color="#ffffe7"/><stop offset="0.2973" stop-color="#fffffb"/><stop offset="0.3117" stop-color="#ffffff"/><stop offset="0.3261" stop-color="#fffffa"/><stop offset="0.3529" stop-color="#ffffc1"/><stop offset="0.3817" stop-color="#ffff69"/><stop offset="0.3858" stop-color="#ffff51"/><stop offset="0.3899" stop-color="#fffa26"/><stop offset="0.3920" stop-color="#ffed12"/><stop offset="0.3940" stop-color="#fed006"/><stop offset="0.3961" stop-color="#fb9d02"/><stop offset="0.3981" stop-color="#f15f00"/><stop offset="0.4002" stop-color="#de2b00"/><stop offset="0.4023" stop-color="#c30e00"/><stop offset="0.4043" stop-color="#a90300"/><stop offset="0.4064" stop-color="#940000"/><stop offset="0.4105" stop-color="#7b0000"/><stop offset="0.4187" stop-color="#700000"/><stop offset="0.4434" stop-color="#6a0000"/><stop offset="0.5772" stop-color="#790000"/><stop offset="0.7603" stop-color="#a50000"/><stop offset="1.0000" stop-color="#be0000"/></linearGradient>
<linearGradient id="gd8"><stop offset="0.0000" stop-color="#300000"/><stop offset="0.0195" stop-color="#320000"/><stop offset="0.0319" stop-color="#3e0000"/><stop offset="0.2130" stop-color="#440000"/><stop offset="0.2623" stop-color="#5b0000"/><stop offset="0.2665" stop-color="#670000"/><stop offset="0.2685" stop-color="#730000"/><stop offset="0.2706" stop-color="#850300"/><stop offset="0.2726" stop-color="#a20c00"/><stop offset="0.2747" stop-color="#c62701"/><stop offset="0.2767" stop-color="#e55905"/><stop offset="0.2788" stop-color="#f79811"/><stop offset="0.2809" stop-color="#fdce2b"/><stop offset="0.2829" stop-color="#ffef51"/><stop offset="0.2850" stop-color="#fffb7b"/><stop offset="0.2870" stop-color="#fffea1"/><stop offset="0.2891" stop-color="#ffffbe"/><stop offset="0.2932" stop-color="#ffffe6"/><stop offset="0.2973" stop-color="#fffffa"/><stop offset="0.3097" stop-color="#ffffff"/><stop offset="0.3261" stop-color="#fffffa"/><stop offset="0.3529" stop-color="#ffffc1"/><stop offset="0.3817" stop-color="#ffff69"/><stop offset="0.3858" stop-color="#ffff51"/><stop offset="0.3899" stop-color="#fffa26"/><stop offset="0.3920" stop-color="#ffed12"/><stop offset="0.3940" stop-color="#fed006"/><stop offset="0.3961" stop-color="#fb9d02"/><stop offset="0.3981" stop-color="#f15f00"/><stop offset="0.4002" stop-color="#de2b00"/><stop offset="0.4023" stop-color="#c30e00"/><stop offset="0.4043" stop-color="#a90300"/><stop offset="0.4064" stop-color="#940000"/><stop offset="0.4105" stop-color="#7b0000"/><stop offset="0.4187" stop-color="#700000"/><stop offset="0.4434" stop-color="#6a0000"/><stop offset="0.5772" stop-color="#790000"/><stop offset="0.7603" stop-color="#a50000"/><stop offset="1.0000" stop-color="#be0000"/></linearGradient>
<linearGradient id="gd9"><stop offset="0.0000" stop-color="#300000"/><stop offset="0.0195" stop-color="#320000"/><stop offset="0.0319" stop-color="#3e0000"/><stop offset="0.2130" stop-color="#440000"/><stop offset="0.2623" stop-color="#5b0000"/><stop offset="0.2665" stop-color="#670000"/><stop offset="0.2685" stop-color="#720000"/><stop offset="0.2706" stop-color="#840300"/><stop offset="0.2726" stop-color="#a10c00"/><stop offset="0.2747" stop-color="#c42501"/><stop offset="0.2767" stop-color="#e45604"/><stop offset="0.2788" stop-color="#f6940f"/><stop offset="0.2809" stop-color="#fdcc27"/><stop offset="0.2829" stop-color="#ffee4d"/><stop offset="0.2850" stop-color="#fffb78"/><stop offset="0.2870" stop-color="#fffe9f"/><stop offset="0.2891" stop-color="#ffffbd"/><stop offset="0.2932" stop-color="#ffffe5"/><stop offset="0.2973" stop-color="#fffffa"/><stop offset="0.3076" stop-color="#ffffff"/><stop offset="0.3241" stop-color="#fffffd"/><stop offset="0.3508" stop-color="#ffffc6"/><stop offset="0.3817" stop-color="#ffff69"/><stop offset="0.3858" stop-color="#ffff51"/><stop offset="0.3899" stop-color="#fffa26"/><stop offset="0.3920" stop-color="#ffed12"/><stop offset="0.3940" stop-color="#fed006"/><stop offset="0.3961" stop-color="#fb9d02"/><stop offset="0.3981" stop-color="#f15f00"/><stop offset="0.4002" stop-color="#de2b00"/><stop offset="0.4023" stop-color="#c30e00"/><stop offset="0.4043" stop-color="#a90300"/><stop offset="0.4064" stop-color="#940000"/><stop offset="0.4105" stop-color="#7b0000"/><stop offset="0.4187" stop-color="#700000"/><stop offset="0.4434" stop-color="#6a0000"/><stop offset="0.5772" stop-color="#790000"/><stop offset="0.7603" stop-color="#a50000"/><stop offset="1.0000" stop-color="#be0000"/></linearGradient>
<linearGradient id="gd10"><stop offset="0.0000" stop-color="#300000"/><stop offset="0.0195" stop-color="#320000"/><stop offset="0.0319" stop-color="#3e0000"/><stop offset="0.2130" stop-color="#440000"/><stop offset="0.2623" stop-color="#5b0000"/><stop offset="0.2665" stop-color="#660000"/><stop offset="0.2685" stop-color="#710000"/><stop offset="0.2706" stop-color="#830200"/><stop offset="0.2726" stop-color="#9f0b00"/><stop offset="0.2747" stop-color="#c22300"/><stop offset="0.2767" stop-color="#e25203"/><stop offset="0.2788" stop-color="#f5910d"/><stop offset="0.2809" stop-color="#fdc924"/><stop offset="0.2829" stop-color="#ffec4a"/><stop offset="0.2850" stop-color="#fffb75"/><stop offset="0.2870" stop-color="#fffe9c"/><stop offset="0.2891" stop-color="#ffffbb"/><stop offset="0.2932" stop-color="#ffffe4"/><stop offset="0.2973" stop-color="#fffffa"/><stop offset="0.3076" stop-color="#ffffff"/><stop offset="0.3241" stop-color="#fffffd"/><stop offset="0.3508" stop-color="#ffffc6"/><stop offset="0.3817" stop-color="#ffff69"/><stop offset="0.3858" stop-color="#ffff51"/><stop offset="0.3899" stop-color="#fffa26"/><stop offset="0.3920" stop-color="#ffed12"/><stop offset="0.3940" stop-color="#fed006"/><stop offset="0.3961" stop-color="#fb9d02"/><stop offset="0.3981" stop-color="#f15f00"/><stop offset="0.4002" stop-color="#de2b00"/><stop offset="0.4023" stop-color="#c30e00"/><stop offset="0.4043" stop-color="#a90300"/><stop offset="0.4064" stop-color="#940000"/><stop offset="0.4105" stop-color="#7b0000"/><stop offset="0.4187" stop-color="#700000"/><stop offset="0.4434" stop-color="#6a0000"/><stop offset="0.5772" stop-color="#790000"/><stop offset="0.7603" stop-color="#a50000"/><stop offset="1.0000" stop-color="#be0000"/></linearGradient>
<linearGradient id="gd11"><stop offset="0.0000" stop-color="#300000"/><stop offset="0.0195" stop-color="#320000"/><stop offset="0.0319" stop-color="#3e0000"/><stop offset="0.2130" stop-color="#440000"/><stop offset="0.2623" stop-color="#5b0000"/><stop offset="0.2665" stop-color="#660000"/><stop offset="0.2685" stop-color="#700000"/><stop offset="0.2706" stop-color="#810200"/><stop offset="0.2726" stop-color="#9d0a00"/><stop offset="0.2747" stop-color="#c02100"/><stop offset="0.2767" stop-color="#e04e03"/><stop offset="0.2788" stop-color="#f58c0c"/><stop offset="0.2809" stop-color="#fdc523"/><stop offset="0.2829" stop-color="#ffea48"/><stop offset="0.2850" stop-color="#fffa73"/><stop offset="0.2870" stop-color="#fffe9a"/><stop offset="0.2891" stop-color="#ffffb9"/><stop offset="0.2932" stop-color="#ffffe3"/><stop offset="0.2973" stop-color="#fffff9"/><stop offset="0.3056" stop-color="#ffffff"/><stop offset="0.3241" stop-color="#fffffd"/><stop offset="0.3508" stop-color="#ffffc6"/><stop offset="0.3817" stop-color="#ffff69"/><stop offset="0.3858" stop-color="#ffff51"/><stop offset="0.3899" stop-color="#fffa26"/><stop offset="0.3920" stop-color="#ffed12"/><stop offset="0.3940" stop-color="#fed006"/><stop offset="0.3961" stop-color="#fb9d02"/><stop offset="0.3981" stop-color="#f15f00"/><stop offset="0.4002" stop-color="#de2b00"/><stop offset="0.4023" stop-color="#c30e00"/><stop offset="0.4043" stop-color="#a90300"/><stop offset="0.4064" stop-color="#940000"/><stop offset="0.4105" stop-color="#7b0000"/><stop offset="0.4187" stop-color="#700000"/><stop offset="0.4434" stop-color="#6a0000"/><stop offset="0.5772" stop-color="#790000"/><stop offset="0.7603" stop-color="#a50000"/><stop offset="1.0000" stop-color="#be0000"/></linearGradient>
<linearGradient id="gd12"><stop offset="0.0000" stop-color="#300000"/><stop offset="0.0195" stop-color="#320000"/><stop offset="0.0319" stop-color="#3e0000"/><stop offset="0.2130" stop-color="#440000"/><stop offset="0.2623" stop-color="#5b0000"/><stop offset="0.2665" stop-color="#650000"/><stop offset="0.2685" stop-color="#6f0000"/><stop offset="0.2706" stop-color="#800200"/><stop offset="0.2726" stop-color="#9b0900"/><stop offset="0.2747" stop-color="#be1e00"/><stop offset="0.2767" stop-color="#df4a03"/><stop offset="0.2788" stop-color="#f4870c"/><stop offset="0.2809" stop-color="#fcc122"/><stop offset="0.2829" stop-color="#ffe846"/><stop offset="0.2850" stop-color="#fff971"/><stop offset="0.2870" stop-color="#fffe98"/><stop offset="0.2891" stop-color="#ffffb7"/><stop offset="0.2932" stop-color="#ffffe2"/><stop offset="0.2973" stop-color="#fffff9"/><stop offset="0.3056" stop-color="#ffffff"/><stop offset="0.3241" stop-color="#fffffd"/><stop offset="0.3508" stop-color="#ffffc6"/><stop offset="0.3817" stop-color="#ffff69"/><stop offset="0.3858" stop-color="#ffff51"/><stop offset="0.3899" stop-color="#fffa26"/><stop offset="0.3920" stop-color="#ffed12"/><stop offset="0.3940" stop-color="#fed006"/><stop offset="0.3961" stop-color="#fb9d02"/><stop offset="0.3981" stop-color="#f15f00"/><stop offset="0.4002" stop-color="#de2b00"/><stop offset="0.4023" stop-color="#c30e00"/><stop offset="0.4043" stop-color="#a90300"/><stop offset="0.4064" stop-color="#940000"/><stop offset="0.4105" stop-color="#7b0000"/><stop offset="0.4187" stop-color="#700000"/><stop offset="0.4434" stop-color="#6a0000"/><stop offset="0.5772" stop-color="#790000"/><stop offset="0.7603" stop-color="#a50000"/><stop offset="1.0000" stop-color="#be0000"/></linearGradient>
<linearGradient id="gd13"><stop offset="0.0000" stop-color="#300000"/><stop offset="0.0195" stop-color="#320000"/><stop offset="0.0319" stop-color="#3e0000"/><stop offset="0.2130" stop-color="#440000"/><stop offset="0.2623" stop-color="#5b0000"/><stop offset="0.2665" stop-color="#650000"/><stop offset="0.2685" stop-color="#6f0000"/><stop offset="0.2706" stop-color="#7f0200"/><stop offset="0.2726" stop-color="#990800"/><stop offset="0.2747" stop-color="#bc1c00"/><stop offset="0.2767" stop-color="#dd4603"/><stop offset="0.2788" stop-color="#f3820b"/><stop offset="0.2809" stop-color="#fcbd21"/><stop offset="0.2829" stop-color="#ffe544"/><stop offset="0.2850" stop-color="#fff86e"/><stop offset="0.2870" stop-color="#fffe95"/><stop offset="0.2891" stop-color="#ffffb5"/><stop offset="0.2932" stop-color="#ffffe1"/><stop offset="0.2973" stop-color="#fffff8"/><stop offset="0.3056" stop-color="#ffffff"/><stop offset="0.3241" stop-color="#fffffd"/><stop offset="0.3508" stop-color="#ffffc6"/><stop offset="0.3817" stop-color="#ffff69"/><stop offset="0.3858" stop-color="#ffff51"/><stop offset="0.3899" stop-color="#fffa26"/><stop offset="0.3920" stop-color="#ffed12"/><stop offset="0.3940" stop-color="#fed006"/><stop offset="0.3961" stop-color="#fb9d02"/><stop offset="0.3981" stop-color="#f15f00"/><stop offset="0.4002" stop-color="#de2b00"/><stop offset="0.4023" stop-color="#c30e00"/><stop offset="0.4043" stop-color="#a90300"/><stop offset="0.4064" stop-color="#940000"/><stop offset="0.4105" stop-color="#7b0000"/><stop offset="0.4187" stop-color="#700000"/><stop offset="0.4434" stop-color="#6a0000"/><stop offset="0.5772" stop-color="#790000"/><stop offset="0.7603" stop-color="#a50000"/><stop offset="1.0000" stop-color="#be0000"/></linearGradient>
<linearGradient id="gd14"><stop offset="0.0000" stop-color="#300000"/><stop offset="0.0195" stop-color="#320000"/><stop offset="0.0319" stop-color="#3e0000"/><stop offset="0.2130" stop-color="#440000"/><stop offset="0.2623" stop-color="#5a0000"/><stop offset="0.2665" stop-color="#640000"/><stop offset="0.2706" stop-color="#7d0100"/><stop offset="0.2726" stop-color="#970700"/><stop offset="0.2747" stop-color="#b91900"/><stop offset="0.2767" stop-color="#dc4103"/><stop offset="0.2788" stop-color="#f27d0b"/><stop offset="0.2809" stop-color="#fcb920"/><stop offset="0.2829" stop-color="#ffe343"/><stop offset="0.2850" stop-color="#fff76c"/><stop offset="0.2870" stop-color="#fffd93"/><stop offset="0.2891" stop-color="#ffffb4"/><stop offset="0.2932" stop-color="#ffffe0"/><stop offset="0.2973" stop-color="#fffff8"/><stop offset="0.3035" stop-color="#ffffff"/><stop offset="0.3241" stop-color="#fffffd"/><stop offset="0.3508" stop-color="#ffffc6"/><stop offset="0.3817" stop-color="#ffff69"/><stop offset="0.3858" stop-color="#ffff51"/><stop offset="0.3899" stop-color="#fffa26"/><stop offset="0.3920" stop-color="#ffed12"/><stop offset="0.3940" stop-color="#fed006"/><stop offset="0.3961" stop-color="#fb9d02"/><stop offset="0.3981" stop-color="#f15f00"/><stop offset="0.4002" stop-color="#de2b00"/><stop offset="0.4023" stop-color="#c30e00"/><stop offset="0.4043" stop-color="#a90300"/><stop offset="0.4064" stop-color="#940000"/><stop offset="0.4105" stop-color="#7b0000"/><stop offset="0.4187" stop-color="#700000"/><stop offset="0.4434" stop-color="#6a0000"/><stop offset="0.5772" stop-color="#790000"/><stop offset="0.7603" stop-color="#a50000"/><stop offset="1.0000" stop-color="#be0000"/></linearGradient>
<linearGradient id="gd15"><stop offset="0.0000" stop-color="#300000"/><stop offset="0.0195" stop-color="#320000"/><stop offset="0.0319" stop-color="#3e0000"/><stop offset="0.2130" stop-color="#440000"/><stop offset="0.2623" stop-color="#5a0000"/><stop offset="0.2665" stop-color="#640000"/><stop offset="0.2706" stop-color="#7c0100"/><stop offset="0.2726" stop-color="#950600"/><stop offset="0.2747" stop-color="#b71700"/><stop offset="0.2767" stop-color="#da3d02"/><stop offset="0.2788" stop-color="#f2780b"/><stop offset="0.2809" stop-color="#fcb51f"/><stop offset="0.2829" stop-color="#ffe141"/><stop offset="0.2850" stop-color="#fff66a"/><stop offset="0.2870" stop-color="#fffd91"/><stop offset="0.2891" stop-color="#ffffb2"/><stop offset="0.2932" stop-color="#ffffdf"/><stop offset="0.2973" stop-color="#fffff7"/><stop offset="0.3035" stop-color="#ffffff"/><stop offset="0.3241" stop-color="#fffffd"/><stop offset="0.3508" stop-color="#ffffc6"/><stop offset="0.3817" stop-color="#ffff69"/><stop offset="0.3858" stop-color="#ffff51"/><stop offset="0.3899" stop-color="#fffa26"/><stop offset="0.3920" stop-color="#ffed12"/><stop offset="0.3940" stop-color="#fed006"/><stop offset="0.3961" stop-color="#fb9d02"/><stop offset="0.3981" stop-color="#f15f00"/><stop offset="0.4002" stop-color="#de2b00"/><stop offset="0.4023" stop-color="#c30e00"/><stop offset="0.4043" stop-color="#a90300"/><stop offset="0.4064" stop-color="#940000"/><stop offset="0.4105" stop-color="#7b0000"/><stop offset="0.4187" stop-color="#700000"/><stop offset="0.4434" stop-color="#6a0000"/><stop offset="0.5772" stop-color="#790000"/><stop offset="0.7603" stop-color="#a50000"/><stop offset="1.0000" stop-color="#be0000"/></linearGradient>
<linearGradient id="gd16"><stop offset="0.0000" stop-color="#300000"/><stop offset="0.0195" stop-color="#320000"/><stop offset="0.0319" stop-color="#3e0000"/><stop offset="0.2130" stop-color="#440000"/><stop offset="0.2623" stop-color="#5a0000"/><stop offset="0.2665" stop-color="#630000"/><stop offset="0.2706" stop-color="#7b0100"/><stop offset="0.2726" stop-color="#930500"/><stop offset="0.2747" stop-color="#b51500"/><stop offset="0.2767" stop-color="#d83902"/><stop offset="0.2788" stop-color="#f1730a"/><stop offset="0.2809" stop-color="#fcb11e"/><stop offset="0.2829" stop-color="#fede3f"/><stop offset="0.2850" stop-color="#fff567"/><stop offset="0.2870" stop-color="#fffd8f"/><stop offset="0.2891" stop-color="#ffffb0"/><stop offset="0.2932" stop-color="#ffffdd"/><stop offset="0.2973" stop-color="#fffff7"/><stop offset="0.3035" stop-color="#ffffff"/><stop offset="0.3241" stop-color="#fffffd"/><stop offset="0.3508" stop-color="#ffffc6"/><stop offset="0.3817" stop-color="#ffff69"/><stop offset="0.3858" stop-color="#ffff51"/><stop offset="0.3899" stop-color="#fffa26"/><stop offset="0.3920" stop-color="#ffed12"/><stop offset="0.3940" stop-color="#fed006"/><stop offset="0.3961" stop-color="#fb9d02"/><stop offset="0.3981" stop-color="#f15f00"/><stop offset="0.4002" stop-color="#de2b00"/><stop offset="0.4023" stop-color="#c30e00"/><stop offset="0.4043" stop-color="#a90300"/><stop offset="0.4064" stop-color="#940000"/><stop offset="0.4105" stop-color="#7b0000"/><stop offset="0.4187" stop-color="#700000"/><stop offset="0.4434" stop-color="#6a0000"/><stop offset="0.5772" stop-color="#790000"/><stop offset="0.7603" stop-color="#a50000"/><stop offset="1.0000" stop-color="#be0000"/></linearGradient>
<linearGradient id="gd17"><stop offset="0.0000" stop-color="#300000"/><stop offset="0.0195" stop-color="#320000"/><stop offset="0.0319" stop-color="#3e0000"/><stop offset="0.2130" stop-color="#440000"/><stop offset="0.2623" stop-color="#5a0000"/><stop offset="0.2665" stop-color="#630000"/><stop offset="0.2706" stop-color="#7a0100"/><stop offset="0.2726" stop-color="#910400"/><stop offset="0.2747" stop-color="#b31200"/><stop offset="0.2767" stop-color="#d73502"/><stop offset="0.2788" stop-color="#f06e0a"/><stop offset="0.2809" stop-color="#fbad1d"/><stop offset="0.2829" stop-color="#fedc3d"/><stop offset="0.2850" stop-color="#fff465"/><stop offset="0.2870" stop-color="#fffd8d"/><stop offset="0.2891" stop-color="#ffffae"/><stop offset="0.2912" stop-color="#ffffc8"/><stop offset="0.2953" stop-color="#ffffec"/><stop offset="0.2994" stop-color="#fffffc"/><stop offset="0.3241" stop-color="#fffffd"/><stop offset="0.3508" stop-color="#ffffc6"/><stop offset="0.3817" stop-color="#ffff69"/><stop offset="0.3858" stop-color="#ffff51"/><stop offset="0.3899" stop-color="#fffa26"/><stop offset="0.3920" stop-color="#ffed12"/><stop offset="0.3940" stop-color="#fed006"/><stop offset="0.3961" stop-color="#fb9d02"/><stop offset="0.3981" stop-color="#f15f00"/><stop offset="0.4002" stop-color="#de2b00"/><stop offset="0.4023" stop-color="#c30e00"/><stop offset="0.4043" stop-color="#a90300"/><stop offset="0.4064" stop-color="#940000"/><stop offset="0.4105" stop-color="#7b0000"/><stop offset="0.4187" stop-color="#700000"/><stop offset="0.4434" stop-color="#6a0000"/><stop offset="0.5772" stop-color="#790000"/><stop offset="0.7603" stop-color="#a50000"/><stop offset="1.0000" stop-color="#be0000"/></linearGradient>
<linearGradient id="gd18"><stop offset="0.0000" stop-color="#300000"/><stop offset="0.0195" stop-color="#320000"/><stop offset="0.0319" stop-color="#3e0000"/><stop offset="0.2130" stop-color="#440000"/><stop offset="0.2623" stop-color="#5a0000"/><stop offset="0.2665" stop-color="#620000"/><stop offset="0.2706" stop-color="#780100"/><stop offset="0.2726" stop-color="#8e0400"/><stop offset="0.2747" stop-color="#af1100"/><stop offset="0.2767" stop-color="#d43202"/><stop offset="0.2788" stop-color="#ee6a09"/><stop offset="0.2809" stop-color="#fba91c"/><stop offset="0.2829" stop-color="#feda3b"/><stop offset="0.2850" stop-color="#fff363"/><stop offset="0.2870" stop-color="#fffc8a"/><stop offset="0.2891" stop-color="#ffffac"/><stop offset="0.2912" stop-color="#ffffc7"/><stop offset="0.2953" stop-color="#ffffeb"/><stop offset="0.2994" stop-color="#fffffc"/><stop offset="0.3241" stop-color="#fffffd"/><stop offset="0.3508" stop-color="#ffffc6"/><stop offset="0.3817" stop-color="#ffff69"/><stop offset="0.3858" stop-color="#ffff51"/><stop offset="0.3899" stop-color="#fffa26"/><stop offset="0.3920" stop-color="#ffed12"/><stop offset="0.3940" stop-color="#fed006"/><stop offset="0.3961" stop-color="#fb9d02"/><stop offset="0.3981" stop-color="#f15f00"/><stop offset="0.4002" stop-color="#de2b00"/><stop offset="0.4023" stop-color="#c30e00"/><stop offset="0.4043" stop-color="#a90300"/><stop offset="0.4064" stop-color="#940000"/><stop offset="0.4105" stop-color="#7b0000"/><stop offset="0.4187" stop-color="#700000"/><stop offset="0.4434" stop-color="#6a0000"/><stop offset="0.5772" stop-color="#790000"/><stop offset="0.7603" stop-color="#a50000"/><stop offset="1.0000" stop-color="#be0000"/></linearGradient>
<linearGradient id="gd19"><stop offset="0.0000" stop-color="#300000"/><stop offset="0.0195" stop-color="#320000"/><stop offset="0.0319" stop-color="#3e0000"/><stop offset="0.2130" stop-color="#440000"/><stop offset="0.2623" stop-color="#5a0000"/><stop offset="0.2685" stop-color="#6a0000"/><stop offset="0.2706" stop-color="#770100"/><stop offset="0.2726" stop-color="#8c0400"/><stop offset="0.2747" stop-color="#ac1000"/><stop offset="0.2767" stop-color="#d03002"/><stop offset="0.2788" stop-color="#ec6709"/><stop offset="0.2809" stop-color="#faa61b"/><stop offset="0.2829" stop-color="#fed739"/><stop offset="0.2850" stop-color="#fff260"/><stop offset="0.2870" stop-color="#fffc88"/><stop offset="0.2891" stop-color="#ffffab"/><stop offset="0.2912" stop-color="#ffffc5"/><stop offset="0.2953" stop-color="#ffffea"/><stop offset="0.2994" stop-color="#fffffc"/><stop offset="0.3241" stop-color="#fffffd"/><stop offset="0.3508" stop-color="#ffffc6"/><stop offset="0.3817" stop-color="#ffff69"/><stop offset="0.3858" stop-color="#ffff51"/><stop offset="0.3899" stop-color="#fffa26"/><stop offset="0.3920" stop-color="#ffed12"/><stop offset="0.3940" stop-color="#fed006"/><stop offset="0.3961" stop-color="#fb9d02"/><stop offset="0.3981" stop-color="#f15f00"/><stop offset="0.4002" stop-color="#de2b00"/><stop offset="0.4023" stop-color="#c30e00"/><stop offset="0.4043" stop-color="#a90300"/><stop offset="0.4064" stop-color="#940000"/><stop offset="0.4105" stop-color="#7b0000"/><stop offset="0.4187" stop-color="#700000"/><stop offset="0.4434" stop-color="#6a0000"/><stop offset="0.5772" stop-color="#790000"/><stop offset="0.7603" stop-color="#a50000"/><stop offset="1.0000" stop-color="#be0000"/></linearGradient>
<linearGradient id="gd20"><stop offset="0.0000" stop-color="#300000"/><stop offset="0.0195" stop-color="#320000"/><stop offset="0.0319" stop-color="#3e0000"/><stop offset="0.2130" stop-color="#440000"/><stop offset="0.2623" stop-color="#5a0000"/><stop offset="0.2685" stop-color="#690000"/><stop offset="0.2706" stop-color="#750100"/><stop offset="0.2726" stop-color="#890300"/><stop offset="0.2747" stop-color="#a90f00"/><stop offset="0.2767" stop-color="#cd2e02"/><stop offset="0.2788" stop-color="#ea6308"/><stop offset="0.2809" stop-color="#f9a219"/><stop offset="0.2829" stop-color="#fed537"/><stop offset="0.2850" stop-color="#fff15d"/><stop offset="0.2870" stop-color="#fffc85"/><stop offset="0.2891" stop-color="#ffffa8"/><stop offset="0.2912" stop-color="#ffffc4"/><stop offset="0.2953" stop-color="#ffffe9"/><stop offset="0.2994" stop-color="#fffffc"/><stop offset="0.3220" stop-color="#fffffe"/><stop offset="0.3364" stop-color="#ffffe6"/><stop offset="0.3549" stop-color="#ffffbb"/><stop offset="0.3817" stop-color="#ffff69"/><stop offset="0.3858" stop-color="#ffff51"/><stop offset="0.3899" stop-color="#fffa26"/><stop offset="0.3920" stop-color="#ffed12"/><stop offset="0.3940" stop-color="#fed006"/><stop offset="0.3961" stop-color="#fb9d02"/><stop offset="0.3981" stop-color="#f15f00"/><stop offset="0.4002" stop-color="#de2b00"/><stop offset="0.4023" stop-color="#c30e00"/><stop offset="0.4043" stop-color="#a90300"/><stop offset="0.4064" stop-color="#940000"/><stop offset="0.4105" stop-color="#7b0000"/><stop offset="0.4187" stop-color="#700000"/><stop offset="0.4434" stop-color="#6a0000"/><stop offset="0.5772" stop-color="#790000"/><stop offset="0.7603" stop-color="#a50000"/><stop offset="1.0000" stop-color="#be0000"/></linearGradient>
<linearGradient id="gd21"><stop offset="0.0000" stop-color="#300000"/><stop offset="0.0195" stop-color="#320000"/><stop offset="0.0319" stop-color="#3e0000"/><stop offset="0.2130" stop-color="#440000"/><stop offset="0.2644" stop-color="#5c0000"/><stop offset="0.2685" stop-color="#680000"/><stop offset="0.2706" stop-color="#740000"/><stop offset="0.2726" stop-color="#880300"/><stop offset="0.2747" stop-color="#a60e00"/><stop offset="0.2767" stop-color="#cb2c02"/><stop offset="0.2788" stop-color="#e86007"/><stop offset="0.2809" stop-color="#f89f16"/><stop offset="0.2829" stop-color="#fed333"/><stop offset="0.2850" stop-color="#fff159"/><stop offset="0.2870" stop-color="#fffc82"/><stop offset="0.2891" stop-color="#ffffa6"/><stop offset="0.2912" stop-color="#ffffc2"/><stop offset="0.2953" stop-color="#ffffe8"/><stop offset="0.2994" stop-color="#fffffb"/><stop offset="0.3200" stop-color="#ffffff"/><stop offset="0.3302" stop-color="#fffff3"/><stop offset="0.3529" stop-color="#ffffc1"/><stop offset="0.3817" stop-color="#ffff69"/><stop offset="0.3858" stop-color="#ffff51"/><stop offset="0.3899" stop-color="#fffa26"/><stop offset="0.3920" stop-color="#ffed12"/><stop offset="0.3940" stop-color="#fed006"/><stop offset="0.3961" stop-color="#fb9d02"/><stop offset="0.3981" stop-color="#f15f00"/><stop offset="0.4002" stop-color="#de2b00"/><stop offset="0.4023" stop-color="#c30e00"/><stop offset="0.4043" stop-color="#a90300"/><stop offset="0.4064" stop-color="#940000"/><stop offset="0.4105" stop-color="#7b0000"/><stop offset="0.4187" stop-color="#700000"/><stop offset="0.4434" stop-color="#6a0000"/><stop offset="0.5772" stop-color="#790000"/><stop offset="0.7603" stop-color="#a50000"/><stop offset="1.0000" stop-color="#be0000"/></linearGradient>
<linearGradient id="gd22"><stop offset="0.0000" stop-color="#300000"/><stop offset="0.0195" stop-color="#320000"/><stop offset="0.0319" stop-color="#3e0000"/><stop offset="0.2130" stop-color="#440000"/><stop offset="0.2644" stop-color="#5c0000"/><stop offset="0.2685" stop-color="#680000"/><stop offset="0.2706" stop-color="#740000"/><stop offset="0.2726" stop-color="#870300"/><stop offset="0.2747" stop-color="#a40d00"/><stop offset="0.2767" stop-color="#c92a01"/><stop offset="0.2788" stop-color="#e75c06"/><stop offset="0.2809" stop-color="#f79b14"/><stop offset="0.2829" stop-color="#fdd12f"/><stop offset="0.2850" stop-color="#fff055"/><stop offset="0.2870" stop-color="#fffc7f"/><stop offset="0.2891" stop-color="#fffea3"/><stop offset="0.2912" stop-color="#ffffc0"/><stop offset="0.2953" stop-color="#ffffe7"/><stop offset="0.2994" stop-color="#fffffb"/><stop offset="0.3158" stop-color="#ffffff"/><stop offset="0.3261" stop-color="#fffffa"/><stop offset="0.3529" stop-color="#ffffc1"/><stop offset="0.3817" stop-color="#ffff69"/><stop offset="0.3858" stop-color="#ffff51"/><stop offset="0.3899" stop-color="#fffa26"/><stop offset="0.3920" stop-color="#ffed12"/><stop offset="0.3940" stop-color="#fed006"/><stop offset="0.3961" stop-color="#fb9d02"/><stop offset="0.3981" stop-color="#f15f00"/><stop offset="0.4002" stop-color="#de2b00"/><stop offset="0.4023" stop-color="#c30e00"/><stop offset="0.4043" stop-color="#a90300"/><stop offset="0.4064" stop-color="#940000"/><stop offset="0.4105" stop-color="#7b0000"/><stop offset="0.4187" stop-color="#700000"/><stop offset="0.4434" stop-color="#6a0000"/><stop offset="0.5772" stop-color="#790000"/><stop offset="0.7603" stop-color="#a50000"/><stop offset="1.0000" stop-color="#be0000"/></linearGradient>
<linearGradient id="gd23"><stop offset="0.0000" stop-color="#300000"/><stop offset="0.0195" stop-color="#320000"/><stop offset="0.0319" stop-color="#3e0000"/><stop offset="0.2130" stop-color="#440000"/><stop offset="0.2644" stop-color="#5c0000"/><stop offset="0.2685" stop-color="#670000"/><stop offset="0.2706" stop-color="#730000"/><stop offset="0.2726" stop-color="#850300"/><stop offset="0.2747" stop-color="#a20d00"/><stop offset="0.2767" stop-color="#c62701"/><stop offset="0.2788" stop-color="#e55905"/><stop offset="0.2809" stop-color="#f79811"/><stop offset="0.2829" stop-color="#fdce2b"/><stop offset="0.2850" stop-color="#ffef51"/><stop offset="0.2870" stop-color="#fffb7b"/><stop offset="0.2891" stop-color="#fffea1"/><stop offset="0.2912" stop-color="#ffffbe"/><stop offset="0.2953" stop-color="#ffffe6"/><stop offset="0.2994" stop-color="#fffffa"/><stop offset="0.3117" stop-color="#ffffff"/><stop offset="0.3261" stop-color="#fffffa"/><stop offset="0.3529" stop-color="#ffffc1"/><stop offset="0.3817" stop-color="#ffff69"/><stop offset="0.3858" stop-color="#ffff51"/><stop offset="0.3899" stop-color="#fffa26"/><stop offset="0.3920" stop-color="#ffed12"/><stop offset="0.3940" stop-color="#fed006"/><stop offset="0.3961" stop-color="#fb9d02"/><stop offset="0.3981" stop-color="#f15f00"/><stop offset="0.4002" stop-color="#de2b00"/><stop offset="0.4023" stop-color="#c30e00"/><stop offset="0.4043" stop-color="#a90300"/><stop offset="0.4064" stop-color="#940000"/><stop offset="0.4105" stop-color="#7b0000"/><stop offset="0.4187" stop-color="#700000"/><stop offset="0.4434" stop-color="#6a0000"/><stop offset="0.5772" stop-color="#790000"/><stop offset="0.7603" stop-color="#a50000"/><stop offset="1.0000" stop-color="#be0000"/></linearGradient>
<linearGradient id="gd24"><stop offset="0.0000" stop-color="#300000"/><stop offset="0.0195" stop-color="#320000"/><stop offset="0.0319" stop-color="#3e0000"/><stop offset="0.2130" stop-color="#440000"/><stop offset="0.2644" stop-color="#5c0000"/><stop offset="0.2685" stop-color="#670000"/><stop offset="0.2706" stop-color="#720000"/><stop offset="0.2726" stop-color="#840300"/><stop offset="0.2747" stop-color="#a00c00"/><stop offset="0.2767" stop-color="#c42501"/><stop offset="0.2788" stop-color="#e45604"/><stop offset="0.2809" stop-color="#f6940f"/><stop offset="0.2829" stop-color="#fdcc27"/><stop offset="0.2850" stop-color="#ffee4d"/><stop offset="0.2870" stop-color="#fffb78"/><stop offset="0.2891" stop-color="#fffe9e"/><stop offset="0.2912" stop-color="#ffffbd"/><stop offset="0.2953" stop-color="#ffffe5"/><stop offset="0.2994" stop-color="#fffffa"/><stop offset="0.3097" stop-color="#ffffff"/><stop offset="0.3261" stop-color="#fffffa"/><stop offset="0.3529" stop-color="#ffffc1"/><stop offset="0.3817" stop-color="#ffff69"/><stop offset="0.3858" stop-color="#ffff51"/><stop offset="0.3899" stop-color="#fffa26"/><stop offset="0.3920" stop-color="#ffed12"/><stop offset="0.3940" stop-color="#fed006"/><stop offset="0.3961" stop-color="#fb9d02"/><stop offset="0.3981" stop-color="#f15f00"/><stop offset="0.4002" stop-color="#de2b00"/><stop offset="0.4023" stop-color="#c30e00"/><stop offset="0.4043" stop-color="#a90300"/><stop offset="0.4064" stop-color="#940000"/><stop offset="0.4105" stop-color="#7b0000"/><stop offset="0.4187" stop-color="#700000"/><stop offset="0.4434" stop-color="#6a0000"/><stop offset="0.5772" stop-color="#790000"/><stop offset="0.7603" stop-color="#a50000"/><stop offset="1.0000" stop-color="#be0000"/></linearGradient>
<linearGradient id="gd25"><stop offset="0.0000" stop-color="#300000"/><stop offset="0.0195" stop-color="#320000"/><stop offset="0.0319" stop-color="#3e0000"/><stop offset="0.2130" stop-color="#440000"/><stop offset="0.2644" stop-color="#5c0000"/><stop offset="0.2685" stop-color="#670000"/><stop offset="0.2706" stop-color="#710000"/><stop offset="0.2726" stop-color="#830200"/><stop offset="0.2747" stop-color="#9f0b00"/><stop offset="0.2767" stop-color="#c22300"/><stop offset="0.2788" stop-color="#e25203"/><stop offset="0.2809" stop-color="#f5910d"/><stop offset="0.2829" stop-color="#fdca24"/><stop offset="0.2850" stop-color="#ffed4a"/><stop offset="0.2870" stop-color="#fffb75"/><stop offset="0.2891" stop-color="#fffe9c"/><stop offset="0.2912" stop-color="#ffffbb"/><stop offset="0.2953" stop-color="#ffffe4"/><stop offset="0.2994" stop-color="#fffffa"/><stop offset="0.3097" stop-color="#ffffff"/><stop offset="0.3261" stop-color="#fffffa"/><stop offset="0.3529" stop-color="#ffffc1"/><stop offset="0.3817" stop-color="#ffff69"/><stop offset="0.3858" stop-color="#ffff51"/><stop offset="0.3899" stop-color="#fffa26"/><stop offset="0.3920" stop-color="#ffed12"/><stop offset="0.3940" stop-color="#fed006"/><stop offset="0.3961" stop-color="#fb9d02"/><stop offset="0.3981" stop-color="#f15f00"/><stop offset="0.4002" stop-color="#de2b00"/><stop offset="0.4023" stop-color="#c30e00"/><stop offset="0.4043" stop-color="#a90300"/><stop offset="0.4064" stop-color="#940000"/><stop offset="0.4105" stop-color="#7b0000"/><stop offset="0.4187" stop-color="#700000"/><stop offset="0.4434" stop-color="#6a0000"/><stop offset="0.5772" stop-color="#790000"/><stop offset="0.7603" stop-color="#a50000"/><stop offset="1.0000" stop-color="#be0000"/></linearGradient>
<linearGradient id="gd26"><stop offset="0.0000" stop-color="#300000"/><stop offset="0.0195" stop-color="#320000"/><stop offset="0.0319" stop-color="#3e0000"/><stop offset="0.2130" stop-color="#440000"/><stop offset="0.2644" stop-color="#5c0000"/><stop offset="0.2685" stop-color="#660000"/><stop offset="0.2706" stop-color="#710000"/><stop offset="0.2726" stop-color="#820200"/><stop offset="0.2747" stop-color="#9d0a00"/><stop offset="0.2767" stop-color="#c02100"/><stop offset="0.2788" stop-color="#e14f03"/><stop offset="0.2809" stop-color="#f58d0c"/><stop offset="0.2829" stop-color="#fdc623"/><stop offset="0.2850" stop-color="#ffeb48"/><stop offset="0.2870" stop-color="#fffa73"/><stop offset="0.2891" stop-color="#fffe9a"/><stop offset="0.2912" stop-color="#ffffb9"/><stop offset="0.2953" stop-color="#ffffe3"/><stop offset="0.2994" stop-color="#fffff9"/><stop offset="0.3076" stop-color="#ffffff"/><stop offset="0.3241" stop-color="#fffffd"/><stop offset="0.3508" stop-color="#ffffc6"/><stop offset="0.3817" stop-color="#ffff69"/><stop offset="0.3858" stop-color="#ffff51"/><stop offset="0.3899" stop-color="#fffa26"/><stop offset="0.3920" stop-color="#ffed12"/><stop offset="0.3940" stop-color="#fed006"/><stop offset="0.3961" stop-color="#fb9d02"/><stop offset="0.3981" stop-color="#f15f00"/><stop offset="0.4002" stop-color="#de2b00"/><stop offset="0.4023" stop-color="#c30e00"/><stop offset="0.4043" stop-color="#a90300"/><stop offset="0.4064" stop-color="#940000"/><stop offset="0.4105" stop-color="#7b0000"/><stop offset="0.4187" stop-color="#700000"/><stop offset="0.4434" stop-color="#6a0000"/><stop offset="0.5772" stop-color="#790000"/><stop offset="0.7603" stop-color="#a50000"/><stop offset="1.0000" stop-color="#be0000"/></linearGradient>
<linearGradient id="gd27"><stop offset="0.0000" stop-color="#300000"/><stop offset="0.0195" stop-color="#320000"/><stop offset="0.0319" stop-color="#3e0000"/><stop offset="0.2130" stop-color="#440000"/><stop offset="0.2644" stop-color="#5c0000"/><stop offset="0.2685" stop-color="#660000"/><stop offset="0.2706" stop-color="#700000"/><stop offset="0.2726" stop-color="#800200"/><stop offset="0.2747" stop-color="#9b0900"/><stop offset="0.2767" stop-color="#be1f00"/><stop offset="0.2788" stop-color="#df4b03"/><stop offset="0.2809" stop-color="#f4880c"/><stop offset="0.2829" stop-color="#fcc222"/><stop offset="0.2850" stop-color="#ffe847"/><stop offset="0.2870" stop-color="#fff971"/><stop offset="0.2891" stop-color="#fffe98"/><stop offset="0.2912" stop-color="#ffffb8"/><stop offset="0.2953" stop-color="#ffffe2"/><stop offset="0.2994" stop-color="#fffff9"/><stop offset="0.3076" stop-color="#ffffff"/><stop offset="0.3241" stop-color="#fffffd"/><stop offset="0.3508" stop-color="#ffffc6"/><stop offset="0.3817" stop-color="#ffff69"/><stop offset="0.3858" stop-color="#ffff51"/><stop offset="0.3899" stop-color="#fffa26"/><stop offset="0.3920" stop-color="#ffed12"/><stop offset="0.3940" stop-color="#fed006"/><stop offset="0.3961" stop-color="#fb9d02"/><stop offset="0.3981" stop-color="#f15f00"/><stop offset="0.4002" stop-color="#de2b00"/><stop offset="0.4023" stop-color="#c30e00"/><stop offset="0.4043" stop-color="#a90300"/><stop offset="0.4064" stop-color="#940000"/><stop offset="0.4105" stop-color="#7b0000"/><stop offset="0.4187" stop-color="#700000"/><stop offset="0.4434" stop-color="#6a0000"/><stop offset="0.5772" stop-color="#790000"/><stop offset="0.7603" stop-color="#a50000"/><stop offset="1.0000" stop-color="#be0000"/></linearGradient>
<linearGradient id="gd28"><stop offset="0.0000" stop-color="#300000"/><stop offset="0.0195" stop-color="#320000"/><stop offset="0.0319" stop-color="#3e0000"/><stop offset="0.2130" stop-color="#440000"/><stop offset="0.2644" stop-color="#5c0000"/><stop offset="0.2685" stop-color="#650000"/><stop offset="0.2706" stop-color="#6f0000"/><stop offset="0.2726" stop-color="#7f0200"/><stop offset="0.2747" stop-color="#990800"/><stop offset="0.2767" stop-color="#bc1c00"/><stop offset="0.2788" stop-color="#de4603"/><stop offset="0.2809" stop-color="#f3830c"/><stop offset="0.2829" stop-color="#fcbe21"/><stop offset="0.2850" stop-color="#ffe645"/><stop offset="0.2870" stop-color="#fff86f"/><stop offset="0.2891" stop-color="#fffe96"/><stop offset="0.2912" stop-color="#ffffb6"/><stop offset="0.2953" stop-color="#ffffe1"/><stop offset="0.2994" stop-color="#fffff8"/><stop offset="0.3076" stop-color="#ffffff"/><stop offset="0.3241" stop-color="#fffffd"/><stop offset="0.3508" stop-color="#ffffc6"/><stop offset="0.3817" stop-color="#ffff69"/><stop offset="0.3858" stop-color="#ffff51"/><stop offset="0.3899" stop-color="#fffa26"/><stop offset="0.3920" stop-color="#ffed12"/><stop offset="0.3940" stop-color="#fed006"/><stop offset="0.3961" stop-color="#fb9d02"/><stop offset="0.3981" stop-color="#f15f00"/><stop offset="0.4002" stop-color="#de2b00"/><stop offset="0.4023" stop-color="#c30e00"/><stop offset="0.4043" stop-color="#a90300"/><stop offset="0.4064" stop-color="#940000"/><stop offset="0.4105" stop-color="#7b0000"/><stop offset="0.4187" stop-color="#700000"/><stop offset="0.4434" stop-color="#6a0000"/><stop offset="0.5772" stop-color="#790000"/><stop offset="0.7603" stop-color="#a50000"/><stop offset="1.0000" stop-color="#be0000"/></linearGradient>
<linearGradient id="gd29"><stop offset="0.0000" stop-color="#300000"/><stop offset="0.0195" stop-color="#320000"/><stop offset="0.0319" stop-color="#3e0000"/><stop offset="0.2130" stop-color="#440000"/><stop offset="0.2644" stop-color="#5b0000"/><stop offset="0.2685" stop-color="#650000"/><stop offset="0.2706" stop-color="#6e0000"/><stop offset="0.2726" stop-color="#7e0100"/><stop offset="0.2747" stop-color="#970700"/><stop offset="0.2767" stop-color="#ba1a00"/><stop offset="0.2788" stop-color="#dc4203"/><stop offset="0.2809" stop-color="#f37e0b"/><stop offset="0.2829" stop-color="#fcba20"/><stop offset="0.2850" stop-color="#ffe343"/><stop offset="0.2870" stop-color="#fff76c"/><stop offset="0.2891" stop-color="#fffd94"/><stop offset="0.2912" stop-color="#ffffb4"/><stop offset="0.2953" stop-color="#ffffe0"/><stop offset="0.2994" stop-color="#fffff8"/><stop offset="0.3056" stop-color="#ffffff"/><stop offset="0.3241" stop-color="#fffffd"/><stop offset="0.3508" stop-color="#ffffc6"/><stop offset="0.3817" stop-color="#ffff69"/><stop offset="0.3858" stop-color="#ffff51"/><stop offset="0.3899" stop-color="#fffa26"/><stop offset="0.3920" stop-color="#ffed12"/><stop offset="0.3940" stop-color="#fed006"/><stop offset="0.3961" stop-color="#fb9d02"/><stop offset="0.3981" stop-color="#f15f00"/><stop offset="0.4002" stop-color="#de2b00"/><stop offset="0.4023" stop-color="#c30e00"/><stop offset="0.4043" stop-color="#a90300"/><stop offset="0.4064" stop-color="#940000"/><stop offset="0.4105" stop-color="#7b0000"/><stop offset="0.4187" stop-color="#700000"/><stop offset="0.4434" stop-color="#6a0000"/><stop offset="0.5772" stop-color="#790000"/><stop offset="0.7603" stop-color="#a50000"/><stop offset="1.0000" stop-color="#be0000"/></linearGradient>
<linearGradient id="gd30"><stop offset="0.0000" stop-color="#300000"/><stop offset="0.0195" stop-color="#320000"/><stop offset="0.0319" stop-color="#3e0000"/><stop offset="0.2130" stop-color="#440000"/><stop offset="0.2644" stop-color="#5b0000"/><stop offset="0.2685" stop-color="#640000"/><stop offset="0.2726" stop-color="#7c0100"/><stop offset="0.2747" stop-color="#950600"/><stop offset="0.2767" stop-color="#b81800"/><stop offset="0.2788" stop-color="#da3e02"/><stop offset="0.2809" stop-color="#f2790b"/><stop offset="0.2829" stop-color="#fcb61f"/><stop offset="0.2850" stop-color="#ffe141"/><stop offset="0.2870" stop-color="#fff66a"/><stop offset="0.2891" stop-color="#fffd91"/><stop offset="0.2912" stop-color="#ffffb2"/><stop offset="0.2953" stop-color="#ffffdf"/><stop offset="0.2994" stop-color="#fffff7"/><stop offset="0.3056" stop-color="#ffffff"/><stop offset="0.3241" stop-color="#fffffd"/><stop offset="0.3508" stop-color="#ffffc6"/><stop offset="0.3817" stop-color="#ffff69"/><stop offset="0.3858" stop-color="#ffff51"/><stop offset="0.3899" stop-color="#fffa26"/><stop offset="0.3920" stop-color="#ffed12"/><stop offset="0.3940" stop-color="#fed006"/><stop offset="0.3961" stop-color="#fb9d02"/><stop offset="0.3981" stop-color="#f15f00"/><stop offset="0.4002" stop-color="#de2b00"/><stop offset="0.4023" stop-color="#c30e00"/><stop offset="0.4043" stop-color="#a90300"/><stop offset="0.4064" stop-color="#940000"/><stop offset="0.4105" stop-color="#7b0000"/><stop offset="0.4187" stop-color="#700000"/><stop offset="0.4434" stop-color="#6a0000"/><stop offset="0.5772" stop-color="#790000"/><stop offset="0.7603" stop-color="#a50000"/><stop offset="1.0000" stop-color="#be0000"/></linearGradient>
<linearGradient id="gd31"><stop offset="0.0000" stop-color="#300000"/><stop offset="0.0195" stop-color="#320000"/><stop offset="0.0319" stop-color="#3e0000"/><stop offset="0.2130" stop-color="#440000"/><stop offset="0.2644" stop-color="#5b0000"/><stop offset="0.2685" stop-color="#640000"/><stop offset="0.2726" stop-color="#7b0100"/><stop offset="0.2747" stop-color="#930500"/><stop offset="0.2767" stop-color="#b51500"/><stop offset="0.2788" stop-color="#d93a02"/><stop offset="0.2809" stop-color="#f1740a"/><stop offset="0.2829" stop-color="#fcb21e"/><stop offset="0.2850" stop-color="#fedf3f"/><stop offset="0.2870" stop-color="#fff568"/><stop offset="0.2891" stop-color="#fffd8f"/><stop offset="0.2912" stop-color="#ffffb0"/><stop offset="0.2953" stop-color="#ffffde"/><stop offset="0.2994" stop-color="#fffff7"/><stop offset="0.3056" stop-color="#ffffff"/><stop offset="0.3241" stop-color="#fffffd"/><stop offset="0.3508" stop-color="#ffffc6"/><stop offset="0.3817" stop-color="#ffff69"/><stop offset="0.3858" stop-color="#ffff51"/><stop offset="0.3899" stop-color="#fffa26"/><stop offset="0.3920" stop-color="#ffed12"/><stop offset="0.3940" stop-color="#fed006"/><stop offset="0.3961" stop-color="#fb9d02"/><stop offset="0.3981" stop-color="#f15f00"/><stop offset="0.4002" stop-color="#de2b00"/><stop offset="0.4023" stop-color="#c30e00"/><stop offset="0.4043" stop-color="#a90300"/><stop offset="0.4064" stop-color="#940000"/><stop offset="0.4105" stop-color="#7b0000"/><stop offset="0.4187" stop-color="#700000"/><stop offset="0.4434" stop-color="#6a0000"/><stop offset="0.5772" stop-color="#790000"/><stop offset="0.7603" stop-color="#a50000"/><stop offset="1.0000" stop-color="#be0000"/></linearGradient>
<linearGradient id="gd32"><stop offset="0.0000" stop-color="#300000"/><stop offset="0.0195" stop-color="#320000"/><stop offset="0.0319" stop-color="#3e0000"/><stop offset="0.2130" stop-color="#440000"/><stop offset="0.2644" stop-color="#5b0000"/><stop offset="0.2685" stop-color="#630000"/><stop offset="0.2726" stop-color="#7a0100"/><stop offset="0.2747" stop-color="#910400"/><stop offset="0.2767" stop-color="#b31300"/><stop offset="0.2788" stop-color="#d73602"/><stop offset="0.2809" stop-color="#f06f0a"/><stop offset="0.2829" stop-color="#fbad1d"/><stop offset="0.2850" stop-color="#fedc3d"/><stop offset="0.2870" stop-color="#fff466"/><stop offset="0.2891" stop-color="#fffd8d"/><stop offset="0.2912" stop-color="#ffffaf"/><stop offset="0.2932" stop-color="#ffffc9"/><stop offset="0.2973" stop-color="#ffffec"/><stop offset="0.3014" stop-color="#fffffc"/><stop offset="0.3241" stop-color="#fffffd"/><stop offset="0.3508" stop-color="#ffffc6"/><stop offset="0.3817" stop-color="#ffff69"/><stop offset="0.3858" stop-color="#ffff51"/><stop offset="0.3899" stop-color="#fffa26"/><stop offset="0.3920" stop-color="#ffed12"/><stop offset="0.3940" stop-color="#fed006"/><stop offset="0.3961" stop-color="#fb9d02"/><stop offset="0.3981" stop-color="#f15f00"/><stop offset="0.4002" stop-color="#de2b00"/><stop offset="0.4023" stop-color="#c30e00"/><stop offset="0.4043" stop-color="#a90300"/><stop offset="0.4064" stop-color="#940000"/><stop offset="0.4105" stop-color="#7b0000"/><stop offset="0.4187" stop-color="#700000"/><stop offset="0.4434" stop-color="#6a0000"/><stop offset="0.5772" stop-color="#790000"/><stop offset="0.7603" stop-color="#a50000"/><stop offset="1.0000" stop-color="#be0000"/></linearGradient>
<linearGradient id="gd33"><stop offset="0.0000" stop-color="#300000"/><stop offset="0.0195" stop-color="#320000"/><stop offset="0.0319" stop-color="#3e0000"/><stop offset="0.2130" stop-color="#440000"/><stop offset="0.2644" stop-color="#5b0000"/><stop offset="0.2685" stop-color="#630000"/><stop offset="0.2726" stop-color="#780100"/><stop offset="0.2747" stop-color="#8f0400"/><stop offset="0.2767" stop-color="#b01100"/><stop offset="0.2788" stop-color="#d43302"/><stop offset="0.2809" stop-color="#ef6b0a"/><stop offset="0.2829" stop-color="#fbaa1c"/><stop offset="0.2850" stop-color="#feda3c"/><stop offset="0.2870" stop-color="#fff363"/><stop offset="0.2891" stop-color="#fffd8b"/><stop offset="0.2912" stop-color="#ffffad"/><stop offset="0.2932" stop-color="#ffffc7"/><stop offset="0.2973" stop-color="#ffffeb"/><stop offset="0.3014" stop-color="#fffffc"/><stop offset="0.3241" stop-color="#fffffd"/><stop offset="0.3508" stop-color="#ffffc6"/><stop offset="0.3817" stop-color="#ffff69"/><stop offset="0.3858" stop-color="#ffff51"/><stop offset="0.3899" stop-color="#fffa26"/><stop offset="0.3920" stop-color="#ffed12"/><stop offset="0.3940" stop-color="#fed006"/><stop offset="0.3961" stop-color="#fb9d02"/><stop offset="0.3981" stop-color="#f15f00"/><stop offset="0.4002" stop-color="#de2b00"/><stop offset="0.4023" stop-color="#c30e00"/><stop offset="0.4043" stop-color="#a90300"/><stop offset="0.4064" stop-color="#940000"/><stop offset="0.4105" stop-color="#7b0000"/><stop offset="0.4187" stop-color="#700000"/><stop offset="0.4434" stop-color="#6a0000"/><stop offset="0.5772" stop-color="#790000"/><stop offset="0.7603" stop-color="#a50000"/><stop offset="1.0000" stop-color="#be0000"/></linearGradient>
<linearGradient id="gd34"><stop offset="0.0000" stop-color="#300000"/><stop offset="0.0195" stop-color="#320000"/><stop offset="0.0319" stop-color="#3e0000"/><stop offset="0.2130" stop-color="#440000"/><stop offset="0.2644" stop-color="#5b0000"/><stop offset="0.2706" stop-color="#6a0000"/><stop offset="0.2726" stop-color="#770100"/><stop offset="0.2747" stop-color="#8c0400"/><stop offset="0.2767" stop-color="#ac1000"/><stop offset="0.2788" stop-color="#d13102"/><stop offset="0.2809" stop-color="#ed6709"/><stop offset="0.2829" stop-color="#faa61b"/><stop offset="0.2850" stop-color="#fed83a"/><stop offset="0.2870" stop-color="#fff361"/><stop offset="0.2891" stop-color="#fffc89"/><stop offset="0.2912" stop-color="#ffffab"/><stop offset="0.2932" stop-color="#ffffc6"/><stop offset="0.2973" stop-color="#ffffea"/><stop offset="0.3014" stop-color="#fffffc"/><stop offset="0.3241" stop-color="#fffffd"/><stop offset="0.3508" stop-color="#ffffc6"/><stop offset="0.3817" stop-color="#ffff69"/><stop offset="0.3858" stop-color="#ffff51"/><stop offset="0.3899" stop-color="#fffa26"/><stop offset="0.3920" stop-color="#ffed12"/><stop offset="0.3940" stop-color="#fed006"/><stop offset="0.3961" stop-color="#fb9d02"/><stop offset="0.3981" stop-color="#f15f00"/><stop offset="0.4002" stop-color="#de2b00"/><stop offset="0.4023" stop-color="#c30e00"/><stop offset="0.4043" stop-color="#a90300"/><stop offset="0.4064" stop-color="#940000"/><stop offset="0.4105" stop-color="#7b0000"/><stop offset="0.4187" stop-color="#700000"/><stop offset="0.4434" stop-color="#6a0000"/><stop offset="0.5772" stop-color="#790000"/><stop offset="0.7603" stop-color="#a50000"/><stop offset="1.0000" stop-color="#be0000"/></linearGradient>
<linearGradient id="gd35"><stop offset="0.0000" stop-color="#300000"/><stop offset="0.0195" stop-color="#320000"/><stop offset="0.0319" stop-color="#3e0000"/><stop offset="0.2130" stop-color="#440000"/><stop offset="0.2665" stop-color="#5d0000"/><stop offset="0.2706" stop-color="#690000"/><stop offset="0.2726" stop-color="#760100"/><stop offset="0.2747" stop-color="#8a0300"/><stop offset="0.2767" stop-color="#a90f00"/><stop offset="0.2788" stop-color="#ce2e02"/><stop offset="0.2809" stop-color="#ea6409"/><stop offset="0.2829" stop-color="#f9a319"/><stop offset="0.2850" stop-color="#fed637"/><stop offset="0.2870" stop-color="#fff25e"/><stop offset="0.2891" stop-color="#fffc86"/><stop offset="0.2912" stop-color="#ffffa9"/><stop offset="0.2932" stop-color="#ffffc4"/><stop offset="0.2973" stop-color="#ffffea"/><stop offset="0.3014" stop-color="#fffffc"/><stop offset="0.3241" stop-color="#fffffd"/><stop offset="0.3508" stop-color="#ffffc6"/><stop offset="0.3817" stop-color="#ffff69"/><stop offset="0.3858" stop-color="#ffff51"/><stop offset="0.3899" stop-color="#fffa26"/><stop offset="0.3920" stop-color="#ffed12"/><stop offset="0.3940" stop-color="#fed006"/><stop offset="0.3961" stop-color="#fb9d02"/><stop offset="0.3981" stop-color="#f15f00"/><stop offset="0.4002" stop-color="#de2b00"/><stop offset="0.4023" stop-color="#c30e00"/><stop offset="0.4043" stop-color="#a90300"/><stop offset="0.4064" stop-color="#940000"/><stop offset="0.4105" stop-color="#7b0000"/><stop offset="0.4187" stop-color="#700000"/><stop offset="0.4434" stop-color="#6a0000"/><stop offset="0.5772" stop-color="#790000"/><stop offset="0.7603" stop-color="#a50000"/><stop offset="1.0000" stop-color="#be0000"/></linearGradient>
<linearGradient id="gd36"><stop offset="0.0000" stop-color="#300000"/><stop offset="0.0195" stop-color="#320000"/><stop offset="0.0319" stop-color="#3e0000"/><stop offset="0.2130" stop-color="#440000"/><stop offset="0.2665" stop-color="#5d0000"/><stop offset="0.2706" stop-color="#690000"/><stop offset="0.2726" stop-color="#740000"/><stop offset="0.2747" stop-color="#880300"/><stop offset="0.2767" stop-color="#a60e00"/><stop offset="0.2788" stop-color="#cb2c02"/><stop offset="0.2809" stop-color="#e86007"/><stop offset="0.2829" stop-color="#f89f16"/><stop offset="0.2850" stop-color="#fed333"/><stop offset="0.2870" stop-color="#fff159"/><stop offset="0.2891" stop-color="#fffc82"/><stop offset="0.2912" stop-color="#ffffa6"/><stop offset="0.2932" stop-color="#ffffc2"/><stop offset="0.2973" stop-color="#ffffe8"/><stop offset="0.3014" stop-color="#fffffb"/><stop offset="0.3200" stop-color="#ffffff"/><stop offset="0.3302" stop-color="#fffff3"/><stop offset="0.3529" stop-color="#ffffc1"/><stop offset="0.3817" stop-color="#ffff69"/><stop offset="0.3858" stop-color="#ffff51"/><stop offset="0.3899" stop-color="#fffa26"/><stop offset="0.3920" stop-color="#ffed12"/><stop offset="0.3940" stop-color="#fed006"/><stop offset="0.3961" stop-color="#fb9d02"/><stop offset="0.3981" stop-color="#f15f00"/><stop offset="0.4002" stop-color="#de2b00"/><stop offset="0.4023" stop-color="#c30e00"/><stop offset="0.4043" stop-color="#a90300"/><stop offset="0.4064" stop-color="#940000"/><stop offset="0.4105" stop-color="#7b0000"/><stop offset="0.4187" stop-color="#700000"/><stop offset="0.4434" stop-color="#6a0000"/><stop offset="0.5772" stop-color="#790000"/><stop offset="0.7603" stop-color="#a50000"/><stop offset="1.0000" stop-color="#be0000"/></linearGradient>
<linearGradient id="gd37"><stop offset="0.0000" stop-color="#300000"/><stop offset="0.0195" stop-color="#320000"/><stop offset="0.0319" stop-color="#3e0000"/><stop offset="0.2130" stop-color="#440000"/><stop offset="0.2665" stop-color="#5d0000"/><stop offset="0.2706" stop-color="#680000"/><stop offset="0.2726" stop-color="#730000"/><stop offset="0.2747" stop-color="#860300"/><stop offset="0.2767" stop-color="#a30d00"/><stop offset="0.2788" stop-color="#c72801"/><stop offset="0.2809" stop-color="#e65a05"/><stop offset="0.2829" stop-color="#f79812"/><stop offset="0.2850" stop-color="#fdcf2c"/><stop offset="0.2870" stop-color="#ffef52"/><stop offset="0.2891" stop-color="#fffb7c"/><stop offset="0.2912" stop-color="#fffea1"/><stop offset="0.2932" stop-color="#ffffbf"/><stop offset="0.2973" stop-color="#ffffe6"/><stop offset="0.3014" stop-color="#fffffa"/><stop offset="0.3138" stop-color="#ffffff"/><stop offset="0.3261" stop-color="#fffffa"/><stop offset="0.3529" stop-color="#ffffc1"/><stop offset="0.3817" stop-color="#ffff69"/><stop offset="0.3858" stop-color="#ffff51"/><stop offset="0.3899" stop-color="#fffa26"/><stop offset="0.3920" stop-color="#ffed12"/><stop offset="0.3940" stop-color="#fed006"/><stop offset="0.3961" stop-color="#fb9d02"/><stop offset="0.3981" stop-color="#f15f00"/><stop offset="0.4002" stop-color="#de2b00"/><stop offset="0.4023" stop-color="#c30e00"/><stop offset="0.4043" stop-color="#a90300"/><stop offset="0.4064" stop-color="#940000"/><stop offset="0.4105" stop-color="#7b0000"/><stop offset="0.4187" stop-color="#700000"/><stop offset="0.4434" stop-color="#6a0000"/><stop offset="0.5772" stop-color="#790000"/><stop offset="0.7603" stop-color="#a50000"/><stop offset="1.0000" stop-color="#be0000"/></linearGradient>
<linearGradient id="gd38"><stop offset="0.0000" stop-color="#300000"/><stop offset="0.0195" stop-color="#320000"/><stop offset="0.0319" stop-color="#3e0000"/><stop offset="0.2130" stop-color="#440000"/><stop offset="0.2665" stop-color="#5d0000"/><stop offset="0.2706" stop-color="#670000"/><stop offset="0.2726" stop-color="#710000"/><stop offset="0.2747" stop-color="#830200"/><stop offset="0.2767" stop-color="#9f0b00"/><stop offset="0.2788" stop-color="#c32401"/><stop offset="0.2809" stop-color="#e25303"/><stop offset="0.2829" stop-color="#f5910d"/><stop offset="0.2850" stop-color="#fdca25"/><stop offset="0.2870" stop-color="#ffed4b"/><stop offset="0.2891" stop-color="#fffb76"/><stop offset="0.2912" stop-color="#fffe9d"/><stop offset="0.2932" stop-color="#ffffbb"/><stop offset="0.2973" stop-color="#ffffe4"/><stop offset="0.3014" stop-color="#fffffa"/><stop offset="0.3117" stop-color="#ffffff"/><stop offset="0.3261" stop-color="#fffffa"/><stop offset="0.3529" stop-color="#ffffc1"/><stop offset="0.3817" stop-color="#ffff69"/><stop offset="0.3858" stop-color="#ffff51"/><stop offset="0.3899" stop-color="#fffa26"/><stop offset="0.3920" stop-color="#ffed12"/><stop offset="0.3940" stop-color="#fed006"/><stop offset="0.3961" stop-color="#fb9d02"/><stop offset="0.3981" stop-color="#f15f00"/><stop offset="0.4002" stop-color="#de2b00"/><stop offset="0.4023" stop-color="#c30e00"/><stop offset="0.4043" stop-color="#a90300"/><stop offset="0.4064" stop-color="#940000"/><stop offset="0.4105" stop-color="#7b0000"/><stop offset="0.4187" stop-color="#700000"/><stop offset="0.4434" stop-color="#6a0000"/><stop offset="0.5772" stop-color="#790000"/><stop offset="0.7603" stop-color="#a50000"/><stop offset="1.0000" stop-color="#be0000"/></linearGradient>
<linearGradient id="gd39"><stop offset="0.0000" stop-color="#300000"/><stop offset="0.0195" stop-color="#320000"/><stop offset="0.0319" stop-color="#3e0000"/><stop offset="0.2130" stop-color="#440000"/><stop offset="0.2665" stop-color="#5c0000"/><stop offset="0.2706" stop-color="#660000"/><stop offset="0.2726" stop-color="#700000"/><stop offset="0.2747" stop-color="#810200"/><stop offset="0.2767" stop-color="#9b0900"/><stop offset="0.2788" stop-color="#be1f00"/><stop offset="0.2809" stop-color="#df4b03"/><stop offset="0.2829" stop-color="#f4880c"/><stop offset="0.2850" stop-color="#fcc322"/><stop offset="0.2870" stop-color="#ffe947"/><stop offset="0.2891" stop-color="#fff971"/><stop offset="0.2912" stop-color="#fffe98"/><stop offset="0.2932" stop-color="#ffffb8"/><stop offset="0.2973" stop-color="#ffffe2"/><stop offset="0.3014" stop-color="#fffff9"/><stop offset="0.3097" stop-color="#ffffff"/><stop offset="0.3261" stop-color="#fffffa"/><stop offset="0.3529" stop-color="#ffffc1"/><stop offset="0.3817" stop-color="#ffff69"/><stop offset="0.3858" stop-color="#ffff51"/><stop offset="0.3899" stop-color="#fffa26"/><stop offset="0.3920" stop-color="#ffed12"/><stop offset="0.3940" stop-color="#fed006"/><stop offset="0.3961" stop-color="#fb9d02"/><stop offset="0.3981" stop-color="#f15f00"/><stop offset="0.4002" stop-color="#de2b00"/><stop offset="0.4023" stop-color="#c30e00"/><stop offset="0.4043" stop-color="#a90300"/><stop offset="0.4064" stop-color="#940000"/><stop offset="0.4105" stop-color="#7b0000"/><stop offset="0.4187" stop-color="#700000"/><stop offset="0.4434" stop-color="#6a0000"/><stop offset="0.5772" stop-color="#790000"/><stop offset="0.7603" stop-color="#a50000"/><stop offset="1.0000" stop-color="#be0000"/></linearGradient>
<linearGradient id="gd40"><stop offset="0.0000" stop-color="#300000"/><stop offset="0.0195" stop-color="#320000"/><stop offset="0.0319" stop-color="#3e0000"/><stop offset="0.2130" stop-color="#440000"/><stop offset="0.2665" stop-color="#5c0000"/><stop offset="0.2706" stop-color="#650000"/><stop offset="0.2726" stop-color="#6e0000"/><stop offset="0.2747" stop-color="#7e0100"/><stop offset="0.2767" stop-color="#970700"/><stop offset="0.2788" stop-color="#ba1a00"/><stop offset="0.2809" stop-color="#dc4303"/><stop offset="0.2829" stop-color="#f37f0b"/><stop offset="0.2850" stop-color="#fcbb20"/><stop offset="0.2870" stop-color="#ffe443"/><stop offset="0.2891" stop-color="#fff76d"/><stop offset="0.2912" stop-color="#fffd94"/><stop offset="0.2932" stop-color="#ffffb4"/><stop offset="0.2973" stop-color="#ffffe0"/><stop offset="0.3014" stop-color="#fffff8"/><stop offset="0.3076" stop-color="#ffffff"/><stop offset="0.3241" stop-color="#fffffd"/><stop offset="0.3508" stop-color="#ffffc6"/><stop offset="0.3817" stop-color="#ffff69"/><stop offset="0.3858" stop-color="#ffff51"/><stop offset="0.3899" stop-color="#fffa26"/><stop offset="0.3920" stop-color="#ffed12"/><stop offset="0.3940" stop-color="#fed006"/><stop offset="0.3961" stop-color="#fb9d02"/><stop offset="0.3981" stop-color="#f15f00"/><stop offset="0.4002" stop-color="#de2b00"/><stop offset="0.4023" stop-color="#c30e00"/><stop offset="0.4043" stop-color="#a90300"/><stop offset="0.4064" stop-color="#940000"/><stop offset="0.4105" stop-color="#7b0000"/><stop offset="0.4187" stop-color="#700000"/><stop offset="0.4434" stop-color="#6a0000"/><stop offset="0.5772" stop-color="#790000"/><stop offset="0.7603" stop-color="#a50000"/><stop offset="1.0000" stop-color="#be0000"/></linearGradient>
<linearGradient id="gd41"><stop offset="0.0000" stop-color="#300000"/><stop offset="0.0195" stop-color="#320000"/><stop offset="0.0319" stop-color="#3e0000"/><stop offset="0.2130" stop-color="#440000"/><stop offset="0.2665" stop-color="#5c0000"/><stop offset="0.2706" stop-color="#640000"/><stop offset="0.2747" stop-color="#7c0100"/><stop offset="0.2767" stop-color="#940600"/><stop offset="0.2788" stop-color="#b61600"/><stop offset="0.2809" stop-color="#d93b02"/><stop offset="0.2829" stop-color="#f1750a"/><stop offset="0.2850" stop-color="#fcb31e"/><stop offset="0.2870" stop-color="#fedf40"/><stop offset="0.2891" stop-color="#fff668"/><stop offset="0.2912" stop-color="#fffd90"/><stop offset="0.2932" stop-color="#ffffb1"/><stop offset="0.2973" stop-color="#ffffde"/><stop offset="0.3014" stop-color="#fffff7"/><stop offset="0.3076" stop-color="#ffffff"/><stop offset="0.3241" stop-color="#fffffd"/><stop offset="0.3508" stop-color="#ffffc6"/><stop offset="0.3817" stop-color="#ffff69"/><stop offset="0.3858" stop-color="#ffff51"/><stop offset="0.3899" stop-color="#fffa26"/><stop offset="0.3920" stop-color="#ffed12"/><stop offset="0.3940" stop-color="#fed006"/><stop offset="0.3961" stop-color="#fb9d02"/><stop offset="0.3981" stop-color="#f15f00"/><stop offset="0.4002" stop-color="#de2b00"/><stop offset="0.4023" stop-color="#c30e00"/><stop offset="0.4043" stop-color="#a90300"/><stop offset="0.4064" stop-color="#940000"/><stop offset="0.4105" stop-color="#7b0000"/><stop offset="0.4187" stop-color="#700000"/><stop offset="0.4434" stop-color="#6a0000"/><stop offset="0.5772" stop-color="#790000"/><stop offset="0.7603" stop-color="#a50000"/><stop offset="1.0000" stop-color="#be0000"/></linearGradient>
<linearGradient id="gd42"><stop offset="0.0000" stop-color="#300000"/><stop offset="0.0195" stop-color="#320000"/><stop offset="0.0319" stop-color="#3e0000"/><stop offset="0.2130" stop-color="#440000"/><stop offset="0.2665" stop-color="#5c0000"/><stop offset="0.2706" stop-color="#630000"/><stop offset="0.2747" stop-color="#790100"/><stop offset="0.2767" stop-color="#900400"/><stop offset="0.2788" stop-color="#b11200"/><stop offset="0.2809" stop-color="#d53402"/><stop offset="0.2829" stop-color="#ef6c0a"/><stop offset="0.2850" stop-color="#fbab1c"/><stop offset="0.2870" stop-color="#fedb3c"/><stop offset="0.2891" stop-color="#fff464"/><stop offset="0.2912" stop-color="#fffd8c"/><stop offset="0.2932" stop-color="#ffffad"/><stop offset="0.2953" stop-color="#ffffc8"/><stop offset="0.2994" stop-color="#ffffeb"/><stop offset="0.3035" stop-color="#fffffc"/><stop offset="0.3241" stop-color="#fffffd"/><stop offset="0.3508" stop-color="#ffffc6"/><stop offset="0.3817" stop-color="#ffff69"/><stop offset="0.3858" stop-color="#ffff51"/><stop offset="0.3899" stop-color="#fffa26"/><stop offset="0.3920" stop-color="#ffed12"/><stop offset="0.3940" stop-color="#fed006"/><stop offset="0.3961" stop-color="#fb9d02"/><stop offset="0.3981" stop-color="#f15f00"/><stop offset="0.4002" stop-color="#de2b00"/><stop offset="0.4023" stop-color="#c30e00"/><stop offset="0.4043" stop-color="#a90300"/><stop offset="0.4064" stop-color="#940000"/><stop offset="0.4105" stop-color="#7b0000"/><stop offset="0.4187" stop-color="#700000"/><stop offset="0.4434" stop-color="#6a0000"/><stop offset="0.5772" stop-color="#790000"/><stop offset="0.7603" stop-color="#a50000"/><stop offset="1.0000" stop-color="#be0000"/></linearGradient>
<linearGradient id="gd43"><stop offset="0.0000" stop-color="#300000"/><stop offset="0.0195" stop-color="#320000"/><stop offset="0.0319" stop-color="#3e0000"/><stop offset="0.2130" stop-color="#440000"/><stop offset="0.2685" stop-color="#5e0000"/><stop offset="0.2726" stop-color="#6a0000"/><stop offset="0.2747" stop-color="#770100"/><stop offset="0.2767" stop-color="#8b0400"/><stop offset="0.2788" stop-color="#ab1000"/><stop offset="0.2809" stop-color="#d03002"/><stop offset="0.2829" stop-color="#ec6609"/><stop offset="0.2850" stop-color="#faa51a"/><stop offset="0.2870" stop-color="#fed739"/><stop offset="0.2891" stop-color="#fff260"/><stop offset="0.2912" stop-color="#fffc88"/><stop offset="0.2932" stop-color="#ffffaa"/><stop offset="0.2953" stop-color="#ffffc5"/><stop offset="0.2994" stop-color="#ffffea"/><stop offset="0.3035" stop-color="#fffffc"/><stop offset="0.3241" stop-color="#fffffd"/><stop offset="0.3508" stop-color="#ffffc6"/><stop offset="0.3817" stop-color="#ffff69"/><stop offset="0.3858" stop-color="#ffff51"/><stop offset="0.3899" stop-color="#fffa26"/><stop offset="0.3920" stop-color="#ffed12"/><stop offset="0.3940" stop-color="#fed006"/><stop offset="0.3961" stop-color="#fb9d02"/><stop offset="0.3981" stop-color="#f15f00"/><stop offset="0.4002" stop-color="#de2b00"/><stop offset="0.4023" stop-color="#c30e00"/><stop offset="0.4043" stop-color="#a90300"/><stop offset="0.4064" stop-color="#940000"/><stop offset="0.4105" stop-color="#7b0000"/><stop offset="0.4187" stop-color="#700000"/><stop offset="0.4434" stop-color="#6a0000"/><stop offset="0.5772" stop-color="#790000"/><stop offset="0.7603" stop-color="#a50000"/><stop offset="1.0000" stop-color="#be0000"/></linearGradient>
<linearGradient id="gd44"><stop offset="0.0000" stop-color="#300000"/><stop offset="0.0195" stop-color="#320000"/><stop offset="0.0319" stop-color="#3e0000"/><stop offset="0.2130" stop-color="#440000"/><stop offset="0.2685" stop-color="#5e0000"/><stop offset="0.2726" stop-color="#690000"/><stop offset="0.2747" stop-color="#750000"/><stop offset="0.2767" stop-color="#880300"/><stop offset="0.2788" stop-color="#a70f00"/><stop offset="0.2809" stop-color="#cb2c02"/><stop offset="0.2829" stop-color="#e96107"/><stop offset="0.2850" stop-color="#f89f17"/><stop offset="0.2870" stop-color="#fed334"/><stop offset="0.2891" stop-color="#fff15a"/><stop offset="0.2912" stop-color="#fffc83"/><stop offset="0.2932" stop-color="#ffffa6"/><stop offset="0.2953" stop-color="#ffffc2"/><stop offset="0.2994" stop-color="#ffffe8"/><stop offset="0.3035" stop-color="#fffffb"/><stop offset="0.3220" stop-color="#fffffe"/><stop offset="0.3364" stop-color="#ffffe6"/><stop offset="0.3549" stop-color="#ffffbb"/><stop offset="0.3817" stop-color="#ffff69"/><stop offset="0.3858" stop-color="#ffff51"/><stop offset="0.3899" stop-color="#fffa26"/><stop offset="0.3920" stop-color="#ffed12"/><stop offset="0.3940" stop-color="#fed006"/><stop offset="0.3961" stop-color="#fb9d02"/><stop offset="0.3981" stop-color="#f15f00"/><stop offset="0.4002" stop-color="#de2b00"/><stop offset="0.4023" stop-color="#c30e00"/><stop offset="0.4043" stop-color="#a90300"/><stop offset="0.4064" stop-color="#940000"/><stop offset="0.4105" stop-color="#7b0000"/><stop offset="0.4187" stop-color="#700000"/><stop offset="0.4434" stop-color="#6a0000"/><stop offset="0.5772" stop-color="#790000"/><stop offset="0.7603" stop-color="#a50000"/><stop offset="1.0000" stop-color="#be0000"/></linearGradient>
<linearGradient id="gd45"><stop offset="0.0000" stop-color="#300000"/><stop offset="0.0195" stop-color="#320000"/><stop offset="0.0319" stop-color="#3e0000"/><stop offset="0.2130" stop-color="#440000"/><stop offset="0.2685" stop-color="#5d0000"/><stop offset="0.2726" stop-color="#680000"/><stop offset="0.2747" stop-color="#730000"/><stop offset="0.2767" stop-color="#860300"/><stop offset="0.2788" stop-color="#a30d00"/><stop offset="0.2809" stop-color="#c72801"/><stop offset="0.2829" stop-color="#e65a05"/><stop offset="0.2850" stop-color="#f79912"/><stop offset="0.2870" stop-color="#fdcf2c"/><stop offset="0.2891" stop-color="#ffef52"/><stop offset="0.2912" stop-color="#fffb7c"/><stop offset="0.2932" stop-color="#fffea2"/><stop offset="0.2953" stop-color="#ffffbf"/><stop offset="0.2994" stop-color="#ffffe6"/><stop offset="0.3035" stop-color="#fffffa"/><stop offset="0.3158" stop-color="#ffffff"/><stop offset="0.3261" stop-color="#fffffa"/><stop offset="0.3529" stop-color="#ffffc1"/><stop offset="0.3817" stop-color="#ffff69"/><stop offset="0.3858" stop-color="#ffff51"/><stop offset="0.3899" stop-color="#fffa26"/><stop offset="0.3920" stop-color="#ffed12"/><stop offset="0.3940" stop-color="#fed006"/><stop offset="0.3961" stop-color="#fb9d02"/><stop offset="0.3981" stop-color="#f15f00"/><stop offset="0.4002" stop-color="#de2b00"/><stop offset="0.4023" stop-color="#c30e00"/><stop offset="0.4043" stop-color="#a90300"/><stop offset="0.4064" stop-color="#940000"/><stop offset="0.4105" stop-color="#7b0000"/><stop offset="0.4187" stop-color="#700000"/><stop offset="0.4434" stop-color="#6a0000"/><stop offset="0.5772" stop-color="#790000"/><stop offset="0.7603" stop-color="#a50000"/><stop offset="1.0000" stop-color="#be0000"/></linearGradient>
<linearGradient id="gd46"><stop offset="0.0000" stop-color="#300000"/><stop offset="0.0195" stop-color="#320000"/><stop offset="0.0319" stop-color="#3e0000"/><stop offset="0.2130" stop-color="#440000"/><stop offset="0.2685" stop-color="#5d0000"/><stop offset="0.2726" stop-color="#670000"/><stop offset="0.2747" stop-color="#720000"/><stop offset="0.2767" stop-color="#830200"/><stop offset="0.2788" stop-color="#9f0b00"/><stop offset="0.2809" stop-color="#c32401"/><stop offset="0.2829" stop-color="#e35303"/><stop offset="0.2850" stop-color="#f6920e"/><stop offset="0.2870" stop-color="#fdca26"/><stop offset="0.2891" stop-color="#ffed4b"/><stop offset="0.2912" stop-color="#fffb76"/><stop offset="0.2932" stop-color="#fffe9d"/><stop offset="0.2953" stop-color="#ffffbb"/><stop offset="0.2994" stop-color="#ffffe4"/><stop offset="0.3035" stop-color="#fffffa"/><stop offset="0.3138" stop-color="#ffffff"/><stop offset="0.3261" stop-color="#fffffa"/><stop offset="0.3529" stop-color="#ffffc1"/><stop offset="0.3817" stop-color="#ffff69"/><stop offset="0.3858" stop-color="#ffff51"/><stop offset="0.3899" stop-color="#fffa26"/><stop offset="0.3920" stop-color="#ffed12"/><stop offset="0.3940" stop-color="#fed006"/><stop offset="0.3961" stop-color="#fb9d02"/><stop offset="0.3981" stop-color="#f15f00"/><stop offset="0.4002" stop-color="#de2b00"/><stop offset="0.4023" stop-color="#c30e00"/><stop offset="0.4043" stop-color="#a90300"/><stop offset="0.4064" stop-color="#940000"/><stop offset="0.4105" stop-color="#7b0000"/><stop offset="0.4187" stop-color="#700000"/><stop offset="0.4434" stop-color="#6a0000"/><stop offset="0.5772" stop-color="#790000"/><stop offset="0.7603" stop-color="#a50000"/><stop offset="1.0000" stop-color="#be0000"/></linearGradient>
<linearGradient id="gd47"><stop offset="0.0000" stop-color="#300000"/><stop offset="0.0195" stop-color="#320000"/><stop offset="0.0319" stop-color="#3e0000"/><stop offset="0.2130" stop-color="#440000"/><stop offset="0.2685" stop-color="#5d0000"/><stop offset="0.2726" stop-color="#660000"/><stop offset="0.2747" stop-color="#700000"/><stop offset="0.2767" stop-color="#810200"/><stop offset="0.2788" stop-color="#9b0900"/><stop offset="0.2809" stop-color="#bf1f00"/><stop offset="0.2829" stop-color="#e04b03"/><stop offset="0.2850" stop-color="#f4890c"/><stop offset="0.2870" stop-color="#fcc322"/><stop offset="0.2891" stop-color="#ffe947"/><stop offset="0.2912" stop-color="#fff971"/><stop offset="0.2932" stop-color="#fffe99"/><stop offset="0.2953" stop-color="#ffffb8"/><stop offset="0.2994" stop-color="#ffffe2"/><stop offset="0.3035" stop-color="#fffff9"/><stop offset="0.3117" stop-color="#ffffff"/><stop offset="0.3261" stop-color="#fffffa"/><stop offset="0.3529" stop-color="#ffffc1"/><stop offset="0.3817" stop-color="#ffff69"/><stop offset="0.3858" stop-color="#ffff51"/><stop offset="0.3899" stop-color="#fffa26"/><stop offset="0.3920" stop-color="#ffed12"/><stop offset="0.3940" stop-color="#fed006"/><stop offset="0.3961" stop-color="#fb9d02"/><stop offset="0.3981" stop-color="#f15f00"/><stop offset="0.4002" stop-color="#de2b00"/><stop offset="0.4023" stop-color="#c30e00"/><stop offset="0.4043" stop-color="#a90300"/><stop offset="0.4064" stop-color="#940000"/><stop offset="0.4105" stop-color="#7b0000"/><stop offset="0.4187" stop-color="#700000"/><stop offset="0.4434" stop-color="#6a0000"/><stop offset="0.5772" stop-color="#790000"/><stop offset="0.7603" stop-color="#a50000"/><stop offset="1.0000" stop-color="#be0000"/></linearGradient>
<linearGradient id="gd48"><stop offset="0.0000" stop-color="#300000"/><stop offset="0.0195" stop-color="#320000"/><stop offset="0.0319" stop-color="#3e0000"/><stop offset="0.2130" stop-color="#440000"/><stop offset="0.2685" stop-color="#5d0000"/><stop offset="0.2726" stop-color="#650000"/><stop offset="0.2747" stop-color="#6f0000"/><stop offset="0.2767" stop-color="#7e0100"/><stop offset="0.2788" stop-color="#980700"/><stop offset="0.2809" stop-color="#ba1a00"/><stop offset="0.2829" stop-color="#dc4303"/><stop offset="0.2850" stop-color="#f37f0b"/><stop offset="0.2870" stop-color="#fcbb20"/><stop offset="0.2891" stop-color="#ffe443"/><stop offset="0.2912" stop-color="#fff76d"/><stop offset="0.2932" stop-color="#fffd94"/><stop offset="0.2953" stop-color="#ffffb4"/><stop offset="0.2994" stop-color="#ffffe0"/><stop offset="0.3035" stop-color="#fffff8"/><stop offset="0.3097" stop-color="#ffffff"/><stop offset="0.3261" stop-color="#fffffa"/><stop offset="0.3529" stop-color="#ffffc1"/><stop offset="0.3817" stop-color="#ffff69"/><stop offset="0.3858" stop-color="#ffff51"/><stop offset="0.3899" stop-color="#fffa26"/><stop offset="0.3920" stop-color="#ffed12"/><stop offset="0.3940" stop-color="#fed006"/><stop offset="0.3961" stop-color="#fb9d02"/><stop offset="0.3981" stop-color="#f15f00"/><stop offset="0.4002" stop-color="#de2b00"/><stop offset="0.4023" stop-color="#c30e00"/><stop offset="0.4043" stop-color="#a90300"/><stop offset="0.4064" stop-color="#940000"/><stop offset="0.4105" stop-color="#7b0000"/><stop offset="0.4187" stop-color="#700000"/><stop offset="0.4434" stop-color="#6a0000"/><stop offset="0.5772" stop-color="#790000"/><stop offset="0.7603" stop-color="#a50000"/><stop offset="1.0000" stop-color="#be0000"/></linearGradient>
<linearGradient id="gd49"><stop offset="0.0000" stop-color="#300000"/><stop offset="0.0195" stop-color="#320000"/><stop offset="0.0319" stop-color="#3e0000"/><stop offset="0.2130" stop-color="#440000"/><stop offset="0.2685" stop-color="#5d0000"/><stop offset="0.2726" stop-color="#660000"/><stop offset="0.2767" stop-color="#7d0100"/><stop offset="0.2788" stop-color="#950500"/><stop offset="0.2809" stop-color="#b61300"/><stop offset="0.2829" stop-color="#d93602"/><stop offset="0.2850" stop-color="#f16e08"/><stop offset="0.2870" stop-color="#fcab18"/><stop offset="0.2891" stop-color="#feda36"/><stop offset="0.2912" stop-color="#fff35c"/><stop offset="0.2932" stop-color="#fffc82"/><stop offset="0.2953" stop-color="#ffffa4"/><stop offset="0.2973" stop-color="#ffffbf"/><stop offset="0.3014" stop-color="#ffffe4"/><stop offset="0.3056" stop-color="#fffff9"/><stop offset="0.3138" stop-color="#ffffff"/><stop offset="0.3261" stop-color="#fffffa"/><stop offset="0.3529" stop-color="#ffffc1"/><stop offset="0.3817" stop-color="#ffff69"/><stop offset="0.3858" stop-color="#ffff51"/><stop offset="0.3899" stop-color="#fffa26"/><stop offset="0.3920" stop-color="#ffed12"/><stop offset="0.3940" stop-color="#fed006"/><stop offset="0.3961" stop-color="#fb9d02"/><stop offset="0.3981" stop-color="#f15f00"/><stop offset="0.4002" stop-color="#de2b00"/><stop offset="0.4023" stop-color="#c30e00"/><stop offset="0.4043" stop-color="#a90300"/><stop offset="0.4064" stop-color="#940000"/><stop offset="0.4105" stop-color="#7b0000"/><stop offset="0.4187" stop-color="#700000"/><stop offset="0.4434" stop-color="#6a0000"/><stop offset="0.5772" stop-color="#790000"/><stop offset="0.7603" stop-color="#a50000"/><stop offset="1.0000" stop-color="#be0000"/></linearGradient>
<linearGradient id="gd50"><stop offset="0.0000" stop-color="#300000"/><stop offset="0.0195" stop-color="#320000"/><stop offset="0.0319" stop-color="#3e0000"/><stop offset="0.2130" stop-color="#440000"/><stop offset="0.2685" stop-color="#5e0000"/><stop offset="0.2747" stop-color="#710000"/><stop offset="0.2767" stop-color="#7d0000"/><stop offset="0.2788" stop-color="#920300"/><stop offset="0.2809" stop-color="#b10d00"/><stop offset="0.2829" stop-color="#d32700"/><stop offset="0.2850" stop-color="#ed5503"/><stop offset="0.2870" stop-color="#fa900b"/><stop offset="0.2891" stop-color="#fec61e"/><stop offset="0.2912" stop-color="#ffe83c"/><stop offset="0.2932" stop-color="#fff960"/><stop offset="0.2973" stop-color="#ffffa2"/><stop offset="0.3014" stop-color="#ffffce"/><stop offset="0.3076" stop-color="#fffff4"/><stop offset="0.3138" stop-color="#ffffff"/><stop offset="0.3261" stop-color="#fffffa"/><stop offset="0.3529" stop-color="#ffffc1"/><stop offset="0.3817" stop-color="#ffff69"/><stop offset="0.3858" stop-color="#ffff51"/><stop offset="0.3899" stop-color="#fffa26"/><stop offset="0.3920" stop-color="#ffed12"/><stop offset="0.3940" stop-color="#fed006"/><stop offset="0.3961" stop-color="#fb9d02"/><stop offset="0.3981" stop-color="#f15f00"/><stop offset="0.4002" stop-color="#de2b00"/><stop offset="0.4023" stop-color="#c30e00"/><stop offset="0.4043" stop-color="#a90300"/><stop offset="0.4064" stop-color="#940000"/><stop offset="0.4105" stop-color="#7b0000"/><stop offset="0.4187" stop-color="#700000"/><stop offset="0.4434" stop-color="#6a0000"/><stop offset="0.5772" stop-color="#790000"/><stop offset="0.7603" stop-color="#a50000"/><stop offset="1.0000" stop-color="#be0000"/></linearGradient>
<linearGradient id="gd51"><stop offset="0.0000" stop-color="#300000"/><stop offset="0.0195" stop-color="#320000"/><stop offset="0.0319" stop-color="#3e0000"/><stop offset="0.2130" stop-color="#440000"/><stop offset="0.2665" stop-color="#5c0000"/><stop offset="0.2726" stop-color="#6a0000"/><stop offset="0.2767" stop-color="#7d0000"/><stop offset="0.2788" stop-color="#8f0200"/><stop offset="0.2809" stop-color="#ab0800"/><stop offset="0.2829" stop-color="#cd1b00"/><stop offset="0.2850" stop-color="#e94001"/><stop offset="0.2870" stop-color="#f87504"/><stop offset="0.2891" stop-color="#fdac0f"/><stop offset="0.2912" stop-color="#ffd823"/><stop offset="0.2932" stop-color="#fff142"/><stop offset="0.2953" stop-color="#fffc63"/><stop offset="0.2994" stop-color="#ffff9f"/><stop offset="0.3035" stop-color="#ffffc7"/><stop offset="0.3097" stop-color="#ffffed"/><stop offset="0.3158" stop-color="#fffffe"/><stop offset="0.3261" stop-color="#fffffa"/><stop offset="0.3529" stop-color="#ffffc1"/><stop offset="0.3817" stop-color="#ffff69"/><stop offset="0.3858" stop-color="#ffff51"/><stop offset="0.3899" stop-color="#fffa26"/><stop offset="0.3920" stop-color="#ffed12"/><stop offset="0.3940" stop-color="#fed006"/><stop offset="0.3961" stop-color="#fb9d02"/><stop offset="0.3981" stop-color="#f15f00"/><stop offset="0.4002" stop-color="#de2b00"/><stop offset="0.4023" stop-color="#c30e00"/><stop offset="0.4043" stop-color="#a90300"/><stop offset="0.4064" stop-color="#940000"/><stop offset="0.4105" stop-color="#7b0000"/><stop offset="0.4187" stop-color="#700000"/><stop offset="0.4434" stop-color="#6a0000"/><stop offset="0.5772" stop-color="#790000"/><stop offset="0.7603" stop-color="#a50000"/><stop offset="1.0000" stop-color="#be0000"/></linearGradient>
<linearGradient id="gd52"><stop offset="0.0000" stop-color="#300000"/><stop offset="0.0195" stop-color="#320000"/><stop offset="0.0319" stop-color="#3e0000"/><stop offset="0.2130" stop-color="#440000"/><stop offset="0.2644" stop-color="#5b0000"/><stop offset="0.2726" stop-color="#6d0000"/><stop offset="0.2767" stop-color="#7e0000"/><stop offset="0.2788" stop-color="#8d0100"/><stop offset="0.2809" stop-color="#a70500"/><stop offset="0.2829" stop-color="#c81200"/><stop offset="0.2850" stop-color="#e52f00"/><stop offset="0.2870" stop-color="#f65c01"/><stop offset="0.2891" stop-color="#fd9206"/><stop offset="0.2912" stop-color="#ffc313"/><stop offset="0.2932" stop-color="#ffe52a"/><stop offset="0.2953" stop-color="#fff747"/><stop offset="0.2994" stop-color="#ffff83"/><stop offset="0.3035" stop-color="#ffffb1"/><stop offset="0.3097" stop-color="#ffffdc"/><stop offset="0.3158" stop-color="#fffff7"/><stop offset="0.3220" stop-color="#fffffe"/><stop offset="0.3344" stop-color="#ffffea"/><stop offset="0.3549" stop-color="#ffffbb"/><stop offset="0.3817" stop-color="#ffff69"/><stop offset="0.3858" stop-color="#ffff51"/><stop offset="0.3899" stop-color="#fffa26"/><stop offset="0.3920" stop-color="#ffed12"/><stop offset="0.3940" stop-color="#fed006"/><stop offset="0.3961" stop-color="#fb9d02"/><stop offset="0.3981" stop-color="#f15f00"/><stop offset="0.4002" stop-color="#de2b00"/><stop offset="0.4023" stop-color="#c30e00"/><stop offset="0.4043" stop-color="#a90300"/><stop offset="0.4064" stop-color="#940000"/><stop offset="0.4105" stop-color="#7b0000"/><stop offset="0.4187" stop-color="#700000"/><stop offset="0.4434" stop-color="#6a0000"/><stop offset="0.5772" stop-color="#790000"/><stop offset="0.7603" stop-color="#a50000"/><stop offset="1.0000" stop-color="#be0000"/></linearGradient>
<linearGradient id="gd53"><stop offset="0.0000" stop-color="#300000"/><stop offset="0.0195" stop-color="#320000"/><stop offset="0.0319" stop-color="#3e0000"/><stop offset="0.2130" stop-color="#440000"/><stop offset="0.2644" stop-color="#5c0000"/><stop offset="0.2747" stop-color="#750000"/><stop offset="0.2788" stop-color="#8b0000"/><stop offset="0.2809" stop-color="#a30300"/><stop offset="0.2829" stop-color="#c30b00"/><stop offset="0.2850" stop-color="#e12100"/><stop offset="0.2870" stop-color="#f54700"/><stop offset="0.2912" stop-color="#ffab09"/><stop offset="0.2932" stop-color="#ffd418"/><stop offset="0.2953" stop-color="#ffee30"/><stop offset="0.2973" stop-color="#fffa4c"/><stop offset="0.3035" stop-color="#ffff99"/><stop offset="0.3076" stop-color="#ffffbe"/><stop offset="0.3158" stop-color="#ffffea"/><stop offset="0.3220" stop-color="#fffffc"/><stop offset="0.3302" stop-color="#fffff3"/><stop offset="0.3529" stop-color="#ffffc1"/><stop offset="0.3817" stop-color="#ffff69"/><stop offset="0.3858" stop-color="#ffff51"/><stop offset="0.3899" stop-color="#fffa26"/><stop offset="0.3920" stop-color="#ffed12"/><stop offset="0.3940" stop-color="#fed006"/><stop offset="0.3961" stop-color="#fb9d02"/><stop offset="0.3981" stop-color="#f15f00"/><stop offset="0.4002" stop-color="#de2b00"/><stop offset="0.4023" stop-color="#c30e00"/><stop offset="0.4043" stop-color="#a90300"/><stop offset="0.4064" stop-color="#940000"/><stop offset="0.4105" stop-color="#7b0000"/><stop offset="0.4187" stop-color="#700000"/><stop offset="0.4434" stop-color="#6a0000"/><stop offset="0.5772" stop-color="#790000"/><stop offset="0.7603" stop-color="#a50000"/><stop offset="1.0000" stop-color="#be0000"/></linearGradient>
<linearGradient id="gd54"><stop offset="0.0000" stop-color="#300000"/><stop offset="0.0195" stop-color="#320000"/><stop offset="0.0319" stop-color="#3e0000"/><stop offset="0.2130" stop-color="#440000"/><stop offset="0.2623" stop-color="#5a0000"/><stop offset="0.2726" stop-color="#700000"/><stop offset="0.2767" stop-color="#7d0000"/><stop offset="0.2788" stop-color="#890000"/><stop offset="0.2809" stop-color="#9d0200"/><stop offset="0.2829" stop-color="#ba0700"/><stop offset="0.2850" stop-color="#d91600"/><stop offset="0.2870" stop-color="#ef3300"/><stop offset="0.2891" stop-color="#fa5d01"/><stop offset="0.2932" stop-color="#ffba0b"/><stop offset="0.2953" stop-color="#ffdd1b"/><stop offset="0.2973" stop-color="#fff232"/><stop offset="0.2994" stop-color="#fffb4d"/><stop offset="0.3056" stop-color="#ffff95"/><stop offset="0.3097" stop-color="#ffffb8"/><stop offset="0.3179" stop-color="#ffffe3"/><stop offset="0.3241" stop-color="#fffff7"/><stop offset="0.3302" stop-color="#fffff2"/><stop offset="0.3529" stop-color="#ffffc1"/><stop offset="0.3817" stop-color="#ffff69"/><stop offset="0.3858" stop-color="#ffff51"/><stop offset="0.3899" stop-color="#fffa26"/><stop offset="0.3920" stop-color="#ffed12"/><stop offset="0.3940" stop-color="#fed006"/><stop offset="0.3961" stop-color="#fb9d02"/><stop offset="0.3981" stop-color="#f15f00"/><stop offset="0.4002" stop-color="#de2b00"/><stop offset="0.4023" stop-color="#c30e00"/><stop offset="0.4043" stop-color="#a90300"/><stop offset="0.4064" stop-color="#940000"/><stop offset="0.4105" stop-color="#7b0000"/><stop offset="0.4187" stop-color="#700000"/><stop offset="0.4434" stop-color="#6a0000"/><stop offset="0.5772" stop-color="#790000"/><stop offset="0.7603" stop-color="#a50000"/><stop offset="1.0000" stop-color="#be0000"/></linearGradient>
<linearGradient id="gd55"><stop offset="0.0000" stop-color="#300000"/><stop offset="0.0195" stop-color="#320000"/><stop offset="0.0319" stop-color="#3e0000"/><stop offset="0.2130" stop-color="#440000"/><stop offset="0.2623" stop-color="#5a0000"/><stop offset="0.2747" stop-color="#750000"/><stop offset="0.2788" stop-color="#850000"/><stop offset="0.2809" stop-color="#950100"/><stop offset="0.2850" stop-color="#cd0b00"/><stop offset="0.2870" stop-color="#e71f00"/><stop offset="0.2891" stop-color="#f74000"/><stop offset="0.2932" stop-color="#ff9803"/><stop offset="0.2953" stop-color="#ffc10b"/><stop offset="0.2973" stop-color="#ffe11a"/><stop offset="0.2994" stop-color="#fff431"/><stop offset="0.3035" stop-color="#fffe63"/><stop offset="0.3097" stop-color="#ffffa1"/><stop offset="0.3158" stop-color="#ffffc9"/><stop offset="0.3241" stop-color="#ffffeb"/><stop offset="0.3282" stop-color="#fffff2"/><stop offset="0.3405" stop-color="#ffffdd"/><stop offset="0.3591" stop-color="#ffffaf"/><stop offset="0.3817" stop-color="#ffff69"/><stop offset="0.3858" stop-color="#ffff51"/><stop offset="0.3899" stop-color="#fffa26"/><stop offset="0.3920" stop-color="#ffed12"/><stop offset="0.3940" stop-color="#fed006"/><stop offset="0.3961" stop-color="#fb9d02"/><stop offset="0.3981" stop-color="#f15f00"/><stop offset="0.4002" stop-color="#de2b00"/><stop offset="0.4023" stop-color="#c30e00"/><stop offset="0.4043" stop-color="#a90300"/><stop offset="0.4064" stop-color="#940000"/><stop offset="0.4105" stop-color="#7b0000"/><stop offset="0.4187" stop-color="#700000"/><stop offset="0.4434" stop-color="#6a0000"/><stop offset="0.5772" stop-color="#790000"/><stop offset="0.7603" stop-color="#a50000"/><stop offset="1.0000" stop-color="#be0000"/></linearGradient>
<linearGradient id="gd56"><stop offset="0.0000" stop-color="#300000"/><stop offset="0.0195" stop-color="#320000"/><stop offset="0.0319" stop-color="#3e0000"/><stop offset="0.2130" stop-color="#440000"/><stop offset="0.2623" stop-color="#5b0000"/><stop offset="0.2767" stop-color="#7a0000"/><stop offset="0.2809" stop-color="#8d0000"/><stop offset="0.2829" stop-color="#a20100"/><stop offset="0.2850" stop-color="#be0500"/><stop offset="0.2870" stop-color="#db1100"/><stop offset="0.2891" stop-color="#f02900"/><stop offset="0.2912" stop-color="#fa4c00"/><stop offset="0.2953" stop-color="#ffa103"/><stop offset="0.2973" stop-color="#ffc70b"/><stop offset="0.2994" stop-color="#ffe41a"/><stop offset="0.3014" stop-color="#fff530"/><stop offset="0.3056" stop-color="#fffe5e"/><stop offset="0.3138" stop-color="#ffffaa"/><stop offset="0.3200" stop-color="#ffffcc"/><stop offset="0.3282" stop-color="#ffffe9"/><stop offset="0.3344" stop-color="#ffffe9"/><stop offset="0.3549" stop-color="#ffffbb"/><stop offset="0.3817" stop-color="#ffff69"/><stop offset="0.3858" stop-color="#ffff51"/><stop offset="0.3899" stop-color="#fffa26"/><stop offset="0.3920" stop-color="#ffed12"/><stop offset="0.3940" stop-color="#fed006"/><stop offset="0.3961" stop-color="#fb9d02"/><stop offset="0.3981" stop-color="#f15f00"/><stop offset="0.4002" stop-color="#de2b00"/><stop offset="0.4023" stop-color="#c30e00"/><stop offset="0.4043" stop-color="#a90300"/><stop offset="0.4064" stop-color="#940000"/><stop offset="0.4105" stop-color="#7b0000"/><stop offset="0.4187" stop-color="#700000"/><stop offset="0.4434" stop-color="#6a0000"/><stop offset="0.5772" stop-color="#790000"/><stop offset="0.7603" stop-color="#a50000"/><stop offset="1.0000" stop-color="#be0000"/></linearGradient>
<linearGradient id="gd57"><stop offset="0.0000" stop-color="#300000"/><stop offset="0.0195" stop-color="#320000"/><stop offset="0.0319" stop-color="#3e0000"/><stop offset="0.2130" stop-color="#440000"/><stop offset="0.2623" stop-color="#5b0000"/><stop offset="0.2788" stop-color="#7f0000"/><stop offset="0.2809" stop-color="#880000"/><stop offset="0.2829" stop-color="#970000"/><stop offset="0.2870" stop-color="#cd0800"/><stop offset="0.2891" stop-color="#e61700"/><stop offset="0.2912" stop-color="#f63200"/><stop offset="0.2953" stop-color="#ff7e01"/><stop offset="0.2994" stop-color="#ffca0a"/><stop offset="0.3014" stop-color="#ffe518"/><stop offset="0.3035" stop-color="#fff52d"/><stop offset="0.3076" stop-color="#fffe59"/><stop offset="0.3158" stop-color="#ffffa2"/><stop offset="0.3220" stop-color="#ffffc5"/><stop offset="0.3302" stop-color="#ffffe2"/><stop offset="0.3364" stop-color="#ffffe5"/><stop offset="0.3549" stop-color="#ffffbb"/><stop offset="0.3817" stop-color="#ffff69"/><stop offset="0.3858" stop-color="#ffff51"/><stop offset="0.3899" stop-color="#fffa26"/><stop offset="0.3920" stop-color="#ffed12"/><stop offset="0.3940" stop-color="#fed006"/><stop offset="0.3961" stop-color="#fb9d02"/><stop offset="0.3981" stop-color="#f15f00"/><stop offset="0.4002" stop-color="#de2b00"/><stop offset="0.4023" stop-color="#c30e00"/><stop offset="0.4043" stop-color="#a90300"/><stop offset="0.4064" stop-color="#940000"/><stop offset="0.4105" stop-color="#7b0000"/><stop offset="0.4187" stop-color="#700000"/><stop offset="0.4434" stop-color="#6a0000"/><stop offset="0.5772" stop-color="#790000"/><stop offset="0.7603" stop-color="#a50000"/><stop offset="1.0000" stop-color="#be0000"/></linearGradient>
<linearGradient id="gd58"><stop offset="0.0000" stop-color="#300000"/><stop offset="0.0195" stop-color="#320000"/><stop offset="0.0319" stop-color="#3e0000"/><stop offset="0.2130" stop-color="#440000"/><stop offset="0.2623" stop-color="#5b0000"/><stop offset="0.2809" stop-color="#810000"/><stop offset="0.2829" stop-color="#8b0000"/><stop offset="0.2850" stop-color="#9b0000"/><stop offset="0.2891" stop-color="#cf0900"/><stop offset="0.2912" stop-color="#e71700"/><stop offset="0.2932" stop-color="#f63000"/><stop offset="0.2973" stop-color="#fe7600"/><stop offset="0.3014" stop-color="#ffc007"/><stop offset="0.3035" stop-color="#ffdc12"/><stop offset="0.3056" stop-color="#fff023"/><stop offset="0.3076" stop-color="#fffa39"/><stop offset="0.3158" stop-color="#ffff84"/><stop offset="0.3220" stop-color="#ffffb1"/><stop offset="0.3302" stop-color="#ffffd3"/><stop offset="0.3364" stop-color="#ffffe0"/><stop offset="0.3467" stop-color="#ffffd0"/><stop offset="0.3796" stop-color="#ffff71"/><stop offset="0.3837" stop-color="#ffff60"/><stop offset="0.3879" stop-color="#fffe3d"/><stop offset="0.3899" stop-color="#fffa26"/><stop offset="0.3920" stop-color="#ffed12"/><stop offset="0.3940" stop-color="#fed006"/><stop offset="0.3961" stop-color="#fb9d02"/><stop offset="0.3981" stop-color="#f15f00"/><stop offset="0.4002" stop-color="#de2b00"/><stop offset="0.4023" stop-color="#c30e00"/><stop offset="0.4043" stop-color="#a90300"/><stop offset="0.4064" stop-color="#940000"/><stop offset="0.4105" stop-color="#7b0000"/><stop offset="0.4187" stop-color="#700000"/><stop offset="0.4434" stop-color="#6a0000"/><stop offset="0.5772" stop-color="#790000"/><stop offset="0.7603" stop-color="#a50000"/><stop offset="1.0000" stop-color="#be0000"/></linearGradient>
<linearGradient id="gd59"><stop offset="0.0000" stop-color="#300000"/><stop offset="0.0195" stop-color="#320000"/><stop offset="0.0319" stop-color="#3e0000"/><stop offset="0.2130" stop-color="#440000"/><stop offset="0.2623" stop-color="#5a0000"/><stop offset="0.2829" stop-color="#820000"/><stop offset="0.2850" stop-color="#8b0000"/><stop offset="0.2870" stop-color="#9c0000"/><stop offset="0.2912" stop-color="#cf0700"/><stop offset="0.2932" stop-color="#e61300"/><stop offset="0.2953" stop-color="#f52900"/><stop offset="0.2994" stop-color="#fe6a00"/><stop offset="0.3035" stop-color="#ffb203"/><stop offset="0.3056" stop-color="#ffd10b"/><stop offset="0.3076" stop-color="#ffe818"/><stop offset="0.3097" stop-color="#fff62b"/><stop offset="0.3138" stop-color="#fffe53"/><stop offset="0.3241" stop-color="#ffffa3"/><stop offset="0.3302" stop-color="#ffffc3"/><stop offset="0.3385" stop-color="#ffffd9"/><stop offset="0.3447" stop-color="#ffffd5"/><stop offset="0.3735" stop-color="#ffff85"/><stop offset="0.3837" stop-color="#ffff60"/><stop offset="0.3879" stop-color="#fffe3d"/><stop offset="0.3899" stop-color="#fffa26"/><stop offset="0.3920" stop-color="#ffed12"/><stop offset="0.3940" stop-color="#fed006"/><stop offset="0.3961" stop-color="#fb9d02"/><stop offset="0.3981" stop-color="#f15f00"/><stop offset="0.4002" stop-color="#de2b00"/><stop offset="0.4023" stop-color="#c30e00"/><stop offset="0.4043" stop-color="#a90300"/><stop offset="0.4064" stop-color="#940000"/><stop offset="0.4105" stop-color="#7b0000"/><stop offset="0.4187" stop-color="#700000"/><stop offset="0.4434" stop-color="#6a0000"/><stop offset="0.5772" stop-color="#790000"/><stop offset="0.7603" stop-color="#a50000"/><stop offset="1.0000" stop-color="#be0000"/></linearGradient>
<linearGradient id="gd60"><stop offset="0.0000" stop-color="#300000"/><stop offset="0.0195" stop-color="#320000"/><stop offset="0.0319" stop-color="#3e0000"/><stop offset="0.2130" stop-color="#440000"/><stop offset="0.2644" stop-color="#5c0000"/><stop offset="0.2850" stop-color="#830000"/><stop offset="0.2870" stop-color="#8d0000"/><stop offset="0.2891" stop-color="#9e0000"/><stop offset="0.2932" stop-color="#d00600"/><stop offset="0.2953" stop-color="#e71200"/><stop offset="0.2973" stop-color="#f52700"/><stop offset="0.3014" stop-color="#fe6400"/><stop offset="0.3076" stop-color="#ffc807"/><stop offset="0.3097" stop-color="#ffe211"/><stop offset="0.3117" stop-color="#fff222"/><stop offset="0.3158" stop-color="#fffe4a"/><stop offset="0.3282" stop-color="#ffffa6"/><stop offset="0.3344" stop-color="#ffffc3"/><stop offset="0.3405" stop-color="#ffffd3"/><stop offset="0.3467" stop-color="#ffffd0"/><stop offset="0.3796" stop-color="#ffff71"/><stop offset="0.3837" stop-color="#ffff60"/><stop offset="0.3879" stop-color="#fffe3d"/><stop offset="0.3899" stop-color="#fffa26"/><stop offset="0.3920" stop-color="#ffed12"/><stop offset="0.3940" stop-color="#fed006"/><stop offset="0.3961" stop-color="#fb9d02"/><stop offset="0.3981" stop-color="#f15f00"/><stop offset="0.4002" stop-color="#de2b00"/><stop offset="0.4023" stop-color="#c30e00"/><stop offset="0.4043" stop-color="#a90300"/><stop offset="0.4064" stop-color="#940000"/><stop offset="0.4105" stop-color="#7b0000"/><stop offset="0.4187" stop-color="#700000"/><stop offset="0.4434" stop-color="#6a0000"/><stop offset="0.5772" stop-color="#790000"/><stop offset="0.7603" stop-color="#a50000"/><stop offset="1.0000" stop-color="#be0000"/></linearGradient>
<linearGradient id="gd61"><stop offset="0.0000" stop-color="#300000"/><stop offset="0.0195" stop-color="#320000"/><stop offset="0.0319" stop-color="#3e0000"/><stop offset="0.2130" stop-color="#440000"/><stop offset="0.2644" stop-color="#5b0000"/><stop offset="0.2870" stop-color="#840000"/><stop offset="0.2891" stop-color="#8d0000"/><stop offset="0.2912" stop-color="#9d0000"/><stop offset="0.2953" stop-color="#cd0500"/><stop offset="0.2973" stop-color="#e30f00"/><stop offset="0.2994" stop-color="#f32100"/><stop offset="0.3035" stop-color="#fe5900"/><stop offset="0.3097" stop-color="#ffba04"/><stop offset="0.3117" stop-color="#ffd50b"/><stop offset="0.3138" stop-color="#ffea18"/><stop offset="0.3158" stop-color="#fff62a"/><stop offset="0.3200" stop-color="#fffe4f"/><stop offset="0.3323" stop-color="#ffffa6"/><stop offset="0.3385" stop-color="#ffffc2"/><stop offset="0.3447" stop-color="#ffffcf"/><stop offset="0.3508" stop-color="#ffffc6"/><stop offset="0.3817" stop-color="#ffff69"/><stop offset="0.3858" stop-color="#ffff51"/><stop offset="0.3899" stop-color="#fffa26"/><stop offset="0.3920" stop-color="#ffed12"/><stop offset="0.3940" stop-color="#fed006"/><stop offset="0.3961" stop-color="#fb9d02"/><stop offset="0.3981" stop-color="#f15f00"/><stop offset="0.4002" stop-color="#de2b00"/><stop offset="0.4023" stop-color="#c30e00"/><stop offset="0.4043" stop-color="#a90300"/><stop offset="0.4064" stop-color="#940000"/><stop offset="0.4105" stop-color="#7b0000"/><stop offset="0.4187" stop-color="#700000"/><stop offset="0.4434" stop-color="#6a0000"/><stop offset="0.5772" stop-color="#790000"/><stop offset="0.7603" stop-color="#a50000"/><stop offset="1.0000" stop-color="#be0000"/></linearGradient>
<linearGradient id="gd62"><stop offset="0.0000" stop-color="#2f0000"/><stop offset="0.0195" stop-color="#320000"/><stop offset="0.0319" stop-color="#3e0000"/><stop offset="0.2130" stop-color="#440000"/><stop offset="0.2665" stop-color="#5c0000"/><stop offset="0.2891" stop-color="#820000"/><stop offset="0.2932" stop-color="#970000"/><stop offset="0.2973" stop-color="#c30300"/><stop offset="0.2994" stop-color="#da0900"/><stop offset="0.3014" stop-color="#ed1600"/><stop offset="0.3035" stop-color="#f82b00"/><stop offset="0.3097" stop-color="#ff8300"/><stop offset="0.3138" stop-color="#ffc004"/><stop offset="0.3158" stop-color="#ffd90c"/><stop offset="0.3179" stop-color="#ffec19"/><stop offset="0.3220" stop-color="#fffc3d"/><stop offset="0.3344" stop-color="#ffff94"/><stop offset="0.3405" stop-color="#ffffb6"/><stop offset="0.3467" stop-color="#ffffc6"/><stop offset="0.3529" stop-color="#ffffbf"/><stop offset="0.3796" stop-color="#ffff71"/><stop offset="0.3837" stop-color="#ffff60"/><stop offset="0.3879" stop-color="#fffe3d"/><stop offset="0.3899" stop-color="#fffa26"/><stop offset="0.3920" stop-color="#ffed12"/><stop offset="0.3940" stop-color="#fed006"/><stop offset="0.3961" stop-color="#fb9d02"/><stop offset="0.3981" stop-color="#f15f00"/><stop offset="0.4002" stop-color="#de2b00"/><stop offset="0.4023" stop-color="#c30e00"/><stop offset="0.4043" stop-color="#a90300"/><stop offset="0.4064" stop-color="#930000"/><stop offset="0.4105" stop-color="#7b0000"/><stop offset="0.4187" stop-color="#6f0000"/><stop offset="0.4434" stop-color="#6a0000"/><stop offset="0.5772" stop-color="#790000"/><stop offset="0.7603" stop-color="#a50000"/><stop offset="1.0000" stop-color="#be0000"/></linearGradient>
<linearGradient id="gd63"><stop offset="0.0000" stop-color="#2e0000"/><stop offset="0.0216" stop-color="#330000"/><stop offset="0.0319" stop-color="#3c0000"/><stop offset="0.2130" stop-color="#420000"/><stop offset="0.2685" stop-color="#5b0000"/><stop offset="0.2932" stop-color="#840000"/><stop offset="0.2973" stop-color="#9a0000"/><stop offset="0.3014" stop-color="#c20400"/><stop offset="0.3056" stop-color="#ea1600"/><stop offset="0.3097" stop-color="#fb4100"/><stop offset="0.3179" stop-color="#ffb403"/><stop offset="0.3220" stop-color="#ffe213"/><stop offset="0.3261" stop-color="#fff832"/><stop offset="0.3344" stop-color="#ffff6e"/><stop offset="0.3426" stop-color="#ffff9c"/><stop offset="0.3488" stop-color="#ffffa5"/><stop offset="0.3632" stop-color="#ffff99"/><stop offset="0.3776" stop-color="#ffff77"/><stop offset="0.3837" stop-color="#ffff60"/><stop offset="0.3879" stop-color="#fffe3d"/><stop offset="0.3899" stop-color="#fffa26"/><stop offset="0.3920" stop-color="#ffed12"/><stop offset="0.3940" stop-color="#fed006"/><stop offset="0.3961" stop-color="#fb9d02"/><stop offset="0.3981" stop-color="#f15f00"/><stop offset="0.4002" stop-color="#de2b00"/><stop offset="0.4023" stop-color="#c30e00"/><stop offset="0.4043" stop-color="#a80300"/><stop offset="0.4064" stop-color="#920000"/><stop offset="0.4105" stop-color="#770000"/><stop offset="0.4167" stop-color="#6d0000"/><stop offset="0.4414" stop-color="#670000"/><stop offset="0.5772" stop-color="#750000"/><stop offset="0.7623" stop-color="#a00000"/><stop offset="1.0000" stop-color="#b80000"/></linearGradient>
<linearGradient id="gd64"><stop offset="0.0000" stop-color="#2c0000"/><stop offset="0.0216" stop-color="#300000"/><stop offset="0.0340" stop-color="#390000"/><stop offset="0.2130" stop-color="#3e0000"/><stop offset="0.2726" stop-color="#580000"/><stop offset="0.2973" stop-color="#810000"/><stop offset="0.3014" stop-color="#920000"/><stop offset="0.3056" stop-color="#b30200"/><stop offset="0.3097" stop-color="#d90d00"/><stop offset="0.3138" stop-color="#f32d00"/><stop offset="0.3200" stop-color="#fe7900"/><stop offset="0.3261" stop-color="#ffc809"/><stop offset="0.3302" stop-color="#ffeb1e"/><stop offset="0.3344" stop-color="#fffb3d"/><stop offset="0.3405" stop-color="#ffff61"/><stop offset="0.3467" stop-color="#ffff69"/><stop offset="0.3755" stop-color="#ffff66"/><stop offset="0.3837" stop-color="#ffff57"/><stop offset="0.3858" stop-color="#ffff4b"/><stop offset="0.3899" stop-color="#fffa24"/><stop offset="0.3920" stop-color="#ffed12"/><stop offset="0.3940" stop-color="#fed006"/><stop offset="0.3961" stop-color="#fb9d02"/><stop offset="0.3981" stop-color="#f15f00"/><stop offset="0.4002" stop-color="#de2b00"/><stop offset="0.4023" stop-color="#c30e00"/><stop offset="0.4043" stop-color="#a70300"/><stop offset="0.4084" stop-color="#7e0000"/><stop offset="0.4126" stop-color="#6c0000"/><stop offset="0.4372" stop-color="#610000"/><stop offset="0.5792" stop-color="#700000"/><stop offset="0.7623" stop-color="#980000"/><stop offset="1.0000" stop-color="#af0000"/></linearGradient>
<linearGradient id="gd65"><stop offset="0.0000" stop-color="#290000"/><stop offset="0.0216" stop-color="#2d0000"/><stop offset="0.0340" stop-color="#360000"/><stop offset="0.2150" stop-color="#3b0000"/><stop offset="0.2809" stop-color="#550000"/><stop offset="0.3056" stop-color="#820000"/><stop offset="0.3097" stop-color="#940000"/><stop offset="0.3158" stop-color="#c30800"/><stop offset="0.3200" stop-color="#e11d00"/><stop offset="0.3241" stop-color="#f54200"/><stop offset="0.3323" stop-color="#ffa805"/><stop offset="0.3364" stop-color="#ffd210"/><stop offset="0.3405" stop-color="#ffe519"/><stop offset="0.3652" stop-color="#ffe91c"/><stop offset="0.3858" stop-color="#ffe919"/><stop offset="0.3899" stop-color="#ffe60e"/><stop offset="0.3920" stop-color="#ffdc07"/><stop offset="0.3940" stop-color="#fec303"/><stop offset="0.3961" stop-color="#fb9601"/><stop offset="0.3981" stop-color="#f15c00"/><stop offset="0.4002" stop-color="#de2b00"/><stop offset="0.4023" stop-color="#c20e00"/><stop offset="0.4043" stop-color="#a60300"/><stop offset="0.4084" stop-color="#7a0000"/><stop offset="0.4105" stop-color="#6d0000"/><stop offset="0.4146" stop-color="#630000"/><stop offset="0.4414" stop-color="#5c0000"/><stop offset="0.5813" stop-color="#690000"/><stop offset="0.7644" stop-color="#8f0000"/><stop offset="1.0000" stop-color="#a40000"/></linearGradient>
<linearGradient id="gd66"><stop offset="0.0000" stop-color="#230000"/><stop offset="0.0216" stop-color="#270000"/><stop offset="0.0360" stop-color="#2e0000"/><stop offset="0.2150" stop-color="#330000"/><stop offset="0.2891" stop-color="#4a0000"/><stop offset="0.3076" stop-color="#720000"/><stop offset="0.3158" stop-color="#830000"/><stop offset="0.3220" stop-color="#a10200"/><stop offset="0.3282" stop-color="#d21100"/><stop offset="0.3323" stop-color="#ee2c00"/><stop offset="0.3364" stop-color="#fa5200"/><stop offset="0.3405" stop-color="#fc6e00"/><stop offset="0.3467" stop-color="#fc7500"/><stop offset="0.3920" stop-color="#fc7200"/><stop offset="0.3940" stop-color="#fb6a00"/><stop offset="0.3961" stop-color="#f85700"/><stop offset="0.3981" stop-color="#ef3900"/><stop offset="0.4002" stop-color="#dc1c00"/><stop offset="0.4023" stop-color="#c10a00"/><stop offset="0.4064" stop-color="#880000"/><stop offset="0.4084" stop-color="#700000"/><stop offset="0.4105" stop-color="#600000"/><stop offset="0.4146" stop-color="#550000"/><stop offset="0.4434" stop-color="#4f0000"/><stop offset="0.5874" stop-color="#5c0000"/><stop offset="0.7706" stop-color="#7b0000"/><stop offset="1.0000" stop-color="#8d0000"/></linearGradient>
<linearGradient id="gd67"><stop offset="0.0000" stop-color="#1a0000"/><stop offset="0.0237" stop-color="#1f0000"/><stop offset="0.0586" stop-color="#230000"/><stop offset="0.2212" stop-color="#270000"/><stop offset="0.2932" stop-color="#370000"/><stop offset="0.2973" stop-color="#450000"/><stop offset="0.3014" stop-color="#5c0000"/><stop offset="0.3117" stop-color="#700000"/><stop offset="0.3241" stop-color="#840000"/><stop offset="0.3323" stop-color="#af0100"/><stop offset="0.3385" stop-color="#ba0700"/><stop offset="0.3961" stop-color="#b90700"/><stop offset="0.4002" stop-color="#ae0300"/><stop offset="0.4043" stop-color="#8f0000"/><stop offset="0.4084" stop-color="#5e0000"/><stop offset="0.4105" stop-color="#4c0000"/><stop offset="0.4146" stop-color="#400000"/><stop offset="0.4516" stop-color="#3b0000"/><stop offset="0.6039" stop-color="#470000"/><stop offset="0.7850" stop-color="#5d0000"/><stop offset="1.0000" stop-color="#690000"/></linearGradient>
<linearGradient id="gd68"><stop offset="0.0000" stop-color="#100000"/><stop offset="0.0813" stop-color="#150000"/><stop offset="0.2356" stop-color="#1a0000"/><stop offset="0.2932" stop-color="#210000"/><stop offset="0.2973" stop-color="#2e0000"/><stop offset="0.3014" stop-color="#420000"/><stop offset="0.3097" stop-color="#4a0000"/><stop offset="0.3591" stop-color="#500000"/><stop offset="0.4023" stop-color="#4e0000"/><stop offset="0.4064" stop-color="#410000"/><stop offset="0.4105" stop-color="#2d0000"/><stop offset="0.4187" stop-color="#250000"/><stop offset="0.6121" stop-color="#2c0000"/><stop offset="0.8364" stop-color="#3a0000"/><stop offset="1.0000" stop-color="#400000"/></linearGradient>
<linearGradient id="cbar" x1="0" y1="1" x2="0" y2="0"><stop offset="0" stop-color="#000"/><stop offset="0.375" stop-color="#f00"/><stop offset="0.75" stop-color="#ff0"/><stop offset="1" stop-color="#fff"/></linearGradient>
</defs>
<rect x="0" y="0" width="709" height="406" fill="#fff"/>
<g fill="#f6f6f6">
<rect x="0" y="0" width="709" height="2"/>
<rect x="0" y="0" width="4" height="406"/>
<rect x="0" y="403" width="709" height="3"/>
<rect x="706.5" y="0" width="2.5" height="406"/>
</g>

<g shape-rendering="crispEdges"><rect x="405.20" y="26.80" width="244.80" height="2.20" fill="url(#gb0)"/>
<rect x="405.20" y="28.40" width="244.80" height="2.20" fill="url(#gb1)"/>
<rect x="405.20" y="29.99" width="244.80" height="2.20" fill="url(#gb2)"/>
<rect x="405.20" y="31.59" width="244.80" height="2.20" fill="url(#gb3)"/>
<rect x="405.20" y="33.18" width="244.80" height="2.20" fill="url(#gb4)"/>
<rect x="405.20" y="34.78" width="244.80" height="2.20" fill="url(#gb5)"/>
<rect x="405.20" y="36.37" width="244.80" height="2.20" fill="url(#gb6)"/>
<rect x="405.20" y="37.97" width="244.80" height="2.20" fill="url(#gb7)"/>
<rect x="405.20" y="39.56" width="244.80" height="2.20" fill="url(#gb8)"/>
<rect x="405.20" y="41.16" width="244.80" height="2.20" fill="url(#gb9)"/>
<rect x="405.20" y="42.75" width="244.80" height="2.20" fill="url(#gb10)"/>
<rect x="405.20" y="44.35" width="244.80" height="2.20" fill="url(#gb11)"/>
<rect x="405.20" y="45.94" width="244.80" height="2.20" fill="url(#gb12)"/>
<rect x="405.20" y="47.54" width="244.80" height="2.20" fill="url(#gb13)"/>
<rect x="405.20" y="49.13" width="244.80" height="2.20" fill="url(#gb14)"/>
<rect x="405.20" y="50.73" width="244.80" height="2.20" fill="url(#gb15)"/>
<rect x="405.20" y="52.32" width="244.80" height="2.20" fill="url(#gb16)"/>
<rect x="405.20" y="53.92" width="244.80" height="2.20" fill="url(#gb17)"/>
<rect x="405.20" y="55.52" width="244.80" height="2.20" fill="url(#gb18)"/>
<rect x="405.20" y="57.11" width="244.80" height="2.20" fill="url(#gb19)"/>
<rect x="405.20" y="58.71" width="244.80" height="2.20" fill="url(#gb20)"/>
<rect x="405.20" y="60.30" width="244.80" height="2.20" fill="url(#gb21)"/>
<rect x="405.20" y="61.90" width="244.80" height="2.20" fill="url(#gb22)"/>
<rect x="405.20" y="63.49" width="244.80" height="2.20" fill="url(#gb23)"/>
<rect x="405.20" y="65.09" width="244.80" height="2.20" fill="url(#gb24)"/>
<rect x="405.20" y="66.68" width="244.80" height="2.20" fill="url(#gb25)"/>
<rect x="405.20" y="68.28" width="244.80" height="2.20" fill="url(#gb26)"/>
<rect x="405.20" y="69.87" width="244.80" height="2.20" fill="url(#gb27)"/>
<rect x="405.20" y="71.47" width="244.80" height="2.20" fill="url(#gb28)"/>
<rect x="405.20" y="73.06" width="244.80" height="2.20" fill="url(#gb29)"/>
<rect x="405.20" y="74.66" width="244.80" height="2.20" fill="url(#gb30)"/>
<rect x="405.20" y="76.25" width="244.80" height="2.20" fill="url(#gb31)"/>
<rect x="405.20" y="77.85" width="244.80" height="2.20" fill="url(#gb32)"/>
<rect x="405.20" y="79.44" width="244.80" height="2.20" fill="url(#gb33)"/>
<rect x="405.20" y="81.04" width="244.80" height="2.20" fill="url(#gb34)"/>
<rect x="405.20" y="82.64" width="244.80" height="2.20" fill="url(#gb35)"/>
<rect x="405.20" y="84.23" width="244.80" height="2.20" fill="url(#gb36)"/>
<rect x="405.20" y="85.83" width="244.80" height="2.20" fill="url(#gb37)"/>
<rect x="405.20" y="87.42" width="244.80" height="2.20" fill="url(#gb38)"/>
<rect x="405.20" y="89.02" width="244.80" height="2.20" fill="url(#gb39)"/>
<rect x="405.20" y="90.61" width="244.80" height="2.20" fill="url(#gb40)"/>
<rect x="405.20" y="92.21" width="244.80" height="2.20" fill="url(#gb41)"/>
<rect x="405.20" y="93.80" width="244.80" height="2.20" fill="url(#gb42)"/>
<rect x="405.20" y="95.40" width="244.80" height="2.20" fill="url(#gb43)"/>
<rect x="405.20" y="96.99" width="244.80" height="2.20" fill="url(#gb44)"/>
<rect x="405.20" y="98.59" width="244.80" height="2.20" fill="url(#gb45)"/>
<rect x="405.20" y="100.18" width="244.80" height="2.20" fill="url(#gb46)"/>
<rect x="405.20" y="101.78" width="244.80" height="2.20" fill="url(#gb47)"/>
<rect x="405.20" y="103.37" width="244.80" height="2.20" fill="url(#gb48)"/>
<rect x="405.20" y="104.97" width="244.80" height="2.20" fill="url(#gb49)"/>
<rect x="405.20" y="106.56" width="244.80" height="2.20" fill="url(#gb50)"/>
<rect x="405.20" y="108.16" width="244.80" height="2.20" fill="url(#gb51)"/>
<rect x="405.20" y="109.76" width="244.80" height="2.20" fill="url(#gb52)"/>
<rect x="405.20" y="111.35" width="244.80" height="2.20" fill="url(#gb53)"/>
<rect x="405.20" y="112.95" width="244.80" height="2.20" fill="url(#gb54)"/>
<rect x="405.20" y="114.54" width="244.80" height="2.20" fill="url(#gb55)"/>
<rect x="405.20" y="116.14" width="244.80" height="2.20" fill="url(#gb56)"/>
<rect x="405.20" y="117.73" width="244.80" height="2.20" fill="url(#gb57)"/>
<rect x="405.20" y="119.33" width="244.80" height="2.20" fill="url(#gb58)"/>
<rect x="405.20" y="120.92" width="244.80" height="2.20" fill="url(#gb59)"/>
<rect x="405.20" y="122.52" width="244.80" height="2.20" fill="url(#gb60)"/>
<rect x="405.20" y="124.11" width="244.80" height="2.20" fill="url(#gb61)"/>
<rect x="405.20" y="125.71" width="244.80" height="2.20" fill="url(#gb62)"/>
<rect x="405.20" y="127.30" width="244.80" height="2.20" fill="url(#gb63)"/>
<rect x="405.20" y="128.90" width="244.80" height="2.20" fill="url(#gb64)"/>
<rect x="405.20" y="130.49" width="244.80" height="2.20" fill="url(#gb65)"/>
<rect x="405.20" y="132.09" width="244.80" height="2.20" fill="url(#gb66)"/>
<rect x="405.20" y="133.68" width="244.80" height="2.20" fill="url(#gb67)"/>
<rect x="405.20" y="135.28" width="244.80" height="2.20" fill="url(#gb68)"/>
<rect x="405.20" y="136.88" width="244.80" height="2.20" fill="url(#gb69)"/>
<rect x="405.20" y="138.47" width="244.80" height="2.20" fill="url(#gb70)"/>
<rect x="405.20" y="140.07" width="244.80" height="2.20" fill="url(#gb71)"/>
<rect x="405.20" y="141.66" width="244.80" height="2.20" fill="url(#gb72)"/>
<rect x="405.20" y="143.26" width="244.80" height="2.20" fill="url(#gb73)"/>
<rect x="405.20" y="144.85" width="244.80" height="2.20" fill="url(#gb74)"/>
<rect x="405.20" y="146.45" width="244.80" height="2.20" fill="url(#gb75)"/>
<rect x="405.20" y="148.04" width="244.80" height="2.20" fill="url(#gb76)"/>
<rect x="405.20" y="149.64" width="244.80" height="2.20" fill="url(#gb77)"/>
<rect x="405.20" y="151.23" width="244.80" height="2.20" fill="url(#gb78)"/>
<rect x="405.20" y="152.83" width="244.80" height="2.20" fill="url(#gb79)"/>
<rect x="405.20" y="154.42" width="244.80" height="2.20" fill="url(#gb80)"/>
<rect x="405.20" y="156.02" width="244.80" height="2.20" fill="url(#gb81)"/>
<rect x="405.20" y="157.61" width="244.80" height="2.20" fill="url(#gb82)"/>
<rect x="405.20" y="159.21" width="244.80" height="2.20" fill="url(#gb83)"/>
<rect x="405.20" y="160.80" width="244.80" height="1.60" fill="url(#gb84)"/>
<rect x="56.00" y="228.40" width="245.50" height="2.60" fill="url(#gc0)"/>
<rect x="56.00" y="230.40" width="245.50" height="2.60" fill="url(#gc1)"/>
<rect x="56.00" y="232.40" width="245.50" height="2.60" fill="url(#gc2)"/>
<rect x="56.00" y="234.40" width="245.50" height="2.60" fill="url(#gc3)"/>
<rect x="56.00" y="236.40" width="245.50" height="2.60" fill="url(#gc4)"/>
<rect x="56.00" y="238.40" width="245.50" height="2.60" fill="url(#gc5)"/>
<rect x="56.00" y="240.40" width="245.50" height="2.60" fill="url(#gc6)"/>
<rect x="56.00" y="242.40" width="245.50" height="2.60" fill="url(#gc7)"/>
<rect x="56.00" y="244.40" width="245.50" height="2.60" fill="url(#gc8)"/>
<rect x="56.00" y="246.40" width="245.50" height="2.60" fill="url(#gc9)"/>
<rect x="56.00" y="248.40" width="245.50" height="2.60" fill="url(#gc10)"/>
<rect x="56.00" y="250.40" width="245.50" height="2.60" fill="url(#gc11)"/>
<rect x="56.00" y="252.40" width="245.50" height="2.60" fill="url(#gc12)"/>
<rect x="56.00" y="254.40" width="245.50" height="2.60" fill="url(#gc13)"/>
<rect x="56.00" y="256.40" width="245.50" height="2.60" fill="url(#gc14)"/>
<rect x="56.00" y="258.40" width="245.50" height="2.60" fill="url(#gc15)"/>
<rect x="56.00" y="260.40" width="245.50" height="2.60" fill="url(#gc16)"/>
<rect x="56.00" y="262.40" width="245.50" height="2.60" fill="url(#gc17)"/>
<rect x="56.00" y="264.40" width="245.50" height="2.60" fill="url(#gc18)"/>
<rect x="56.00" y="266.40" width="245.50" height="2.60" fill="url(#gc19)"/>
<rect x="56.00" y="268.40" width="245.50" height="2.60" fill="url(#gc20)"/>
<rect x="56.00" y="270.40" width="245.50" height="2.60" fill="url(#gc21)"/>
<rect x="56.00" y="272.40" width="245.50" height="2.60" fill="url(#gc22)"/>
<rect x="56.00" y="274.40" width="245.50" height="2.60" fill="url(#gc23)"/>
<rect x="56.00" y="276.40" width="245.50" height="2.60" fill="url(#gc24)"/>
<rect x="56.00" y="278.40" width="245.50" height="2.60" fill="url(#gc25)"/>
<rect x="56.00" y="280.40" width="245.50" height="2.60" fill="url(#gc26)"/>
<rect x="56.00" y="282.40" width="245.50" height="2.60" fill="url(#gc27)"/>
<rect x="56.00" y="284.40" width="245.50" height="2.60" fill="url(#gc28)"/>
<rect x="56.00" y="286.40" width="245.50" height="2.60" fill="url(#gc29)"/>
<rect x="56.00" y="288.40" width="245.50" height="2.60" fill="url(#gc30)"/>
<rect x="56.00" y="290.40" width="245.50" height="2.60" fill="url(#gc31)"/>
<rect x="56.00" y="292.40" width="245.50" height="2.60" fill="url(#gc32)"/>
<rect x="56.00" y="294.40" width="245.50" height="2.60" fill="url(#gc33)"/>
<rect x="56.00" y="296.40" width="245.50" height="2.60" fill="url(#gc34)"/>
<rect x="56.00" y="298.40" width="245.50" height="2.60" fill="url(#gc35)"/>
<rect x="56.00" y="300.40" width="245.50" height="2.60" fill="url(#gc36)"/>
<rect x="56.00" y="302.40" width="245.50" height="2.60" fill="url(#gc37)"/>
<rect x="56.00" y="304.40" width="245.50" height="2.60" fill="url(#gc38)"/>
<rect x="56.00" y="306.40" width="245.50" height="2.60" fill="url(#gc39)"/>
<rect x="56.00" y="308.40" width="245.50" height="2.60" fill="url(#gc40)"/>
<rect x="56.00" y="310.40" width="245.50" height="2.60" fill="url(#gc41)"/>
<rect x="56.00" y="312.40" width="245.50" height="2.60" fill="url(#gc42)"/>
<rect x="56.00" y="314.40" width="245.50" height="2.60" fill="url(#gc43)"/>
<rect x="56.00" y="316.40" width="245.50" height="2.60" fill="url(#gc44)"/>
<rect x="56.00" y="318.40" width="245.50" height="2.60" fill="url(#gc45)"/>
<rect x="56.00" y="320.40" width="245.50" height="2.60" fill="url(#gc46)"/>
<rect x="56.00" y="322.40" width="245.50" height="2.60" fill="url(#gc47)"/>
<rect x="56.00" y="324.40" width="245.50" height="2.60" fill="url(#gc48)"/>
<rect x="56.00" y="326.40" width="245.50" height="2.60" fill="url(#gc49)"/>
<rect x="56.00" y="328.40" width="245.50" height="2.60" fill="url(#gc50)"/>
<rect x="56.00" y="330.40" width="245.50" height="2.60" fill="url(#gc51)"/>
<rect x="56.00" y="332.40" width="245.50" height="2.60" fill="url(#gc52)"/>
<rect x="56.00" y="334.40" width="245.50" height="2.60" fill="url(#gc53)"/>
<rect x="56.00" y="336.40" width="245.50" height="2.60" fill="url(#gc54)"/>
<rect x="56.00" y="338.40" width="245.50" height="2.60" fill="url(#gc55)"/>
<rect x="56.00" y="340.40" width="245.50" height="2.60" fill="url(#gc56)"/>
<rect x="56.00" y="342.40" width="245.50" height="2.60" fill="url(#gc57)"/>
<rect x="56.00" y="344.40" width="245.50" height="2.60" fill="url(#gc58)"/>
<rect x="56.00" y="346.40" width="245.50" height="2.60" fill="url(#gc59)"/>
<rect x="56.00" y="348.40" width="245.50" height="2.60" fill="url(#gc60)"/>
<rect x="56.00" y="350.40" width="245.50" height="2.60" fill="url(#gc61)"/>
<rect x="56.00" y="352.40" width="245.50" height="2.60" fill="url(#gc62)"/>
<rect x="56.00" y="354.40" width="245.50" height="2.60" fill="url(#gc63)"/>
<rect x="56.00" y="356.40" width="245.50" height="2.60" fill="url(#gc64)"/>
<rect x="56.00" y="358.40" width="245.50" height="2.60" fill="url(#gc65)"/>
<rect x="56.00" y="360.40" width="245.50" height="2.60" fill="url(#gc66)"/>
<rect x="56.00" y="362.40" width="245.50" height="2.00" fill="url(#gc67)"/>
<rect x="405.30" y="228.00" width="242.70" height="2.58" fill="url(#gd0)"/>
<rect x="405.30" y="229.98" width="242.70" height="2.58" fill="url(#gd1)"/>
<rect x="405.30" y="231.95" width="242.70" height="2.58" fill="url(#gd2)"/>
<rect x="405.30" y="233.93" width="242.70" height="2.58" fill="url(#gd3)"/>
<rect x="405.30" y="235.90" width="242.70" height="2.58" fill="url(#gd4)"/>
<rect x="405.30" y="237.88" width="242.70" height="2.58" fill="url(#gd5)"/>
<rect x="405.30" y="239.85" width="242.70" height="2.58" fill="url(#gd6)"/>
<rect x="405.30" y="241.83" width="242.70" height="2.58" fill="url(#gd7)"/>
<rect x="405.30" y="243.80" width="242.70" height="2.58" fill="url(#gd8)"/>
<rect x="405.30" y="245.78" width="242.70" height="2.58" fill="url(#gd9)"/>
<rect x="405.30" y="247.75" width="242.70" height="2.58" fill="url(#gd10)"/>
<rect x="405.30" y="249.73" width="242.70" height="2.58" fill="url(#gd11)"/>
<rect x="405.30" y="251.70" width="242.70" height="2.58" fill="url(#gd12)"/>
<rect x="405.30" y="253.68" width="242.70" height="2.58" fill="url(#gd13)"/>
<rect x="405.30" y="255.66" width="242.70" height="2.58" fill="url(#gd14)"/>
<rect x="405.30" y="257.63" width="242.70" height="2.58" fill="url(#gd15)"/>
<rect x="405.30" y="259.61" width="242.70" height="2.58" fill="url(#gd16)"/>
<rect x="405.30" y="261.58" width="242.70" height="2.58" fill="url(#gd17)"/>
<rect x="405.30" y="263.56" width="242.70" height="2.58" fill="url(#gd18)"/>
<rect x="405.30" y="265.53" width="242.70" height="2.58" fill="url(#gd19)"/>
<rect x="405.30" y="267.51" width="242.70" height="2.58" fill="url(#gd20)"/>
<rect x="405.30" y="269.48" width="242.70" height="2.58" fill="url(#gd21)"/>
<rect x="405.30" y="271.46" width="242.70" height="2.58" fill="url(#gd22)"/>
<rect x="405.30" y="273.43" width="242.70" height="2.58" fill="url(#gd23)"/>
<rect x="405.30" y="275.41" width="242.70" height="2.58" fill="url(#gd24)"/>
<rect x="405.30" y="277.38" width="242.70" height="2.58" fill="url(#gd25)"/>
<rect x="405.30" y="279.36" width="242.70" height="2.58" fill="url(#gd26)"/>
<rect x="405.30" y="281.33" width="242.70" height="2.58" fill="url(#gd27)"/>
<rect x="405.30" y="283.31" width="242.70" height="2.58" fill="url(#gd28)"/>
<rect x="405.30" y="285.29" width="242.70" height="2.58" fill="url(#gd29)"/>
<rect x="405.30" y="287.26" width="242.70" height="2.58" fill="url(#gd30)"/>
<rect x="405.30" y="289.24" width="242.70" height="2.58" fill="url(#gd31)"/>
<rect x="405.30" y="291.21" width="242.70" height="2.58" fill="url(#gd32)"/>
<rect x="405.30" y="293.19" width="242.70" height="2.58" fill="url(#gd33)"/>
<rect x="405.30" y="295.16" width="242.70" height="2.58" fill="url(#gd34)"/>
<rect x="405.30" y="297.14" width="242.70" height="2.58" fill="url(#gd35)"/>
<rect x="405.30" y="299.11" width="242.70" height="2.58" fill="url(#gd36)"/>
<rect x="405.30" y="301.09" width="242.70" height="2.58" fill="url(#gd37)"/>
<rect x="405.30" y="303.06" width="242.70" height="2.58" fill="url(#gd38)"/>
<rect x="405.30" y="305.04" width="242.70" height="2.58" fill="url(#gd39)"/>
<rect x="405.30" y="307.01" width="242.70" height="2.58" fill="url(#gd40)"/>
<rect x="405.30" y="308.99" width="242.70" height="2.58" fill="url(#gd41)"/>
<rect x="405.30" y="310.97" width="242.70" height="2.58" fill="url(#gd42)"/>
<rect x="405.30" y="312.94" width="242.70" height="2.58" fill="url(#gd43)"/>
<rect x="405.30" y="314.92" width="242.70" height="2.58" fill="url(#gd44)"/>
<rect x="405.30" y="316.89" width="242.70" height="2.58" fill="url(#gd45)"/>
<rect x="405.30" y="318.87" width="242.70" height="2.58" fill="url(#gd46)"/>
<rect x="405.30" y="320.84" width="242.70" height="2.58" fill="url(#gd47)"/>
<rect x="405.30" y="322.82" width="242.70" height="2.58" fill="url(#gd48)"/>
<rect x="405.30" y="324.79" width="242.70" height="2.58" fill="url(#gd49)"/>
<rect x="405.30" y="326.77" width="242.70" height="2.58" fill="url(#gd50)"/>
<rect x="405.30" y="328.74" width="242.70" height="2.58" fill="url(#gd51)"/>
<rect x="405.30" y="330.72" width="242.70" height="2.58" fill="url(#gd52)"/>
<rect x="405.30" y="332.69" width="242.70" height="2.58" fill="url(#gd53)"/>
<rect x="405.30" y="334.67" width="242.70" height="2.58" fill="url(#gd54)"/>
<rect x="405.30" y="336.64" width="242.70" height="2.58" fill="url(#gd55)"/>
<rect x="405.30" y="338.62" width="242.70" height="2.58" fill="url(#gd56)"/>
<rect x="405.30" y="340.60" width="242.70" height="2.58" fill="url(#gd57)"/>
<rect x="405.30" y="342.57" width="242.70" height="2.58" fill="url(#gd58)"/>
<rect x="405.30" y="344.55" width="242.70" height="2.58" fill="url(#gd59)"/>
<rect x="405.30" y="346.52" width="242.70" height="2.58" fill="url(#gd60)"/>
<rect x="405.30" y="348.50" width="242.70" height="2.58" fill="url(#gd61)"/>
<rect x="405.30" y="350.47" width="242.70" height="2.58" fill="url(#gd62)"/>
<rect x="405.30" y="352.45" width="242.70" height="2.58" fill="url(#gd63)"/>
<rect x="405.30" y="354.42" width="242.70" height="2.58" fill="url(#gd64)"/>
<rect x="405.30" y="356.40" width="242.70" height="2.58" fill="url(#gd65)"/>
<rect x="405.30" y="358.37" width="242.70" height="2.58" fill="url(#gd66)"/>
<rect x="405.30" y="360.35" width="242.70" height="2.58" fill="url(#gd67)"/>
<rect x="405.30" y="362.32" width="242.70" height="1.98" fill="url(#gd68)"/></g>
<defs>
<marker id="ah" viewBox="0 0 10 10" refX="10" refY="5" markerWidth="7" markerHeight="5.4" markerUnits="userSpaceOnUse" orient="auto-start-reverse"><path d="M0,0 L10,5 L0,10 z" fill="#2b2b2b"/></marker>
</defs>
<g>
<!-- metallic target -->
<polygon points="22,33.2 262.1,33.2 320,192.5 80.5,192.5" fill="#898989"/>
<!-- extension lines -->
<g stroke="#a8a8a8" stroke-width="1" fill="none">
<line x1="262" y1="33.5" x2="309.5" y2="33.5"/>
<line x1="270" y1="81.5" x2="308" y2="81.5"/>
<line x1="283" y1="120.8" x2="323" y2="120.8"/>
<line x1="320" y1="192.8" x2="368" y2="192.8"/>
</g>
<!-- substrate -->
<polygon points="58.5,84.8 63.6,81.1 77.6,121 73.3,124.3" fill="#7c6145"/>
<polygon points="63.6,81.1 270,81.1 284.1,120.6 77.6,121" fill="#876a4e"/>
<polygon points="77.6,121 284.1,120.6 281.5,124.4 73.3,124.3" fill="#917253"/>
<g stroke="#5d4a35" stroke-width="0.8" fill="none">
<polyline points="58.5,84.8 63.6,81.1 270,81.1 284.1,120.6 281.5,124.4 73.3,124.3 58.5,84.8"/>
<line x1="63.6" y1="81.1" x2="77.6" y2="121"/>
<line x1="77.6" y1="121" x2="284.1" y2="120.6"/>
</g>
<line x1="275.5" y1="81.3" x2="288.5" y2="120.6" stroke="#7a7a7a" stroke-width="0.7"/>
<!-- ls extension -->
<g stroke="#3a3a3a" stroke-width="0.7" fill="none">
<line x1="74.5" y1="124.5" x2="87.5" y2="150.5"/>
<line x1="282" y1="124.5" x2="294.3" y2="150"/>
<line x1="52.4" y1="74.3" x2="41.8" y2="84.6"/>
<line x1="70.7" y1="73.7" x2="58.5" y2="85.2"/>
</g>
<!-- strip -->
<rect x="81.5" y="98.7" width="184" height="3.4" fill="#ffcc00"/>
<!-- capacitor pads -->
<polygon points="164.4,96 167.2,96 170,104.6 167,104.6" fill="#ffcc00"/>
<polygon points="178,96 180.8,96 183.5,104.6 180.6,104.6" fill="#ffcc00"/>
<rect x="166.9" y="93.2" width="10.3" height="5.9" rx="1.5" fill="#45454c" transform="skewX(0)"/>
<rect x="168.6" y="99.8" width="10.8" height="6.2" rx="1.5" fill="#45454c"/>
<!-- bias lines -->
<g stroke="#f0c000" stroke-width="1.7" fill="none">
<line x1="53.4" y1="23" x2="112.6" y2="183"/>
<line x1="236.5" y1="23" x2="296.6" y2="183.2"/>
</g>
<!-- dimension arrows -->
<g stroke="#2b2b2b" stroke-width="1.2" fill="none">
<line x1="126" y1="23" x2="54" y2="23" marker-end="url(#ah)"/>
<line x1="164.3" y1="23" x2="236.5" y2="23" marker-end="url(#ah)"/>
<line x1="65.5" y1="52.6" x2="246.7" y2="52.6" marker-start="url(#ah)" marker-end="url(#ah)"/>
<line x1="20" y1="76.3" x2="49.9" y2="76.3" marker-end="url(#ah)"/>
<line x1="97.5" y1="76.3" x2="68.1" y2="76.3" marker-end="url(#ah)"/>
<line x1="85.5" y1="143.2" x2="291.5" y2="143.2" marker-start="url(#ah)" marker-end="url(#ah)"/>
<line x1="302.5" y1="81.8" x2="316" y2="120" marker-start="url(#ah)" marker-end="url(#ah)"/>
<line x1="304.5" y1="35" x2="360.9" y2="191" stroke-width="1.1" marker-start="url(#ah)" marker-end="url(#ah)"/>
<line x1="103.2" y1="191.9" x2="112" y2="183.4" stroke-width="1" marker-start="url(#ah)" marker-end="url(#ah)"/>
</g>
<!-- labels -->
<g font-size="15">
<text x="131" y="27.5">bias</text>
<text x="154.3" y="50.8" font-size="14">l</text>
<text x="21" y="71.8" font-size="14">w/2</text>
<text x="181.5" y="140.7" font-size="14">ls</text>
<text x="95" y="186.6" font-size="14.5">h</text>
<text x="157.5" y="187">metallic target</text>
<text x="335" y="110.2" font-size="14.5">d</text>
<text x="291" y="105.5" font-size="14">w</text>
<text x="302.5" y="110.8" font-size="11">s</text>
<text x="162" y="91" font-size="13">C</text>
<text x="169.5" y="118.1" font-size="13">Cv</text>
<text x="171" y="91.6" font-size="14.5" stroke="#000" stroke-width="0.5" transform="translate(171 0) scale(1.25 1) translate(-171 0)">ω</text>
</g>
</g>

<g font-size="15">
<!-- panel labels -->
<text x="10.4" y="21.0">(a)</text>
<text x="359.1" y="20.6">(b)</text>
<text x="10" y="224.9">(c)</text>
<text x="359.1" y="225.2">(d)</text>
<!-- titles -->
<text x="475" y="22.9">Phase shift [</text><text x="577" y="22.9">]</text>
<text x="129" y="223.2">Phase shift [</text><text x="228" y="223.2">]</text>
<text x="475.5" y="222.7">Phase shift [</text><text x="576" y="222.7">]</text>
</g>
<g fill="none" stroke="#111" stroke-width="1.0">
<ellipse cx="569.1" cy="11.2" rx="1.75" ry="2.0"/>
<ellipse cx="223.0" cy="211.2" rx="1.75" ry="2.0"/>
<ellipse cx="569.2" cy="211.4" rx="1.75" ry="2.0"/>
</g>
<!-- b axes -->
<g font-size="15" text-anchor="end">
<text x="402.5" y="31.4">50</text>
<text x="402.5" y="58.6">40</text>
<text x="402.5" y="85.9">30</text>
<text x="402.5" y="113.1">20</text>
<text x="402.5" y="140.3">10</text>
<text x="402.5" y="167.3">2</text>
</g>
<g font-size="15" text-anchor="middle">
<text x="405.05" y="179.2">0.5</text>
<text x="453.77" y="179.2">1.0</text>
<text x="502.49" y="179.2">1.5</text>
<text x="551.21" y="179.2">2.0</text>
<text x="599.93" y="179.2">2.5</text>
<text x="648.65" y="179.2">3.0</text>
<text x="528" y="198.1">f [GHz]</text>
<text transform="translate(372.9 95.3) rotate(-90)">h [mm]</text>
</g>
<g font-size="15">
<text x="675.5" y="32.8">360</text>
<text x="675" y="168.3">0</text>
</g>
<!-- c axes -->
<g font-size="15" text-anchor="end">
<text x="53.2" y="233.6">2.6</text>
<text x="53.2" y="260.8">2.2</text>
<text x="53.2" y="288.0">1.8</text>
<text x="53.2" y="315.2">1.4</text>
<text x="53.2" y="342.4">1.0</text>
<text x="53.2" y="369.6">0.6</text>
</g>
<g font-size="15" text-anchor="middle">
<text x="56.85" y="381.6">0.5</text>
<text x="105.58" y="381.6">1.0</text>
<text x="154.31" y="381.6">1.5</text>
<text x="203.04" y="381.6">2.0</text>
<text x="251.77" y="381.6">2.5</text>
<text x="300.50" y="381.6">3.0</text>
<text x="177.6" y="401.6">f [GHz]</text>
<text font-size="14.7" transform="translate(23.6 300) rotate(-90)">Capacitance [pF]</text>
</g>
<g font-size="15">
<text x="329" y="234.5">360</text>
<text x="329" y="370.2">0</text>
</g>
<!-- d axes -->
<g font-size="15" text-anchor="end">
<text x="402.2" y="233.3">2.0</text>
<text x="402.2" y="260.6">1.6</text>
<text x="402.2" y="287.8">1.2</text>
<text x="402.2" y="315.1">0.8</text>
<text x="402.2" y="342.4">0.4</text>
<text x="402.2" y="369.6">0</text>
</g>
<g font-size="15" text-anchor="middle">
<text x="405.25" y="381.9">0.5</text>
<text x="453.95" y="381.9">1.0</text>
<text x="502.65" y="381.9">1.5</text>
<text x="551.35" y="381.9">2.0</text>
<text x="600.05" y="381.9">2.5</text>
<text x="648.75" y="381.9">3.0</text>
<text x="525.8" y="401.1">f [GHz]</text>
<text font-size="14.7" transform="translate(372.8 299.1) rotate(-90)">Capacitance [pF]</text>
</g>
<g font-size="15">
<text x="675.5" y="234.5">360</text>
<text x="675.5" y="369.9">0</text>
</g>
<!-- colorbars -->
<g fill="url(#cbar)" stroke="#777" stroke-width="1">
<rect x="655.3" y="27.3" width="17" height="134.6"/>
<rect x="308.8" y="228.7" width="17.4" height="135.2"/>
<rect x="655.4" y="228.6" width="17" height="135.2"/>
</g>
<g stroke="#7a7a40" stroke-width="0.8" opacity="0.6"><line x1="670.1" y1="38.0" x2="671.8" y2="38.0"/><line x1="670.1" y1="58.8" x2="671.8" y2="58.8"/><line x1="670.1" y1="79.6" x2="671.8" y2="79.6"/><line x1="670.1" y1="100.4" x2="671.8" y2="100.4"/><line x1="670.1" y1="121.2" x2="671.8" y2="121.2"/><line x1="670.1" y1="142.0" x2="671.8" y2="142.0"/><line x1="324.0" y1="239.4" x2="325.7" y2="239.4"/><line x1="324.0" y1="260.2" x2="325.7" y2="260.2"/><line x1="324.0" y1="281.0" x2="325.7" y2="281.0"/><line x1="324.0" y1="301.8" x2="325.7" y2="301.8"/><line x1="324.0" y1="322.6" x2="325.7" y2="322.6"/><line x1="324.0" y1="343.4" x2="325.7" y2="343.4"/><line x1="670.2" y1="239.3" x2="671.9" y2="239.3"/><line x1="670.2" y1="260.1" x2="671.9" y2="260.1"/><line x1="670.2" y1="280.9" x2="671.9" y2="280.9"/><line x1="670.2" y1="301.7" x2="671.9" y2="301.7"/><line x1="670.2" y1="322.5" x2="671.9" y2="322.5"/><line x1="670.2" y1="343.3" x2="671.9" y2="343.3"/></g>

</svg>
</body></html>
